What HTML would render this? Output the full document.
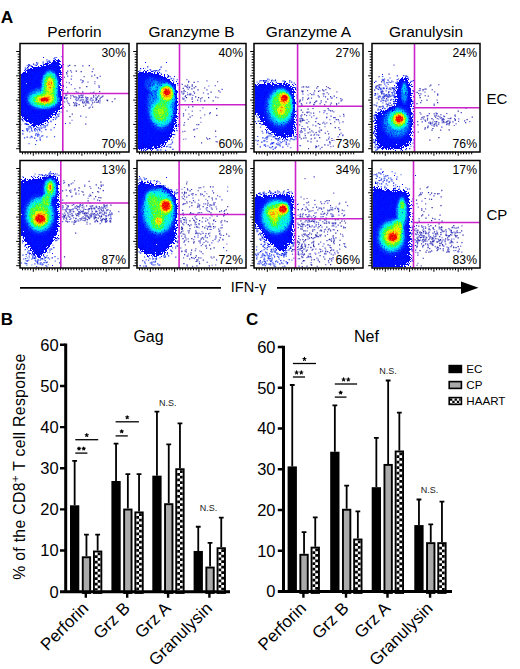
<!DOCTYPE html><html><head><meta charset="utf-8"><style>html,body{margin:0;padding:0;background:#fff;width:520px;height:669px;overflow:hidden}svg{display:block}text{font-family:"Liberation Sans", sans-serif;fill:#000}</style></head><body><svg width="520" height="669" viewBox="0 0 520 669"><defs><filter id="jet" x="0" y="0" width="1" height="1" color-interpolation-filters="sRGB"><feGaussianBlur in="SourceAlpha" stdDeviation="0.45" result="a0"/><feTurbulence type="fractalNoise" baseFrequency="0.7" numOctaves="2" seed="9" result="n"/><feComposite in="a0" in2="n" operator="arithmetic" k1="0.44" k2="0.78" k3="0" k4="0" result="a"/><feColorMatrix in="a" type="matrix" values="0 0 0 1 0 0 0 0 1 0 0 0 0 1 0 0 0 0 0 1"/><feComponentTransfer><feFuncR type="table" tableValues="1 1 1 1 1 1 1 0 0 0 0 0 0 0 0 0 0 0 0 0 0 0 0 0 0 0 0 0 0 0 0 0 0 0 0 0 0 0 0 0 0 0 0 0 0 0 0 0 0 0 0 0 0 0 0 0 0 0 0 0 0 0 0 0 0 0 0 0 0 0 0 0 0 0 0 0 0 0 0 0 0 0 0 0.008 0.017 0.025 0.033 0.042 0.05 0.058 0.067 0.075 0.083 0.092 0.1 0.122 0.144 0.166 0.188 0.21 0.232 0.254 0.276 0.298 0.32 0.35 0.38 0.41 0.44 0.47 0.5 0.53 0.56 0.59 0.62 0.65 0.68 0.707 0.733 0.76 0.787 0.813 0.84 0.867 0.893 0.92 0.947 0.973 1 1 1 1 1 1 1 1 1 1 1 1 1 1 1 1 1 1 1 1 1 1 1 1 1 1 1 1 1 1 1 1 1 0.997 0.994 0.991 0.988 0.984 0.981 0.978 0.975 0.972 0.969 0.966 0.963 0.959 0.956 0.953 0.95 0.944 0.938 0.931 0.925 0.919 0.912 0.906 0.9 0.894 0.887 0.881 0.875 0.869 0.863 0.856 0.85 0.844 0.838 0.831 0.825 0.819 0.812 0.806 0.8"/><feFuncG type="table" tableValues="1 1 1 1 1 1 1 0 0.002 0.003 0.005 0.006 0.008 0.009 0.011 0.012 0.014 0.015 0.017 0.018 0.02 0.021 0.023 0.024 0.026 0.027 0.029 0.03 0.032 0.033 0.035 0.036 0.038 0.039 0.041 0.042 0.044 0.045 0.047 0.048 0.05 0.062 0.075 0.087 0.1 0.112 0.125 0.137 0.15 0.162 0.175 0.188 0.2 0.23 0.26 0.29 0.32 0.35 0.38 0.41 0.44 0.47 0.5 0.53 0.56 0.59 0.62 0.65 0.68 0.71 0.74 0.77 0.8 0.82 0.84 0.86 0.88 0.9 0.92 0.94 0.96 0.98 1 1 1 1 1 1 1 1 1 1 1 1 1 1 1 1 1 1 1 1 1 1 1 1 1 1 1 1 1 1 1 1 1 1 1 0.996 0.992 0.988 0.983 0.979 0.975 0.971 0.967 0.962 0.958 0.954 0.95 0.925 0.9 0.875 0.85 0.825 0.8 0.775 0.75 0.725 0.7 0.675 0.65 0.625 0.6 0.575 0.55 0.525 0.5 0.475 0.45 0.425 0.4 0.375 0.35 0.325 0.3 0.275 0.25 0.225 0.2 0.175 0.15 0.141 0.131 0.122 0.113 0.103 0.094 0.084 0.075 0.066 0.056 0.047 0.038 0.028 0.019 0.009 0 0 0 0 0 0 0 0 0 0 0 0 0 0 0 0 0 0 0 0 0 0 0 0 0"/><feFuncB type="table" tableValues="1 1 1 1 1 1 1 0.92 0.922 0.925 0.927 0.93 0.932 0.935 0.937 0.939 0.942 0.944 0.947 0.949 0.952 0.954 0.956 0.959 0.961 0.964 0.966 0.968 0.971 0.973 0.976 0.978 0.981 0.983 0.985 0.988 0.99 0.993 0.995 0.998 1 1 1 1 1 1 1 1 1 1 1 1 1 1 1 1 1 1 1 1 1 1 1 1 1 1 1 1 1 1 1 1 1 0.99 0.98 0.97 0.96 0.95 0.94 0.93 0.92 0.91 0.9 0.867 0.833 0.8 0.767 0.733 0.7 0.667 0.633 0.6 0.567 0.533 0.5 0.465 0.43 0.395 0.36 0.325 0.29 0.255 0.22 0.185 0.15 0.137 0.125 0.112 0.1 0.087 0.075 0.062 0.05 0.038 0.025 0.013 0 0 0 0 0 0 0 0 0 0 0 0 0 0 0 0 0 0 0 0 0 0 0 0 0 0 0 0 0 0 0 0 0 0 0 0 0 0 0 0 0 0 0 0 0 0 0 0 0 0 0 0 0 0 0 0 0 0 0 0 0 0 0 0 0 0 0 0 0 0 0 0 0 0 0 0 0 0 0 0 0 0 0 0 0"/></feComponentTransfer></filter><filter id="es" x="-10%" y="-10%" width="120%" height="120%" color-interpolation-filters="sRGB"><feGaussianBlur in="SourceGraphic" stdDeviation="2.4" result="b"/><feTurbulence type="fractalNoise" baseFrequency="0.9" numOctaves="2" seed="3" result="n"/><feComposite in="b" in2="n" operator="arithmetic" k1="0" k2="3" k3="0.9" k4="-0.69"/><feComponentTransfer><feFuncA type="table" tableValues="0 0.1 0.2 0.2 0.2 0.2 0.2 0.2 0.2 0.2 0.2"/></feComponentTransfer></filter><radialGradient id="g"><stop offset="0" stop-opacity="1"/><stop offset="0.6" stop-opacity="1"/><stop offset="0.75" stop-opacity="0.8"/><stop offset="0.85" stop-opacity="0.45"/><stop offset="0.93" stop-opacity="0.15"/><stop offset="1" stop-opacity="0"/></radialGradient><pattern id="chk" width="3.2" height="3.2" patternUnits="userSpaceOnUse"><rect width="3.2" height="3.2" fill="#fff"/><rect width="1.6" height="1.6" fill="#000"/><rect x="1.6" y="1.6" width="1.6" height="1.6" fill="#000"/></pattern><filter id="bl1" x="-30%" y="-30%" width="160%" height="160%"><feGaussianBlur stdDeviation="1.0"/></filter><filter id="bl2" x="-30%" y="-30%" width="160%" height="160%"><feGaussianBlur stdDeviation="1.5"/></filter><filter id="bl3" x="-30%" y="-30%" width="160%" height="160%"><feGaussianBlur stdDeviation="2.0"/></filter></defs><text x="0.8" y="23.2" font-size="17.3" font-weight="bold">A</text><text x="74.5" y="36.6" font-size="15.5" text-anchor="middle">Perforin</text><text x="191.5" y="36.6" font-size="15.5" text-anchor="middle">Granzyme B</text><text x="308.5" y="36.6" font-size="15.5" text-anchor="middle">Granzyme A</text><text x="426" y="36.6" font-size="15.5" text-anchor="middle">Granulysin</text><clipPath id="c0"><rect x="20.8" y="44.3" width="107.4" height="106.9"/></clipPath><g clip-path="url(#c0)"><g filter="url(#jet)"><rect x="17" y="40.5" width="115" height="114.5" fill="none"/><path d="M19.11 75.68C19.69 69.27 21.45 74.93 22.72 74.08C24 73.23 25.11 71.65 26.73 70.57C28.35 69.5 29.52 68.61 32.46 67.62C35.4 66.63 40.8 65.74 44.39 64.64C47.97 63.54 51.43 61.99 53.96 61.01C56.5 60.04 58.46 59.16 59.6 58.8C60.74 58.43 60.64 55.28 60.79 58.82C60.94 62.35 60.54 72.04 60.5 80C60.46 87.96 61.47 100.94 60.57 106.59C59.66 112.24 57.36 111.52 55.05 113.91C52.75 116.3 49.26 119.06 46.73 120.95C44.21 122.84 42.29 124.46 39.9 125.26C37.52 126.06 34.75 126.63 32.41 125.77C30.08 124.9 28.11 122.28 25.91 120.08C23.72 117.87 20.35 119.94 19.22 112.54C18.08 105.14 18.52 82.09 19.11 75.68Z" fill-opacity="0.2" filter="url(#es)"/><ellipse cx="43.5" cy="98.5" rx="20" ry="12.94" fill="url(#g)" opacity="0.138"/><ellipse cx="50" cy="85" rx="10.35" ry="17.06" fill="url(#g)" opacity="0.138"/><ellipse cx="43.5" cy="100" rx="16.94" ry="9.88" fill="url(#g)" opacity="0.145"/><ellipse cx="49.9" cy="84.3" rx="9.41" ry="15.29" fill="url(#g)" opacity="0.145"/><ellipse cx="44.5" cy="99.7" rx="13.41" ry="7.06" fill="url(#g)" opacity="0.186"/><ellipse cx="49.9" cy="84.3" rx="6.59" ry="11.18" fill="url(#g)" opacity="0.186"/><ellipse cx="44.5" cy="99.7" rx="9.18" ry="4.59" fill="url(#g)" opacity="0.250"/><ellipse cx="49.9" cy="84.3" rx="4" ry="7.65" fill="url(#g)" opacity="0.250"/><ellipse cx="44.5" cy="99.7" rx="6.59" ry="3.18" fill="url(#g)" opacity="0.222"/><ellipse cx="49.9" cy="84.3" rx="2.35" ry="4.24" fill="url(#g)" opacity="0.111"/><ellipse cx="44.5" cy="99.7" rx="5.06" ry="2.12" fill="url(#g)" opacity="0.500"/></g><path fill="#2626a8" d="M64.25 96.52h1.2v1.2h-1.2zM65.17 94.56h1.2v1.2h-1.2zM65.64 98.01h1.2v1.2h-1.2zM66.06 72.02h1.2v1.2h-1.2zM66.45 97.29h1.2v1.2h-1.2zM66.64 100.4h1.2v1.2h-1.2zM66.48 110.39h1.2v1.2h-1.2zM67.15 91.53h1.2v1.2h-1.2zM69.1 64.69h1.2v1.2h-1.2zM69.32 116.11h1.2v1.2h-1.2zM70.05 70.15h1.2v1.2h-1.2zM70.25 95.35h1.2v1.2h-1.2zM73.06 96.17h1.2v1.2h-1.2zM73.13 101.98h1.2v1.2h-1.2zM74.47 65.1h1.2v1.2h-1.2zM74.33 88.14h1.2v1.2h-1.2zM74.09 96.39h1.2v1.2h-1.2zM74.31 103.36h1.2v1.2h-1.2zM74.06 104.65h1.2v1.2h-1.2zM75.7 70.47h1.2v1.2h-1.2zM75.65 105.35h1.2v1.2h-1.2zM75.92 104.43h1.2v1.2h-1.2zM78.52 104.01h1.2v1.2h-1.2zM79.28 87.23h1.2v1.2h-1.2zM79.17 96.97h1.2v1.2h-1.2zM80.6 71.11h1.2v1.2h-1.2zM80.61 93.26h1.2v1.2h-1.2zM80.48 95.09h1.2v1.2h-1.2zM81.36 99.34h1.2v1.2h-1.2zM81.95 92.63h1.2v1.2h-1.2zM82.03 101.5h1.2v1.2h-1.2zM83.62 76.17h1.2v1.2h-1.2zM83.02 105.65h1.2v1.2h-1.2zM83.9 101.45h1.2v1.2h-1.2zM85.19 104.51h1.2v1.2h-1.2zM86.19 86.03h1.2v1.2h-1.2zM86.38 101.55h1.2v1.2h-1.2zM87.26 97.22h1.2v1.2h-1.2zM87.53 100.64h1.2v1.2h-1.2zM88.7 65.01h1.2v1.2h-1.2zM88.5 107.58h1.2v1.2h-1.2zM92.63 68.39h1.2v1.2h-1.2zM92.41 99.51h1.2v1.2h-1.2zM92.03 102.23h1.2v1.2h-1.2zM92.93 95.32h1.2v1.2h-1.2zM95.99 98.22h1.2v1.2h-1.2zM96.17 99.01h1.2v1.2h-1.2zM96.1 101.65h1.2v1.2h-1.2zM96.94 96.53h1.2v1.2h-1.2zM97.48 101.53h1.2v1.2h-1.2zM98.22 95.3h1.2v1.2h-1.2zM97.98 100.18h1.2v1.2h-1.2zM99.62 75.63h1.2v1.2h-1.2zM99.35 98.23h1.2v1.2h-1.2zM101.13 96.61h1.2v1.2h-1.2zM102.27 95.62h1.2v1.2h-1.2zM106.45 99.56h1.2v1.2h-1.2zM106.99 99.99h1.2v1.2h-1.2zM111.65 101.16h1.2v1.2h-1.2zM114.32 98.24h1.2v1.2h-1.2z"/><path fill="#3c3cc0" d="M63.92 76.63h1.2v1.2h-1.2zM64.14 101.39h1.2v1.2h-1.2zM66.25 73.2h1.2v1.2h-1.2zM66.16 94.53h1.2v1.2h-1.2zM67.61 65.6h1.2v1.2h-1.2zM67.1 70.58h1.2v1.2h-1.2zM67.09 75.6h1.2v1.2h-1.2zM68.68 82.28h1.2v1.2h-1.2zM68.98 104.63h1.2v1.2h-1.2zM69.34 122.43h1.2v1.2h-1.2zM70.65 78.6h1.2v1.2h-1.2zM71.7 113.48h1.2v1.2h-1.2zM75.6 91.2h1.2v1.2h-1.2zM75.34 96.35h1.2v1.2h-1.2zM76.03 97.42h1.2v1.2h-1.2zM76.24 103h1.2v1.2h-1.2zM77.96 98.32h1.2v1.2h-1.2zM79 95.61h1.2v1.2h-1.2zM80.36 79.26h1.2v1.2h-1.2zM80.14 115.48h1.2v1.2h-1.2zM80.92 97.04h1.2v1.2h-1.2zM82.25 65.26h1.2v1.2h-1.2zM82.32 80.01h1.2v1.2h-1.2zM82.45 81.08h1.2v1.2h-1.2zM82.14 91.26h1.2v1.2h-1.2zM82.15 95.16h1.2v1.2h-1.2zM82.01 96.52h1.2v1.2h-1.2zM82.52 102.6h1.2v1.2h-1.2zM85.06 96.59h1.2v1.2h-1.2zM85.45 99.95h1.2v1.2h-1.2zM85.15 123.59h1.2v1.2h-1.2zM86.62 96.91h1.2v1.2h-1.2zM86.41 100.46h1.2v1.2h-1.2zM86.35 102.33h1.2v1.2h-1.2zM87.09 98.66h1.2v1.2h-1.2zM89.68 99.42h1.2v1.2h-1.2zM90.14 92.55h1.2v1.2h-1.2zM91.67 71.12h1.2v1.2h-1.2zM91.24 75.6h1.2v1.2h-1.2zM91.17 97.67h1.2v1.2h-1.2zM92.52 92.23h1.2v1.2h-1.2zM92.04 106.59h1.2v1.2h-1.2zM93 96.45h1.2v1.2h-1.2zM94.12 74.48h1.2v1.2h-1.2zM94.3 81.14h1.2v1.2h-1.2zM94.12 101.54h1.2v1.2h-1.2zM95.32 97.99h1.2v1.2h-1.2zM95.31 99.68h1.2v1.2h-1.2zM96.62 77.04h1.2v1.2h-1.2zM99.08 91.01h1.2v1.2h-1.2zM99.43 100.27h1.2v1.2h-1.2z"/><path fill="#6060d4" d="M65.96 81.63h1.2v1.2h-1.2zM65.96 86.63h1.2v1.2h-1.2zM65.91 98.37h1.2v1.2h-1.2zM67.33 102.24h1.2v1.2h-1.2zM68.35 103.03h1.2v1.2h-1.2zM70.69 84.05h1.2v1.2h-1.2zM70.04 97.49h1.2v1.2h-1.2zM70.92 71.53h1.2v1.2h-1.2zM71.02 75.62h1.2v1.2h-1.2zM71.4 119.63h1.2v1.2h-1.2zM72.37 94.9h1.2v1.2h-1.2zM73.61 104.95h1.2v1.2h-1.2zM74.95 98.52h1.2v1.2h-1.2zM75.63 100.16h1.2v1.2h-1.2zM75.29 101.93h1.2v1.2h-1.2zM76.13 99.56h1.2v1.2h-1.2zM77.41 91.69h1.2v1.2h-1.2zM77.5 97.33h1.2v1.2h-1.2zM77.38 99.52h1.2v1.2h-1.2zM77.99 95.25h1.2v1.2h-1.2zM79.43 100.34h1.2v1.2h-1.2zM80.1 99.47h1.2v1.2h-1.2zM81.48 82.11h1.2v1.2h-1.2zM82.34 94.58h1.2v1.2h-1.2zM82.38 97.11h1.2v1.2h-1.2zM82.06 100.68h1.2v1.2h-1.2zM82.94 99.26h1.2v1.2h-1.2zM84.6 103.16h1.2v1.2h-1.2zM85.39 98.39h1.2v1.2h-1.2zM85.54 101.3h1.2v1.2h-1.2zM85.48 116.59h1.2v1.2h-1.2zM85.92 97.99h1.2v1.2h-1.2zM86.04 99.41h1.2v1.2h-1.2zM87.36 81.48h1.2v1.2h-1.2zM87.4 101.94h1.2v1.2h-1.2zM88.24 102.46h1.2v1.2h-1.2zM89.56 106.49h1.2v1.2h-1.2zM90.52 97.51h1.2v1.2h-1.2zM90.3 98.42h1.2v1.2h-1.2zM91.31 100.2h1.2v1.2h-1.2zM91.1 104.3h1.2v1.2h-1.2zM93.43 91.38h1.2v1.2h-1.2zM94.26 83.15h1.2v1.2h-1.2zM95.27 94.46h1.2v1.2h-1.2zM95.46 96.67h1.2v1.2h-1.2zM97 77.5h1.2v1.2h-1.2zM98.38 85.01h1.2v1.2h-1.2zM98.5 86.32h1.2v1.2h-1.2zM98.69 86.9h1.2v1.2h-1.2zM99.23 102.32h1.2v1.2h-1.2zM99.97 97.34h1.2v1.2h-1.2z"/><path fill="#0a1ee6" d="M22 130.07h1.2v1.2h-1.2zM22.23 133.28h1.2v1.2h-1.2zM24.46 123.31h1.2v1.2h-1.2zM25.34 123.15h1.2v1.2h-1.2zM26.26 123.2h1.2v1.2h-1.2zM26.6 136.57h1.2v1.2h-1.2zM27.33 67.26h1.2v1.2h-1.2zM27.01 130.31h1.2v1.2h-1.2zM28.18 63.98h1.2v1.2h-1.2zM28.2 65.39h1.2v1.2h-1.2zM29.01 64.58h1.2v1.2h-1.2zM30.5 65.29h1.2v1.2h-1.2zM30.91 127.51h1.2v1.2h-1.2zM31.49 136.43h1.2v1.2h-1.2zM32.95 63.58h1.2v1.2h-1.2zM34.35 128.18h1.2v1.2h-1.2zM34 129.52h1.2v1.2h-1.2zM34.2 137.53h1.2v1.2h-1.2zM35.11 134.54h1.2v1.2h-1.2zM36 62.29h1.2v1.2h-1.2zM37.29 133.64h1.2v1.2h-1.2zM37.13 135.46h1.2v1.2h-1.2zM39.08 128.64h1.2v1.2h-1.2zM39.06 129.51h1.2v1.2h-1.2zM41.18 127.47h1.2v1.2h-1.2zM41.32 135.49h1.2v1.2h-1.2zM44.63 125.54h1.2v1.2h-1.2zM45.28 129.11h1.2v1.2h-1.2zM46.58 61.15h1.2v1.2h-1.2zM46.63 124.62h1.2v1.2h-1.2zM47 61.63h1.2v1.2h-1.2zM47.63 122.12h1.2v1.2h-1.2zM48.2 60.58h1.2v1.2h-1.2zM49.14 60.48h1.2v1.2h-1.2zM52.61 118.96h1.2v1.2h-1.2zM53.93 136.16h1.2v1.2h-1.2zM56.2 117.14h1.2v1.2h-1.2zM57.55 115.61h1.2v1.2h-1.2zM58.41 113.21h1.2v1.2h-1.2zM58.17 115.62h1.2v1.2h-1.2z"/><path fill="#2844f0" d="M20.92 118.47h1.2v1.2h-1.2zM22.07 119.96h1.2v1.2h-1.2zM23.94 137.33h1.2v1.2h-1.2zM25.39 67.95h1.2v1.2h-1.2zM25.95 128.27h1.2v1.2h-1.2zM26.26 129.67h1.2v1.2h-1.2zM27.21 68.54h1.2v1.2h-1.2zM27.45 124.12h1.2v1.2h-1.2zM27.3 128.28h1.2v1.2h-1.2zM27.92 126.38h1.2v1.2h-1.2zM29.12 126.11h1.2v1.2h-1.2zM30.08 126.32h1.2v1.2h-1.2zM30.64 135.68h1.2v1.2h-1.2zM30.9 129.34h1.2v1.2h-1.2zM31.58 130.51h1.2v1.2h-1.2zM32.96 126.56h1.2v1.2h-1.2zM34.61 64.45h1.2v1.2h-1.2zM35.54 133.11h1.2v1.2h-1.2zM34.98 143.92h1.2v1.2h-1.2zM36.54 127.07h1.2v1.2h-1.2zM36.22 129.03h1.2v1.2h-1.2zM36.05 140.03h1.2v1.2h-1.2zM37.17 62.45h1.2v1.2h-1.2zM37.54 127.13h1.2v1.2h-1.2zM37.23 134.19h1.2v1.2h-1.2zM38.43 134.3h1.2v1.2h-1.2zM39.42 127.19h1.2v1.2h-1.2zM39.46 136.63h1.2v1.2h-1.2zM39.49 138.6h1.2v1.2h-1.2zM39.69 139.55h1.2v1.2h-1.2zM42.61 62.15h1.2v1.2h-1.2zM42.58 124.31h1.2v1.2h-1.2zM44.44 126.93h1.2v1.2h-1.2zM46.4 59.23h1.2v1.2h-1.2zM46.29 136.18h1.2v1.2h-1.2zM50.22 120.49h1.2v1.2h-1.2zM50.46 121.1h1.2v1.2h-1.2zM50.41 129.19h1.2v1.2h-1.2zM53.45 58.05h1.2v1.2h-1.2zM53.58 127.06h1.2v1.2h-1.2zM54.35 57h1.2v1.2h-1.2zM55.69 116.41h1.2v1.2h-1.2zM55 118.49h1.2v1.2h-1.2zM57.12 114.03h1.2v1.2h-1.2z"/><path fill="#5a74f4" d="M23.06 120.4h1.2v1.2h-1.2zM23.13 130.42h1.2v1.2h-1.2zM24.68 67.28h1.2v1.2h-1.2zM24.46 69.53h1.2v1.2h-1.2zM26.64 65.11h1.2v1.2h-1.2zM27.12 129.1h1.2v1.2h-1.2zM28.43 128.21h1.2v1.2h-1.2zM28.44 143.01h1.2v1.2h-1.2zM29.03 125.7h1.2v1.2h-1.2zM29.6 127.06h1.2v1.2h-1.2zM29.19 131.33h1.2v1.2h-1.2zM29.54 137.22h1.2v1.2h-1.2zM34.62 130.57h1.2v1.2h-1.2zM36.58 64.04h1.2v1.2h-1.2zM36.95 130.25h1.2v1.2h-1.2zM37.6 132.42h1.2v1.2h-1.2zM38.08 128.48h1.2v1.2h-1.2zM39.23 130.01h1.2v1.2h-1.2zM40.36 125.44h1.2v1.2h-1.2zM41.07 131.13h1.2v1.2h-1.2zM42.59 61.25h1.2v1.2h-1.2zM42.57 63.34h1.2v1.2h-1.2zM42.62 126.6h1.2v1.2h-1.2zM42.25 135.02h1.2v1.2h-1.2zM43.61 125.12h1.2v1.2h-1.2zM46.36 125.12h1.2v1.2h-1.2zM47.22 124.16h1.2v1.2h-1.2zM53.96 58.06h1.2v1.2h-1.2zM54.34 117.35h1.2v1.2h-1.2zM56.02 56.91h1.2v1.2h-1.2zM60.51 111.44h1.2v1.2h-1.2zM60.9 56.17h1.2v1.2h-1.2z"/></g><path d="M62.8 43.5V152 M62.8 93.5H129" stroke="#cc22cc" stroke-width="1.6" fill="none"/><rect x="20" y="43.5" width="109" height="108.5" fill="none" stroke="#000" stroke-width="1.5"/><path d="M20 51.5h-3.8M20 54.2h-2.3M20 56.9h-2.3M20 59.6h-2.3M20 62.3h-2.3M20 65h-2.3M20 67.7h-2.3M20 70.4h-2.3M20 73.1h-2.3M20 75.8h-3.8M20 78.5h-2.3M20 81.2h-2.3M20 83.9h-2.3M20 86.6h-2.3M20 89.3h-2.3M20 92h-2.3M20 94.7h-2.3M20 97.4h-2.3M20 100.1h-3.8M20 102.8h-2.3M20 105.5h-2.3M20 108.2h-2.3M20 110.9h-2.3M20 113.6h-2.3M20 116.3h-2.3M20 119h-2.3M20 121.7h-2.3M20 124.4h-3.8M20 127.1h-2.3M20 129.8h-2.3M20 132.5h-2.3M20 135.2h-2.3M20 137.9h-2.3M20 140.6h-2.3M20 143.3h-2.3M20 146h-2.3M20 148.7h-3.8M22.5 152v2.3M25.2 152v2.3M27.9 152v2.3M30.6 152v2.3M33.3 152v3.8M36 152v2.3M38.7 152v2.3M41.4 152v2.3M44.1 152v2.3M46.8 152v2.3M49.5 152v2.3M52.2 152v2.3M54.9 152v2.3M57.6 152v3.8M60.3 152v2.3M63 152v2.3M65.7 152v2.3M68.4 152v2.3M71.1 152v2.3M73.8 152v2.3M76.5 152v2.3M79.2 152v2.3M81.9 152v3.8M84.6 152v2.3M87.3 152v2.3M90 152v2.3M92.7 152v2.3M95.4 152v2.3M98.1 152v2.3M100.8 152v2.3M103.5 152v2.3M106.2 152v3.8M108.9 152v2.3M111.6 152v2.3M114.3 152v2.3M117 152v2.3M119.7 152v2.3" stroke="#000" stroke-width="1" fill="none"/><text x="126" y="56.7" text-anchor="end" font-size="12.2">30%</text><text x="126" y="148" text-anchor="end" font-size="12.2">70%</text><clipPath id="c1"><rect x="137.8" y="44.3" width="107.4" height="106.9"/></clipPath><g clip-path="url(#c1)"><g filter="url(#jet)"><rect x="134" y="40.5" width="115" height="114.5" fill="none"/><path d="M135.92 72.62C136.35 60.08 137.02 73.27 138.59 72.99C140.16 72.7 142.9 70.91 145.33 70.9C147.75 70.89 150.04 72.06 153.15 72.95C156.25 73.85 160.82 74.84 163.94 76.27C167.07 77.71 169.95 79.83 171.91 81.54C173.86 83.26 174.92 84.32 175.69 86.57C176.45 88.82 176.41 89.51 176.5 95.06C176.59 100.61 176.58 114.11 176.21 119.86C175.83 125.62 175.31 126.44 174.27 129.59C173.22 132.74 171.67 136.13 169.92 138.77C168.18 141.41 166.15 143.84 163.79 145.41C161.42 146.99 158.7 147.63 155.73 148.23C152.76 148.83 148.73 148.92 145.98 149C143.22 149.08 140.84 148.85 139.19 148.71C137.53 148.58 136.57 160.88 136.02 148.2C135.48 135.52 135.49 85.15 135.92 72.62Z" fill-opacity="0.2" filter="url(#es)"/><ellipse cx="151" cy="84" rx="8.24" ry="8.24" fill="url(#g)" opacity="0.083"/><ellipse cx="161.5" cy="104.7" rx="17.06" ry="29.06" fill="url(#g)" opacity="0.138"/><ellipse cx="167" cy="94" rx="11.18" ry="12.94" fill="url(#g)" opacity="0.145"/><ellipse cx="161.5" cy="113" rx="12.94" ry="15.88" fill="url(#g)" opacity="0.145"/><ellipse cx="166.4" cy="93.5" rx="8.24" ry="9.53" fill="url(#g)" opacity="0.186"/><ellipse cx="160.7" cy="112" rx="8.94" ry="10.82" fill="url(#g)" opacity="0.186"/><ellipse cx="160.6" cy="112.4" rx="3.53" ry="4.71" fill="url(#g)" opacity="0.088"/><ellipse cx="167.1" cy="93.3" rx="7.06" ry="8.24" fill="url(#g)" opacity="0.250"/><ellipse cx="164" cy="90" rx="3.53" ry="3.53" fill="url(#g)" opacity="0.125"/><ellipse cx="167.1" cy="93" rx="5.06" ry="5.76" fill="url(#g)" opacity="0.222"/><ellipse cx="166.9" cy="92.2" rx="3.41" ry="3.41" fill="url(#g)" opacity="0.500"/></g><path fill="#2626a8" d="M182.65 87.68h1.2v1.2h-1.2zM182.66 98.64h1.2v1.2h-1.2zM183.59 89.65h1.2v1.2h-1.2zM182.92 113.29h1.2v1.2h-1.2zM183.37 124.45h1.2v1.2h-1.2zM184.39 85.39h1.2v1.2h-1.2zM184.65 95.97h1.2v1.2h-1.2zM184.32 130.67h1.2v1.2h-1.2zM185.93 96.99h1.2v1.2h-1.2zM187.6 118.67h1.2v1.2h-1.2zM188.92 86.93h1.2v1.2h-1.2zM191.56 85.45h1.2v1.2h-1.2zM191.32 88.36h1.2v1.2h-1.2zM191.51 98.55h1.2v1.2h-1.2zM191.9 100.95h1.2v1.2h-1.2zM193.54 81.68h1.2v1.2h-1.2zM193.57 87.23h1.2v1.2h-1.2zM193.17 129.18h1.2v1.2h-1.2zM193.91 92.52h1.2v1.2h-1.2zM195.11 96.37h1.2v1.2h-1.2zM196.32 124.17h1.2v1.2h-1.2zM197.44 89.26h1.2v1.2h-1.2zM197.09 99.61h1.2v1.2h-1.2zM198.04 97.02h1.2v1.2h-1.2zM200.1 98.28h1.2v1.2h-1.2zM201.53 97.17h1.2v1.2h-1.2zM204.09 87.42h1.2v1.2h-1.2zM204.11 100.32h1.2v1.2h-1.2zM207.1 138.6h1.2v1.2h-1.2zM208.05 97.09h1.2v1.2h-1.2zM209.14 113.16h1.2v1.2h-1.2zM210.48 91.44h1.2v1.2h-1.2zM212.53 100.33h1.2v1.2h-1.2zM214.96 130.51h1.2v1.2h-1.2zM216.1 108.07h1.2v1.2h-1.2zM216.23 114.69h1.2v1.2h-1.2zM218.2 90.19h1.2v1.2h-1.2z"/><path fill="#3c3cc0" d="M181.63 83.69h1.2v1.2h-1.2zM181.21 91.01h1.2v1.2h-1.2zM182.53 93.53h1.2v1.2h-1.2zM182.17 97.53h1.2v1.2h-1.2zM182.2 131.13h1.2v1.2h-1.2zM183.37 90.49h1.2v1.2h-1.2zM183.28 92.55h1.2v1.2h-1.2zM182.91 115.3h1.2v1.2h-1.2zM186.2 85.95h1.2v1.2h-1.2zM186.63 87.01h1.2v1.2h-1.2zM187.06 84.6h1.2v1.2h-1.2zM187.67 88.65h1.2v1.2h-1.2zM188.17 80.64h1.2v1.2h-1.2zM188.01 81.47h1.2v1.2h-1.2zM188.66 94.05h1.2v1.2h-1.2zM188.01 106.44h1.2v1.2h-1.2zM189.61 116.48h1.2v1.2h-1.2zM191.66 84.26h1.2v1.2h-1.2zM192.2 106h1.2v1.2h-1.2zM194.12 128.65h1.2v1.2h-1.2zM193.96 136.05h1.2v1.2h-1.2zM195.18 85.94h1.2v1.2h-1.2zM198.15 124.05h1.2v1.2h-1.2zM201 142.32h1.2v1.2h-1.2zM206.33 89.35h1.2v1.2h-1.2zM207.51 93.32h1.2v1.2h-1.2zM209.66 111.97h1.2v1.2h-1.2zM209.08 137.96h1.2v1.2h-1.2zM215.15 96.51h1.2v1.2h-1.2zM216.64 141.3h1.2v1.2h-1.2zM217.03 81.16h1.2v1.2h-1.2zM217.35 97.14h1.2v1.2h-1.2zM221.53 88.68h1.2v1.2h-1.2z"/><path fill="#6060d4" d="M181.27 92.38h1.2v1.2h-1.2zM183.58 98.27h1.2v1.2h-1.2zM183.05 138.66h1.2v1.2h-1.2zM184.68 90.92h1.2v1.2h-1.2zM184.51 100.22h1.2v1.2h-1.2zM183.94 122.03h1.2v1.2h-1.2zM185.04 85.49h1.2v1.2h-1.2zM185.07 94.92h1.2v1.2h-1.2zM185.08 109.54h1.2v1.2h-1.2zM185.3 138.42h1.2v1.2h-1.2zM186.27 79.05h1.2v1.2h-1.2zM186.91 92.14h1.2v1.2h-1.2zM186.93 94.11h1.2v1.2h-1.2zM188.4 86.2h1.2v1.2h-1.2zM188.28 113.4h1.2v1.2h-1.2zM189.15 93.19h1.2v1.2h-1.2zM189.61 94.36h1.2v1.2h-1.2zM190.23 93.33h1.2v1.2h-1.2zM190.27 94.17h1.2v1.2h-1.2zM191.63 97.09h1.2v1.2h-1.2zM191.65 110.58h1.2v1.2h-1.2zM191.61 115.03h1.2v1.2h-1.2zM192.31 94.69h1.2v1.2h-1.2zM193.13 91.04h1.2v1.2h-1.2zM196.48 128.09h1.2v1.2h-1.2zM197.37 81.03h1.2v1.2h-1.2zM199.66 110.13h1.2v1.2h-1.2zM199.98 100.45h1.2v1.2h-1.2zM200.18 117.35h1.2v1.2h-1.2zM200.3 121.64h1.2v1.2h-1.2zM202.31 107.2h1.2v1.2h-1.2zM202.9 92.3h1.2v1.2h-1.2zM204.12 114.36h1.2v1.2h-1.2zM206.41 80.27h1.2v1.2h-1.2zM205.97 137.3h1.2v1.2h-1.2zM208.29 85.41h1.2v1.2h-1.2zM214.68 85.12h1.2v1.2h-1.2zM215.25 135.97h1.2v1.2h-1.2zM215.54 141.09h1.2v1.2h-1.2zM219.56 91.54h1.2v1.2h-1.2z"/><path fill="#0a1ee6" d="M140.03 68.11h1.2v1.2h-1.2zM147.13 66.21h1.2v1.2h-1.2zM153.1 70.39h1.2v1.2h-1.2zM154.52 70.11h1.2v1.2h-1.2zM156.47 149.42h1.2v1.2h-1.2zM160.5 66.44h1.2v1.2h-1.2zM160.25 149.23h1.2v1.2h-1.2zM167.22 76.5h1.2v1.2h-1.2zM167.9 75.11h1.2v1.2h-1.2zM170.29 143.64h1.2v1.2h-1.2zM170.08 146.47h1.2v1.2h-1.2zM171.93 141.61h1.2v1.2h-1.2zM172.3 148.68h1.2v1.2h-1.2zM173.08 78.39h1.2v1.2h-1.2zM177.99 104.02h1.2v1.2h-1.2z"/><path fill="#2844f0" d="M139.25 70.27h1.2v1.2h-1.2zM149.45 68.92h1.2v1.2h-1.2zM150.11 69.52h1.2v1.2h-1.2zM154.98 71.16h1.2v1.2h-1.2zM155.94 69.92h1.2v1.2h-1.2zM157.33 70.36h1.2v1.2h-1.2zM157.14 149.27h1.2v1.2h-1.2zM158.95 68.99h1.2v1.2h-1.2zM165.07 149.69h1.2v1.2h-1.2zM165.95 145.98h1.2v1.2h-1.2zM169.46 75.94h1.2v1.2h-1.2zM170.51 78.32h1.2v1.2h-1.2zM171.13 77.65h1.2v1.2h-1.2zM171.19 139.25h1.2v1.2h-1.2zM174.22 134.17h1.2v1.2h-1.2zM176.67 79.14h1.2v1.2h-1.2zM177.59 125.59h1.2v1.2h-1.2z"/><path fill="#5a74f4" d="M143.33 149.07h1.2v1.2h-1.2zM145.64 150.53h1.2v1.2h-1.2zM152.63 69.96h1.2v1.2h-1.2zM158.24 70.28h1.2v1.2h-1.2zM158.23 149.4h1.2v1.2h-1.2zM159.55 68.64h1.2v1.2h-1.2zM160.3 72.66h1.2v1.2h-1.2zM165.37 70.24h1.2v1.2h-1.2zM166.91 73.97h1.2v1.2h-1.2zM167.05 145.69h1.2v1.2h-1.2zM168.39 144.05h1.2v1.2h-1.2zM168.68 146.53h1.2v1.2h-1.2zM171.37 142.65h1.2v1.2h-1.2zM173.11 80.54h1.2v1.2h-1.2zM172.93 136.95h1.2v1.2h-1.2zM175.95 129.68h1.2v1.2h-1.2zM176.66 130.06h1.2v1.2h-1.2zM177.1 84.62h1.2v1.2h-1.2zM178.34 82.9h1.2v1.2h-1.2zM178.27 116.39h1.2v1.2h-1.2z"/></g><path d="M179.5 43.5V152 M179.5 104.7H246" stroke="#cc22cc" stroke-width="1.6" fill="none"/><rect x="137" y="43.5" width="109" height="108.5" fill="none" stroke="#000" stroke-width="1.5"/><path d="M137 51.5h-3.8M137 54.2h-2.3M137 56.9h-2.3M137 59.6h-2.3M137 62.3h-2.3M137 65h-2.3M137 67.7h-2.3M137 70.4h-2.3M137 73.1h-2.3M137 75.8h-3.8M137 78.5h-2.3M137 81.2h-2.3M137 83.9h-2.3M137 86.6h-2.3M137 89.3h-2.3M137 92h-2.3M137 94.7h-2.3M137 97.4h-2.3M137 100.1h-3.8M137 102.8h-2.3M137 105.5h-2.3M137 108.2h-2.3M137 110.9h-2.3M137 113.6h-2.3M137 116.3h-2.3M137 119h-2.3M137 121.7h-2.3M137 124.4h-3.8M137 127.1h-2.3M137 129.8h-2.3M137 132.5h-2.3M137 135.2h-2.3M137 137.9h-2.3M137 140.6h-2.3M137 143.3h-2.3M137 146h-2.3M137 148.7h-3.8M139.5 152v2.3M142.2 152v2.3M144.9 152v2.3M147.6 152v2.3M150.3 152v3.8M153 152v2.3M155.7 152v2.3M158.4 152v2.3M161.1 152v2.3M163.8 152v2.3M166.5 152v2.3M169.2 152v2.3M171.9 152v2.3M174.6 152v3.8M177.3 152v2.3M180 152v2.3M182.7 152v2.3M185.4 152v2.3M188.1 152v2.3M190.8 152v2.3M193.5 152v2.3M196.2 152v2.3M198.9 152v3.8M201.6 152v2.3M204.3 152v2.3M207 152v2.3M209.7 152v2.3M212.4 152v2.3M215.1 152v2.3M217.8 152v2.3M220.5 152v2.3M223.2 152v3.8M225.9 152v2.3M228.6 152v2.3M231.3 152v2.3M234 152v2.3M236.7 152v2.3" stroke="#000" stroke-width="1" fill="none"/><text x="243" y="56.7" text-anchor="end" font-size="12.2">40%</text><text x="243" y="148" text-anchor="end" font-size="12.2">60%</text><clipPath id="c2"><rect x="254.8" y="44.3" width="107.4" height="106.9"/></clipPath><g clip-path="url(#c2)"><g filter="url(#jet)"><rect x="251" y="40.5" width="115" height="114.5" fill="none"/><path d="M252.96 84.88C253.52 80.47 254.33 85.07 256.44 84.89C258.55 84.71 262.19 84.08 265.61 83.8C269.03 83.51 273.2 83.11 276.97 83.2C280.73 83.29 285.47 83.86 288.19 84.36C290.91 84.87 292.29 84.93 293.29 86.22C294.3 87.52 294.04 84.55 294.21 92.12C294.37 99.68 294.76 124.29 294.26 131.61C293.76 138.94 292.75 134.98 291.22 136.06C289.69 137.14 287.34 138.12 285.07 138.1C282.8 138.08 280.31 137.41 277.58 135.94C274.85 134.46 271.47 131.86 268.69 129.25C265.9 126.64 262.79 122.95 260.88 120.27C258.97 117.59 258.51 114.67 257.21 113.17C255.92 111.68 253.81 116.03 253.1 111.31C252.39 106.6 252.41 89.28 252.96 84.88Z" fill-opacity="0.2" filter="url(#es)"/><ellipse cx="279.9" cy="107.4" rx="16.82" ry="23.29" fill="url(#g)" opacity="0.138"/><ellipse cx="281" cy="106.4" rx="14.12" ry="20" fill="url(#g)" opacity="0.145"/><ellipse cx="281.6" cy="105" rx="11.29" ry="16.71" fill="url(#g)" opacity="0.186"/><ellipse cx="283" cy="104" rx="3.53" ry="5.88" fill="url(#g)" opacity="0.125"/><ellipse cx="284.4" cy="98.4" rx="6.59" ry="6.94" fill="url(#g)" opacity="0.250"/><ellipse cx="281.3" cy="110.5" rx="4.71" ry="5.41" fill="url(#g)" opacity="0.250"/><ellipse cx="284.4" cy="98.1" rx="4.82" ry="4.82" fill="url(#g)" opacity="0.222"/><ellipse cx="281.3" cy="110.5" rx="1.76" ry="1.76" fill="url(#g)" opacity="0.133"/><ellipse cx="284.4" cy="98.1" rx="3.65" ry="3.65" fill="url(#g)" opacity="0.500"/></g><path fill="#2626a8" d="M299.58 99.39h1.2v1.2h-1.2zM299.46 100.19h1.2v1.2h-1.2zM299.23 136.62h1.2v1.2h-1.2zM300.66 109.52h1.2v1.2h-1.2zM300.54 117.7h1.2v1.2h-1.2zM300.01 120.15h1.2v1.2h-1.2zM300.2 121.18h1.2v1.2h-1.2zM301.1 127.98h1.2v1.2h-1.2zM301.56 131.33h1.2v1.2h-1.2zM302.39 90.56h1.2v1.2h-1.2zM301.99 91.25h1.2v1.2h-1.2zM302.27 97.21h1.2v1.2h-1.2zM302.15 111.67h1.2v1.2h-1.2zM301.95 118.25h1.2v1.2h-1.2zM302.56 119.49h1.2v1.2h-1.2zM301.92 119.98h1.2v1.2h-1.2zM303.04 86.26h1.2v1.2h-1.2zM303.24 137.58h1.2v1.2h-1.2zM305.68 86.35h1.2v1.2h-1.2zM307.07 98.5h1.2v1.2h-1.2zM307.47 108.62h1.2v1.2h-1.2zM307.19 126.38h1.2v1.2h-1.2zM307.55 132.29h1.2v1.2h-1.2zM307.31 140.45h1.2v1.2h-1.2zM308.08 97.48h1.2v1.2h-1.2zM308.37 111.56h1.2v1.2h-1.2zM309.01 128.58h1.2v1.2h-1.2zM310.52 134.49h1.2v1.2h-1.2zM310.59 138.3h1.2v1.2h-1.2zM311.26 94.12h1.2v1.2h-1.2zM312.42 107.9h1.2v1.2h-1.2zM313.27 103.7h1.2v1.2h-1.2zM314.16 102.04h1.2v1.2h-1.2zM314.23 137.48h1.2v1.2h-1.2zM315.57 132h1.2v1.2h-1.2zM315.31 145.57h1.2v1.2h-1.2zM316.59 140.45h1.2v1.2h-1.2zM316.13 145.97h1.2v1.2h-1.2zM317.22 86.06h1.2v1.2h-1.2zM317.64 122.98h1.2v1.2h-1.2zM317.97 90.69h1.2v1.2h-1.2zM318.52 96.29h1.2v1.2h-1.2zM318.28 130.63h1.2v1.2h-1.2zM319.46 103.17h1.2v1.2h-1.2zM319.21 123.7h1.2v1.2h-1.2zM319.12 136.97h1.2v1.2h-1.2zM320.91 129.58h1.2v1.2h-1.2zM322.03 89.36h1.2v1.2h-1.2zM323.23 90.34h1.2v1.2h-1.2zM323.6 110.15h1.2v1.2h-1.2zM324.05 104.24h1.2v1.2h-1.2zM324.27 144.18h1.2v1.2h-1.2zM325.4 101.31h1.2v1.2h-1.2zM326.1 117h1.2v1.2h-1.2zM327.16 98.58h1.2v1.2h-1.2zM327.55 108.06h1.2v1.2h-1.2zM328.14 138.3h1.2v1.2h-1.2zM329.3 87.99h1.2v1.2h-1.2zM329.07 141.29h1.2v1.2h-1.2zM330.56 102.58h1.2v1.2h-1.2zM330.07 123.04h1.2v1.2h-1.2zM331.45 139.9h1.2v1.2h-1.2zM333.63 95.59h1.2v1.2h-1.2zM334.59 126.94h1.2v1.2h-1.2zM335.66 119.09h1.2v1.2h-1.2zM337.58 119.08h1.2v1.2h-1.2zM338.19 127.14h1.2v1.2h-1.2zM339 133.98h1.2v1.2h-1.2zM340.49 100.25h1.2v1.2h-1.2z"/><path fill="#3c3cc0" d="M299 101.36h1.2v1.2h-1.2zM299.56 106.11h1.2v1.2h-1.2zM299.34 118.2h1.2v1.2h-1.2zM299.09 124.26h1.2v1.2h-1.2zM299.01 134.29h1.2v1.2h-1.2zM300.68 103h1.2v1.2h-1.2zM300.58 130.08h1.2v1.2h-1.2zM300.69 138.31h1.2v1.2h-1.2zM301.18 90.59h1.2v1.2h-1.2zM301.32 104.94h1.2v1.2h-1.2zM301.4 114.27h1.2v1.2h-1.2zM303.48 119.69h1.2v1.2h-1.2zM304.09 113.95h1.2v1.2h-1.2zM304.26 128.35h1.2v1.2h-1.2zM304.7 135.09h1.2v1.2h-1.2zM305.28 137.18h1.2v1.2h-1.2zM306.58 111.57h1.2v1.2h-1.2zM307.23 86.67h1.2v1.2h-1.2zM306.91 112.13h1.2v1.2h-1.2zM307.92 148.1h1.2v1.2h-1.2zM309.62 101.7h1.2v1.2h-1.2zM310.38 141.37h1.2v1.2h-1.2zM311.26 130.22h1.2v1.2h-1.2zM313.32 92.41h1.2v1.2h-1.2zM313.03 112.61h1.2v1.2h-1.2zM313.43 134.61h1.2v1.2h-1.2zM314.05 90.29h1.2v1.2h-1.2zM315.48 100.57h1.2v1.2h-1.2zM315.15 121.06h1.2v1.2h-1.2zM315.26 125.27h1.2v1.2h-1.2zM315.25 147.01h1.2v1.2h-1.2zM316.12 87.52h1.2v1.2h-1.2zM317.67 95.13h1.2v1.2h-1.2zM318.05 134.52h1.2v1.2h-1.2zM320.61 100.14h1.2v1.2h-1.2zM321.34 146.69h1.2v1.2h-1.2zM322.61 93.36h1.2v1.2h-1.2zM323.4 93.34h1.2v1.2h-1.2zM324.33 123.19h1.2v1.2h-1.2zM324.69 132.5h1.2v1.2h-1.2zM325.28 89.07h1.2v1.2h-1.2zM324.97 96.2h1.2v1.2h-1.2zM326.3 139.54h1.2v1.2h-1.2zM327.66 87h1.2v1.2h-1.2zM327.4 144.56h1.2v1.2h-1.2zM328.44 109.48h1.2v1.2h-1.2zM328.01 133.31h1.2v1.2h-1.2zM329.42 141.99h1.2v1.2h-1.2zM329.98 95.96h1.2v1.2h-1.2zM329.96 110.26h1.2v1.2h-1.2zM330.44 115.56h1.2v1.2h-1.2zM331.63 97.39h1.2v1.2h-1.2zM331.66 110.36h1.2v1.2h-1.2zM331.34 137.92h1.2v1.2h-1.2zM333.18 116.98h1.2v1.2h-1.2zM334.5 117.01h1.2v1.2h-1.2zM335.95 103.03h1.2v1.2h-1.2zM336.07 104.18h1.2v1.2h-1.2zM337.58 136.31h1.2v1.2h-1.2zM339.28 129.07h1.2v1.2h-1.2zM340.23 97.97h1.2v1.2h-1.2zM341.56 99.22h1.2v1.2h-1.2zM342.42 121.18h1.2v1.2h-1.2zM342.17 135.05h1.2v1.2h-1.2zM343.06 113.68h1.2v1.2h-1.2zM343.32 115.48h1.2v1.2h-1.2z"/><path fill="#6060d4" d="M295.35 129.11h1.2v1.2h-1.2zM299.06 120.49h1.2v1.2h-1.2zM299.55 131.07h1.2v1.2h-1.2zM299.34 145.03h1.2v1.2h-1.2zM300.35 114.92h1.2v1.2h-1.2zM300.54 115.93h1.2v1.2h-1.2zM300.49 119.52h1.2v1.2h-1.2zM300.37 132.1h1.2v1.2h-1.2zM299.95 145.05h1.2v1.2h-1.2zM301.44 86.62h1.2v1.2h-1.2zM301.27 104.05h1.2v1.2h-1.2zM301.61 125.9h1.2v1.2h-1.2zM302.4 93.48h1.2v1.2h-1.2zM302.04 99.36h1.2v1.2h-1.2zM303.09 128.09h1.2v1.2h-1.2zM304.39 129.98h1.2v1.2h-1.2zM304.38 133.13h1.2v1.2h-1.2zM305.69 122.21h1.2v1.2h-1.2zM306.03 102.6h1.2v1.2h-1.2zM306.43 112.09h1.2v1.2h-1.2zM305.99 115.01h1.2v1.2h-1.2zM306.54 119.14h1.2v1.2h-1.2zM306.61 122.56h1.2v1.2h-1.2zM306.93 90.04h1.2v1.2h-1.2zM307.53 94.38h1.2v1.2h-1.2zM308.13 86.36h1.2v1.2h-1.2zM308.15 120.99h1.2v1.2h-1.2zM309.65 92.92h1.2v1.2h-1.2zM309.22 102.64h1.2v1.2h-1.2zM309.28 114.67h1.2v1.2h-1.2zM309.39 131.46h1.2v1.2h-1.2zM310.45 112.56h1.2v1.2h-1.2zM310.91 97.43h1.2v1.2h-1.2zM311.04 116.47h1.2v1.2h-1.2zM312.37 124.45h1.2v1.2h-1.2zM312.54 131.53h1.2v1.2h-1.2zM313.28 94.01h1.2v1.2h-1.2zM313.31 104.32h1.2v1.2h-1.2zM313.32 115.12h1.2v1.2h-1.2zM313.98 133.65h1.2v1.2h-1.2zM315.14 101.12h1.2v1.2h-1.2zM315.5 118.07h1.2v1.2h-1.2zM316.15 100.51h1.2v1.2h-1.2zM316.29 117.61h1.2v1.2h-1.2zM316.34 134.18h1.2v1.2h-1.2zM318.02 145.3h1.2v1.2h-1.2zM319.31 90.17h1.2v1.2h-1.2zM319.03 111.25h1.2v1.2h-1.2zM319 127.15h1.2v1.2h-1.2zM319.5 129.58h1.2v1.2h-1.2zM319.08 131.51h1.2v1.2h-1.2zM319.69 148.29h1.2v1.2h-1.2zM320.57 101.44h1.2v1.2h-1.2zM322.19 122.58h1.2v1.2h-1.2zM323.11 95.59h1.2v1.2h-1.2zM323.34 111.94h1.2v1.2h-1.2zM323.28 121.48h1.2v1.2h-1.2zM324.5 110.21h1.2v1.2h-1.2zM324.4 126.14h1.2v1.2h-1.2zM325.92 86.02h1.2v1.2h-1.2zM326.55 92.05h1.2v1.2h-1.2zM326.35 113.08h1.2v1.2h-1.2zM326.13 116.42h1.2v1.2h-1.2zM326.26 122.34h1.2v1.2h-1.2zM327.06 130.63h1.2v1.2h-1.2zM327.96 93.53h1.2v1.2h-1.2zM328.68 136.58h1.2v1.2h-1.2zM329.2 119.13h1.2v1.2h-1.2zM329.53 143.39h1.2v1.2h-1.2zM330.69 97.55h1.2v1.2h-1.2zM329.9 104.35h1.2v1.2h-1.2zM330.24 146.05h1.2v1.2h-1.2zM332.69 145.45h1.2v1.2h-1.2zM333.17 111.31h1.2v1.2h-1.2zM333.37 139.64h1.2v1.2h-1.2zM334.09 121.18h1.2v1.2h-1.2zM336.3 91.25h1.2v1.2h-1.2zM336.07 97.08h1.2v1.2h-1.2zM338.18 102.61h1.2v1.2h-1.2zM338.27 120.41h1.2v1.2h-1.2zM339.41 115.65h1.2v1.2h-1.2zM339.04 122.4h1.2v1.2h-1.2zM340.45 132.47h1.2v1.2h-1.2zM342.19 134.25h1.2v1.2h-1.2z"/><path fill="#0a1ee6" d="M259.65 146.25h1.2v1.2h-1.2zM261.55 130.66h1.2v1.2h-1.2zM261.26 141.51h1.2v1.2h-1.2zM262.29 137.22h1.2v1.2h-1.2zM263 80.43h1.2v1.2h-1.2zM263.64 144.45h1.2v1.2h-1.2zM264.15 80.32h1.2v1.2h-1.2zM264.19 140.21h1.2v1.2h-1.2zM265.52 79.91h1.2v1.2h-1.2zM265.29 81.31h1.2v1.2h-1.2zM265.02 145.49h1.2v1.2h-1.2zM266.1 131.22h1.2v1.2h-1.2zM266.1 132.38h1.2v1.2h-1.2zM266.24 138.45h1.2v1.2h-1.2zM267.24 78.53h1.2v1.2h-1.2zM268.34 132.98h1.2v1.2h-1.2zM269.29 133.1h1.2v1.2h-1.2zM269.14 146.66h1.2v1.2h-1.2zM270.28 143.49h1.2v1.2h-1.2zM271.02 142.4h1.2v1.2h-1.2zM271.99 143.08h1.2v1.2h-1.2zM272 145.92h1.2v1.2h-1.2zM272.63 148.67h1.2v1.2h-1.2zM274.19 135.91h1.2v1.2h-1.2zM274.49 147.43h1.2v1.2h-1.2zM274.94 79.51h1.2v1.2h-1.2zM274.95 138.09h1.2v1.2h-1.2zM275.52 146.51h1.2v1.2h-1.2zM276.09 138.31h1.2v1.2h-1.2zM277.54 142.38h1.2v1.2h-1.2zM277.32 144.05h1.2v1.2h-1.2zM277.95 138.05h1.2v1.2h-1.2zM279.32 138.38h1.2v1.2h-1.2zM279.27 143.41h1.2v1.2h-1.2zM282.35 80.42h1.2v1.2h-1.2zM282.23 146.57h1.2v1.2h-1.2zM284.33 81.6h1.2v1.2h-1.2zM285.69 141.56h1.2v1.2h-1.2zM285.52 143.45h1.2v1.2h-1.2zM286.34 139.1h1.2v1.2h-1.2zM285.98 143.43h1.2v1.2h-1.2zM287.1 139.39h1.2v1.2h-1.2zM288.34 143.39h1.2v1.2h-1.2zM289.24 80.09h1.2v1.2h-1.2zM291.14 81.46h1.2v1.2h-1.2zM293.61 136.16h1.2v1.2h-1.2zM295.15 87.26h1.2v1.2h-1.2zM296.24 89.41h1.2v1.2h-1.2zM296.5 94.51h1.2v1.2h-1.2zM296.55 96.48h1.2v1.2h-1.2zM296.68 101.26h1.2v1.2h-1.2zM296.26 103.42h1.2v1.2h-1.2zM296.15 110.56h1.2v1.2h-1.2zM296.23 115.35h1.2v1.2h-1.2zM296.32 136.19h1.2v1.2h-1.2z"/><path fill="#2844f0" d="M254.91 121.12h1.2v1.2h-1.2zM255.28 139.66h1.2v1.2h-1.2zM256.01 115.62h1.2v1.2h-1.2zM257.68 120.53h1.2v1.2h-1.2zM257.12 135.92h1.2v1.2h-1.2zM257.6 139.95h1.2v1.2h-1.2zM257.14 143.65h1.2v1.2h-1.2zM258.44 120.56h1.2v1.2h-1.2zM259.57 80.04h1.2v1.2h-1.2zM261.3 79.98h1.2v1.2h-1.2zM263.2 140.3h1.2v1.2h-1.2zM264.55 144.13h1.2v1.2h-1.2zM265.43 137.01h1.2v1.2h-1.2zM266.11 79.95h1.2v1.2h-1.2zM266.36 136.37h1.2v1.2h-1.2zM267.47 81.24h1.2v1.2h-1.2zM267.65 131.48h1.2v1.2h-1.2zM267.35 135.6h1.2v1.2h-1.2zM267.04 137.13h1.2v1.2h-1.2zM270.34 147.38h1.2v1.2h-1.2zM271.66 79.44h1.2v1.2h-1.2zM270.94 80.66h1.2v1.2h-1.2zM271.27 134.06h1.2v1.2h-1.2zM271.51 146.4h1.2v1.2h-1.2zM272.58 136.34h1.2v1.2h-1.2zM272.1 142.28h1.2v1.2h-1.2zM273.27 80.18h1.2v1.2h-1.2zM273.36 136.02h1.2v1.2h-1.2zM273.1 141.99h1.2v1.2h-1.2zM275.92 143.32h1.2v1.2h-1.2zM277.49 139.22h1.2v1.2h-1.2zM278.62 144.39h1.2v1.2h-1.2zM279.43 141.13h1.2v1.2h-1.2zM279.62 145.18h1.2v1.2h-1.2zM280.58 142.1h1.2v1.2h-1.2zM283.66 80.45h1.2v1.2h-1.2zM289.04 81.49h1.2v1.2h-1.2zM290.02 138.21h1.2v1.2h-1.2zM290.2 147.17h1.2v1.2h-1.2zM291.19 138.03h1.2v1.2h-1.2zM293.22 138.97h1.2v1.2h-1.2zM295.54 138.18h1.2v1.2h-1.2zM296.47 123.24h1.2v1.2h-1.2zM296.68 124.6h1.2v1.2h-1.2z"/><path fill="#5a74f4" d="M256.46 81.57h1.2v1.2h-1.2zM256.63 140.64h1.2v1.2h-1.2zM257.23 117.37h1.2v1.2h-1.2zM258.96 81.19h1.2v1.2h-1.2zM260.16 123.4h1.2v1.2h-1.2zM259.91 126.5h1.2v1.2h-1.2zM260.96 124.24h1.2v1.2h-1.2zM262.29 132.57h1.2v1.2h-1.2zM264.41 138.02h1.2v1.2h-1.2zM266.43 141.09h1.2v1.2h-1.2zM267.39 145.23h1.2v1.2h-1.2zM268.66 79.26h1.2v1.2h-1.2zM268.12 132.15h1.2v1.2h-1.2zM268.67 135.18h1.2v1.2h-1.2zM270.09 134.33h1.2v1.2h-1.2zM270.44 135.65h1.2v1.2h-1.2zM270.96 139.16h1.2v1.2h-1.2zM274.48 137.3h1.2v1.2h-1.2zM275.45 81.44h1.2v1.2h-1.2zM276.97 137.94h1.2v1.2h-1.2zM277.04 140.14h1.2v1.2h-1.2zM278.05 139.13h1.2v1.2h-1.2zM277.99 139.92h1.2v1.2h-1.2zM282.32 140.51h1.2v1.2h-1.2zM282.03 140.98h1.2v1.2h-1.2zM284.48 138.96h1.2v1.2h-1.2zM284.01 140.29h1.2v1.2h-1.2zM287.14 145.53h1.2v1.2h-1.2zM289.3 140.32h1.2v1.2h-1.2zM292.2 138.92h1.2v1.2h-1.2zM293.56 82.21h1.2v1.2h-1.2zM293.56 82.98h1.2v1.2h-1.2zM294.25 137.33h1.2v1.2h-1.2zM294.02 138.96h1.2v1.2h-1.2zM295.65 135.65h1.2v1.2h-1.2zM296.7 85.34h1.2v1.2h-1.2zM296.49 108.38h1.2v1.2h-1.2zM296.28 116.04h1.2v1.2h-1.2zM296.41 119.25h1.2v1.2h-1.2z"/></g><path d="M297.6 43.5V152 M297.6 106.2H363" stroke="#cc22cc" stroke-width="1.6" fill="none"/><rect x="254" y="43.5" width="109" height="108.5" fill="none" stroke="#000" stroke-width="1.5"/><path d="M254 51.5h-3.8M254 54.2h-2.3M254 56.9h-2.3M254 59.6h-2.3M254 62.3h-2.3M254 65h-2.3M254 67.7h-2.3M254 70.4h-2.3M254 73.1h-2.3M254 75.8h-3.8M254 78.5h-2.3M254 81.2h-2.3M254 83.9h-2.3M254 86.6h-2.3M254 89.3h-2.3M254 92h-2.3M254 94.7h-2.3M254 97.4h-2.3M254 100.1h-3.8M254 102.8h-2.3M254 105.5h-2.3M254 108.2h-2.3M254 110.9h-2.3M254 113.6h-2.3M254 116.3h-2.3M254 119h-2.3M254 121.7h-2.3M254 124.4h-3.8M254 127.1h-2.3M254 129.8h-2.3M254 132.5h-2.3M254 135.2h-2.3M254 137.9h-2.3M254 140.6h-2.3M254 143.3h-2.3M254 146h-2.3M254 148.7h-3.8M256.5 152v2.3M259.2 152v2.3M261.9 152v2.3M264.6 152v2.3M267.3 152v3.8M270 152v2.3M272.7 152v2.3M275.4 152v2.3M278.1 152v2.3M280.8 152v2.3M283.5 152v2.3M286.2 152v2.3M288.9 152v2.3M291.6 152v3.8M294.3 152v2.3M297 152v2.3M299.7 152v2.3M302.4 152v2.3M305.1 152v2.3M307.8 152v2.3M310.5 152v2.3M313.2 152v2.3M315.9 152v3.8M318.6 152v2.3M321.3 152v2.3M324 152v2.3M326.7 152v2.3M329.4 152v2.3M332.1 152v2.3M334.8 152v2.3M337.5 152v2.3M340.2 152v3.8M342.9 152v2.3M345.6 152v2.3M348.3 152v2.3M351 152v2.3M353.7 152v2.3" stroke="#000" stroke-width="1" fill="none"/><text x="360" y="56.7" text-anchor="end" font-size="12.2">27%</text><text x="360" y="148" text-anchor="end" font-size="12.2">73%</text><clipPath id="c3"><rect x="372.8" y="44.3" width="106.4" height="106.9"/></clipPath><g clip-path="url(#c3)"><g filter="url(#jet)"><rect x="369" y="40.5" width="114" height="114.5" fill="none"/><path d="M376.14 113.63C376.67 108.94 377.79 112.27 379.49 111.7C381.18 111.14 383.72 110.94 386.31 110.26C388.89 109.58 393.25 110.98 395 107.63C396.74 104.29 396.18 94.69 396.79 90.19C397.39 85.68 397.93 82.62 398.65 80.61C399.36 78.61 400.03 78.65 401.06 78.17C402.09 77.7 403.6 77.51 404.84 77.77C406.07 78.04 407.48 77.71 408.46 79.78C409.44 81.84 410.25 80.38 410.71 90.15C411.17 99.92 411.7 129.26 411.23 138.4C410.77 147.55 410.18 143.31 407.93 145.03C405.69 146.75 401.72 148.1 397.77 148.72C393.83 149.34 387.56 149.16 384.26 148.73C380.96 148.3 379.3 147.63 377.98 146.14C376.65 144.66 376.59 145.24 376.29 139.82C375.98 134.4 375.6 118.32 376.14 113.63Z" fill-opacity="0.2" filter="url(#es)"/><ellipse cx="396.8" cy="122.3" rx="16.82" ry="18.59" fill="url(#g)" opacity="0.138"/><ellipse cx="404.4" cy="93" rx="4.24" ry="12.94" fill="url(#g)" opacity="0.138"/><ellipse cx="404.4" cy="89" rx="2.35" ry="5.88" fill="url(#g)" opacity="0.058"/><ellipse cx="398.2" cy="119.8" rx="11.29" ry="11.29" fill="url(#g)" opacity="0.186"/><ellipse cx="399.2" cy="119.2" rx="7.88" ry="8.12" fill="url(#g)" opacity="0.250"/><ellipse cx="399.2" cy="119" rx="6.12" ry="6.12" fill="url(#g)" opacity="0.222"/><ellipse cx="399.2" cy="118.9" rx="4.59" ry="4.12" fill="url(#g)" opacity="0.500"/></g><path fill="#2626a8" d="M374.62 93.11h1.2v1.2h-1.2zM375.99 105.33h1.2v1.2h-1.2zM378.5 76.16h1.2v1.2h-1.2zM379.21 95.5h1.2v1.2h-1.2zM379.64 106.35h1.2v1.2h-1.2zM380.28 84.27h1.2v1.2h-1.2zM381.01 81.28h1.2v1.2h-1.2zM381.01 92.18h1.2v1.2h-1.2zM382.38 79.95h1.2v1.2h-1.2zM382.2 90.66h1.2v1.2h-1.2zM383.96 95.39h1.2v1.2h-1.2zM384.18 95.97h1.2v1.2h-1.2zM386.59 95.49h1.2v1.2h-1.2zM388.14 104.42h1.2v1.2h-1.2zM389.34 87.43h1.2v1.2h-1.2zM389.29 94.48h1.2v1.2h-1.2zM391.44 87.28h1.2v1.2h-1.2zM391.12 104.58h1.2v1.2h-1.2zM392.41 88.12h1.2v1.2h-1.2zM416.5 91.7h1.2v1.2h-1.2zM416.43 103.05h1.2v1.2h-1.2zM419.38 87.91h1.2v1.2h-1.2zM419.56 97.01h1.2v1.2h-1.2zM420.49 118.63h1.2v1.2h-1.2zM421.07 100.13h1.2v1.2h-1.2zM422.48 89.1h1.2v1.2h-1.2zM423.51 116.29h1.2v1.2h-1.2zM424.48 88.5h1.2v1.2h-1.2zM424.58 95.17h1.2v1.2h-1.2zM424.61 127.31h1.2v1.2h-1.2zM424.98 120.52h1.2v1.2h-1.2zM426.42 99.44h1.2v1.2h-1.2zM427.03 117.67h1.2v1.2h-1.2zM426.9 119.25h1.2v1.2h-1.2zM427 127.17h1.2v1.2h-1.2zM429.58 123.07h1.2v1.2h-1.2zM430.25 84.6h1.2v1.2h-1.2zM431.6 89.17h1.2v1.2h-1.2zM431.34 117.94h1.2v1.2h-1.2zM431.45 129.53h1.2v1.2h-1.2zM432.29 127.91h1.2v1.2h-1.2zM433.6 104.62h1.2v1.2h-1.2zM433.51 124.11h1.2v1.2h-1.2zM433.44 125.54h1.2v1.2h-1.2zM434.21 115.37h1.2v1.2h-1.2zM435.14 116.58h1.2v1.2h-1.2zM435.42 122.51h1.2v1.2h-1.2zM436.13 120.93h1.2v1.2h-1.2zM436.28 125.33h1.2v1.2h-1.2zM437.09 93.55h1.2v1.2h-1.2zM437.05 102.09h1.2v1.2h-1.2zM437.53 115.52h1.2v1.2h-1.2zM438.31 137h1.2v1.2h-1.2zM440.32 114.16h1.2v1.2h-1.2zM442.08 118.96h1.2v1.2h-1.2zM443.34 118.97h1.2v1.2h-1.2zM443.08 120.96h1.2v1.2h-1.2zM445.39 121.64h1.2v1.2h-1.2zM446.32 120.98h1.2v1.2h-1.2zM447.42 120.33h1.2v1.2h-1.2zM448.54 124.39h1.2v1.2h-1.2zM448.54 129.24h1.2v1.2h-1.2zM449.51 117.96h1.2v1.2h-1.2zM448.92 121.49h1.2v1.2h-1.2zM454.7 119.04h1.2v1.2h-1.2zM457.65 110.43h1.2v1.2h-1.2zM465.52 107.47h1.2v1.2h-1.2zM466.51 119.02h1.2v1.2h-1.2z"/><path fill="#3c3cc0" d="M373.55 104.22h1.2v1.2h-1.2zM375.65 85.66h1.2v1.2h-1.2zM375.35 87.48h1.2v1.2h-1.2zM376.5 85.24h1.2v1.2h-1.2zM378.61 84.07h1.2v1.2h-1.2zM378.54 87.16h1.2v1.2h-1.2zM378.29 98.66h1.2v1.2h-1.2zM383.69 80.49h1.2v1.2h-1.2zM383.36 92.95h1.2v1.2h-1.2zM383.98 78.38h1.2v1.2h-1.2zM385.33 101.06h1.2v1.2h-1.2zM385.99 98.01h1.2v1.2h-1.2zM386.66 105.47h1.2v1.2h-1.2zM388.45 73.55h1.2v1.2h-1.2zM388.54 81.59h1.2v1.2h-1.2zM388.17 96.61h1.2v1.2h-1.2zM389.37 77.4h1.2v1.2h-1.2zM390.3 89.06h1.2v1.2h-1.2zM393.15 94.68h1.2v1.2h-1.2zM394.28 88.26h1.2v1.2h-1.2zM397.93 78.4h1.2v1.2h-1.2zM417.03 120.99h1.2v1.2h-1.2zM417.35 124.37h1.2v1.2h-1.2zM418.1 93.01h1.2v1.2h-1.2zM419.53 89.52h1.2v1.2h-1.2zM419.15 95.03h1.2v1.2h-1.2zM420.31 93.27h1.2v1.2h-1.2zM420.06 102.01h1.2v1.2h-1.2zM421.61 121.21h1.2v1.2h-1.2zM424.36 119.5h1.2v1.2h-1.2zM424.34 128.51h1.2v1.2h-1.2zM426.54 115.31h1.2v1.2h-1.2zM427.6 95.55h1.2v1.2h-1.2zM427.24 115.11h1.2v1.2h-1.2zM427.61 125.38h1.2v1.2h-1.2zM427.23 126.55h1.2v1.2h-1.2zM428.69 112.94h1.2v1.2h-1.2zM429.41 121.55h1.2v1.2h-1.2zM429.26 139.45h1.2v1.2h-1.2zM429.95 122.17h1.2v1.2h-1.2zM430.02 123.19h1.2v1.2h-1.2zM431.5 122.44h1.2v1.2h-1.2zM433.59 113.31h1.2v1.2h-1.2zM434.44 120.98h1.2v1.2h-1.2zM434.27 123.21h1.2v1.2h-1.2zM435.56 112.53h1.2v1.2h-1.2zM435.68 114.49h1.2v1.2h-1.2zM436.59 113.06h1.2v1.2h-1.2zM437.11 94.48h1.2v1.2h-1.2zM438.13 123.62h1.2v1.2h-1.2zM439.3 116.23h1.2v1.2h-1.2zM440.08 129.54h1.2v1.2h-1.2zM441.03 117.3h1.2v1.2h-1.2zM441.67 120.39h1.2v1.2h-1.2zM441.69 122.15h1.2v1.2h-1.2zM441.23 126.61h1.2v1.2h-1.2zM442.53 118h1.2v1.2h-1.2zM443.24 115.46h1.2v1.2h-1.2zM443.31 122.07h1.2v1.2h-1.2zM443.93 116.16h1.2v1.2h-1.2zM446.16 112.91h1.2v1.2h-1.2zM447.23 123.37h1.2v1.2h-1.2zM448.63 122.98h1.2v1.2h-1.2zM449.49 122.16h1.2v1.2h-1.2zM450.36 117.57h1.2v1.2h-1.2zM452.36 121.36h1.2v1.2h-1.2zM454.43 114.47h1.2v1.2h-1.2zM454.62 115.52h1.2v1.2h-1.2zM454.68 119.92h1.2v1.2h-1.2zM460.64 111.99h1.2v1.2h-1.2zM464.02 120.25h1.2v1.2h-1.2zM465.04 122.02h1.2v1.2h-1.2zM471.66 116.55h1.2v1.2h-1.2z"/><path fill="#6060d4" d="M375.64 97.64h1.2v1.2h-1.2zM376.41 87.68h1.2v1.2h-1.2zM377.3 85h1.2v1.2h-1.2zM377.41 97.45h1.2v1.2h-1.2zM378.1 99.11h1.2v1.2h-1.2zM379.92 96.26h1.2v1.2h-1.2zM381.57 90.2h1.2v1.2h-1.2zM380.94 98.19h1.2v1.2h-1.2zM381.2 106.08h1.2v1.2h-1.2zM382.54 87.57h1.2v1.2h-1.2zM381.91 92.53h1.2v1.2h-1.2zM382.61 99.57h1.2v1.2h-1.2zM384.48 100.09h1.2v1.2h-1.2zM385.56 90.21h1.2v1.2h-1.2zM385.6 103.5h1.2v1.2h-1.2zM386.4 86.54h1.2v1.2h-1.2zM386.42 96h1.2v1.2h-1.2zM386.11 103.3h1.2v1.2h-1.2zM386.5 105.94h1.2v1.2h-1.2zM387.62 93.49h1.2v1.2h-1.2zM386.92 96.55h1.2v1.2h-1.2zM388.12 90.95h1.2v1.2h-1.2zM391.09 98.68h1.2v1.2h-1.2zM393.4 64.49h1.2v1.2h-1.2zM393.61 102.32h1.2v1.2h-1.2zM411.07 119.37h1.2v1.2h-1.2zM417.59 131.46h1.2v1.2h-1.2zM418.52 89.99h1.2v1.2h-1.2zM419.44 112.03h1.2v1.2h-1.2zM420.38 113.59h1.2v1.2h-1.2zM421.19 117.03h1.2v1.2h-1.2zM422.41 90.13h1.2v1.2h-1.2zM422.31 116.46h1.2v1.2h-1.2zM422.68 118.32h1.2v1.2h-1.2zM424.43 91.5h1.2v1.2h-1.2zM425.55 88.45h1.2v1.2h-1.2zM427.99 122.35h1.2v1.2h-1.2zM429.21 85.57h1.2v1.2h-1.2zM431.38 124.55h1.2v1.2h-1.2zM432.68 119.31h1.2v1.2h-1.2zM432.18 121.59h1.2v1.2h-1.2zM433.62 103.5h1.2v1.2h-1.2zM434.05 91.33h1.2v1.2h-1.2zM435.61 124.59h1.2v1.2h-1.2zM436.52 99.55h1.2v1.2h-1.2zM436.69 117.96h1.2v1.2h-1.2zM436.17 124.14h1.2v1.2h-1.2zM438.22 83.93h1.2v1.2h-1.2zM438.11 118.38h1.2v1.2h-1.2zM438.17 122.02h1.2v1.2h-1.2zM439.93 117.44h1.2v1.2h-1.2zM441.2 119.25h1.2v1.2h-1.2zM442.41 120.17h1.2v1.2h-1.2zM442.94 118.54h1.2v1.2h-1.2zM446.08 122.1h1.2v1.2h-1.2zM446.34 123.5h1.2v1.2h-1.2zM446.03 123.94h1.2v1.2h-1.2zM447.58 117.9h1.2v1.2h-1.2zM449.35 120.53h1.2v1.2h-1.2zM453.63 124.92h1.2v1.2h-1.2zM454.03 118.02h1.2v1.2h-1.2zM455.46 123.24h1.2v1.2h-1.2zM458.21 118.2h1.2v1.2h-1.2zM458 120.7h1.2v1.2h-1.2zM469.19 121.07h1.2v1.2h-1.2z"/><path fill="#0a1ee6" d="M373.55 119.99h1.2v1.2h-1.2zM373.61 130.91h1.2v1.2h-1.2zM373.16 132.07h1.2v1.2h-1.2zM373.07 139.3h1.2v1.2h-1.2zM372.94 141.67h1.2v1.2h-1.2zM374.07 89.45h1.2v1.2h-1.2zM374.18 94.63h1.2v1.2h-1.2zM374.35 114.3h1.2v1.2h-1.2zM374.51 115.35h1.2v1.2h-1.2zM374.26 131.04h1.2v1.2h-1.2zM374.54 133.4h1.2v1.2h-1.2zM375.27 80.69h1.2v1.2h-1.2zM375.27 86.49h1.2v1.2h-1.2zM375.03 93.19h1.2v1.2h-1.2zM375.4 114.11h1.2v1.2h-1.2zM377.7 88.69h1.2v1.2h-1.2zM378.42 85.48h1.2v1.2h-1.2zM378.12 96.52h1.2v1.2h-1.2zM378.59 106.27h1.2v1.2h-1.2zM378.35 109.42h1.2v1.2h-1.2zM379.1 86.94h1.2v1.2h-1.2zM380.05 88.32h1.2v1.2h-1.2zM380.41 100.58h1.2v1.2h-1.2zM380.11 109.03h1.2v1.2h-1.2zM381.24 91.03h1.2v1.2h-1.2zM381.11 93.29h1.2v1.2h-1.2zM382.45 105.98h1.2v1.2h-1.2zM383.04 79.28h1.2v1.2h-1.2zM383.32 88.04h1.2v1.2h-1.2zM383.43 94.35h1.2v1.2h-1.2zM383.67 97.66h1.2v1.2h-1.2zM384.4 107.97h1.2v1.2h-1.2zM385.32 95.12h1.2v1.2h-1.2zM386.12 87.96h1.2v1.2h-1.2zM387.45 79.43h1.2v1.2h-1.2zM387.12 104.08h1.2v1.2h-1.2zM388.69 94.34h1.2v1.2h-1.2zM389.46 96.1h1.2v1.2h-1.2zM389.65 102.47h1.2v1.2h-1.2zM389.31 104.99h1.2v1.2h-1.2zM390.25 81.92h1.2v1.2h-1.2zM390.07 99.53h1.2v1.2h-1.2zM392.99 88.06h1.2v1.2h-1.2zM393.17 89.67h1.2v1.2h-1.2zM394.03 91.23h1.2v1.2h-1.2zM394.33 92.94h1.2v1.2h-1.2zM394.35 96.96h1.2v1.2h-1.2zM395.16 97.16h1.2v1.2h-1.2zM396.7 75.25h1.2v1.2h-1.2zM397.14 82.16h1.2v1.2h-1.2zM403.14 75.03h1.2v1.2h-1.2zM405.15 75.45h1.2v1.2h-1.2zM405.18 149.08h1.2v1.2h-1.2zM405.93 75.53h1.2v1.2h-1.2zM409.14 148.12h1.2v1.2h-1.2zM410.58 80.68h1.2v1.2h-1.2zM412.34 89.96h1.2v1.2h-1.2zM412.57 102.51h1.2v1.2h-1.2zM411.91 108.13h1.2v1.2h-1.2zM412.57 114.28h1.2v1.2h-1.2zM413.04 90.69h1.2v1.2h-1.2zM413.07 96.04h1.2v1.2h-1.2zM413.46 100.69h1.2v1.2h-1.2z"/><path fill="#2844f0" d="M373.47 114.92h1.2v1.2h-1.2zM373.92 118.07h1.2v1.2h-1.2zM374.43 125.67h1.2v1.2h-1.2zM373.99 134.43h1.2v1.2h-1.2zM374.44 140.92h1.2v1.2h-1.2zM374.62 143.15h1.2v1.2h-1.2zM374.2 146.53h1.2v1.2h-1.2zM375.33 135.4h1.2v1.2h-1.2zM374.95 141.4h1.2v1.2h-1.2zM375.02 144.56h1.2v1.2h-1.2zM376.52 102.42h1.2v1.2h-1.2zM376.42 148.68h1.2v1.2h-1.2zM377.56 108.47h1.2v1.2h-1.2zM378.19 147.91h1.2v1.2h-1.2zM379.7 88.95h1.2v1.2h-1.2zM379.93 91.38h1.2v1.2h-1.2zM381.69 79.26h1.2v1.2h-1.2zM382.07 75.92h1.2v1.2h-1.2zM382.03 79.19h1.2v1.2h-1.2zM382.18 91.12h1.2v1.2h-1.2zM382.6 95.7h1.2v1.2h-1.2zM382.68 97.06h1.2v1.2h-1.2zM382.46 100.03h1.2v1.2h-1.2zM383.27 87.3h1.2v1.2h-1.2zM384.15 83.53h1.2v1.2h-1.2zM385.08 94.54h1.2v1.2h-1.2zM385.51 99.4h1.2v1.2h-1.2zM385.96 94h1.2v1.2h-1.2zM387.54 83.67h1.2v1.2h-1.2zM387.09 95.43h1.2v1.2h-1.2zM388.51 88.6h1.2v1.2h-1.2zM388.01 92.06h1.2v1.2h-1.2zM387.95 95.45h1.2v1.2h-1.2zM391.19 80.46h1.2v1.2h-1.2zM391.03 95.41h1.2v1.2h-1.2zM392.12 87.25h1.2v1.2h-1.2zM392.37 91.66h1.2v1.2h-1.2zM392.05 92.53h1.2v1.2h-1.2zM392.94 99.04h1.2v1.2h-1.2zM393.46 100.97h1.2v1.2h-1.2zM393.57 103.61h1.2v1.2h-1.2zM394.08 94.47h1.2v1.2h-1.2zM394.42 100.68h1.2v1.2h-1.2zM395.3 82.19h1.2v1.2h-1.2zM396.6 79.11h1.2v1.2h-1.2zM396.63 81.19h1.2v1.2h-1.2zM412.23 116.57h1.2v1.2h-1.2zM413.51 114.05h1.2v1.2h-1.2zM413.43 126.69h1.2v1.2h-1.2zM413.22 139.35h1.2v1.2h-1.2z"/><path fill="#5a74f4" d="M373.42 116.48h1.2v1.2h-1.2zM374.21 130.2h1.2v1.2h-1.2zM375.04 94.4h1.2v1.2h-1.2zM375.16 104.53h1.2v1.2h-1.2zM374.94 111.51h1.2v1.2h-1.2zM375.03 117.59h1.2v1.2h-1.2zM375.56 138.18h1.2v1.2h-1.2zM374.98 147.07h1.2v1.2h-1.2zM375.07 149.68h1.2v1.2h-1.2zM376.55 145.92h1.2v1.2h-1.2zM375.91 149.35h1.2v1.2h-1.2zM377.26 93.34h1.2v1.2h-1.2zM377.57 95.57h1.2v1.2h-1.2zM377.01 109.67h1.2v1.2h-1.2zM377.27 146.28h1.2v1.2h-1.2zM377.02 148.09h1.2v1.2h-1.2zM377.05 149.12h1.2v1.2h-1.2zM379.34 96.11h1.2v1.2h-1.2zM380.12 88.99h1.2v1.2h-1.2zM380.96 87.63h1.2v1.2h-1.2zM381.25 89.26h1.2v1.2h-1.2zM382 78.69h1.2v1.2h-1.2zM381.91 96.53h1.2v1.2h-1.2zM381.93 98.13h1.2v1.2h-1.2zM382.29 102.26h1.2v1.2h-1.2zM382.46 105.36h1.2v1.2h-1.2zM383.46 81.95h1.2v1.2h-1.2zM383.13 107.12h1.2v1.2h-1.2zM385.29 85.24h1.2v1.2h-1.2zM385.99 82h1.2v1.2h-1.2zM386.95 81.94h1.2v1.2h-1.2zM387.42 98.67h1.2v1.2h-1.2zM387.37 100.06h1.2v1.2h-1.2zM387.39 108.3h1.2v1.2h-1.2zM388.13 102.54h1.2v1.2h-1.2zM389.11 91.14h1.2v1.2h-1.2zM390.94 92.09h1.2v1.2h-1.2zM391.64 94.28h1.2v1.2h-1.2zM392.48 81.29h1.2v1.2h-1.2zM392.11 94.18h1.2v1.2h-1.2zM392.31 95.15h1.2v1.2h-1.2zM393.31 86.92h1.2v1.2h-1.2zM393.21 90.99h1.2v1.2h-1.2zM393.28 96.32h1.2v1.2h-1.2zM394.63 86.6h1.2v1.2h-1.2zM395.61 87.26h1.2v1.2h-1.2zM400.14 149.58h1.2v1.2h-1.2zM407 76.2h1.2v1.2h-1.2zM407.95 77.55h1.2v1.2h-1.2zM410.5 145.64h1.2v1.2h-1.2zM412.05 80.57h1.2v1.2h-1.2zM412.46 115.34h1.2v1.2h-1.2zM412.25 142.54h1.2v1.2h-1.2zM413.28 125.66h1.2v1.2h-1.2zM413.64 142.19h1.2v1.2h-1.2zM413.33 146.24h1.2v1.2h-1.2z"/></g><path d="M414.5 43.5V152 M414.5 107.7H480" stroke="#cc22cc" stroke-width="1.6" fill="none"/><rect x="372" y="43.5" width="108" height="108.5" fill="none" stroke="#000" stroke-width="1.5"/><path d="M372 51.5h-3.8M372 54.2h-2.3M372 56.9h-2.3M372 59.6h-2.3M372 62.3h-2.3M372 65h-2.3M372 67.7h-2.3M372 70.4h-2.3M372 73.1h-2.3M372 75.8h-3.8M372 78.5h-2.3M372 81.2h-2.3M372 83.9h-2.3M372 86.6h-2.3M372 89.3h-2.3M372 92h-2.3M372 94.7h-2.3M372 97.4h-2.3M372 100.1h-3.8M372 102.8h-2.3M372 105.5h-2.3M372 108.2h-2.3M372 110.9h-2.3M372 113.6h-2.3M372 116.3h-2.3M372 119h-2.3M372 121.7h-2.3M372 124.4h-3.8M372 127.1h-2.3M372 129.8h-2.3M372 132.5h-2.3M372 135.2h-2.3M372 137.9h-2.3M372 140.6h-2.3M372 143.3h-2.3M372 146h-2.3M372 148.7h-3.8M374.5 152v2.3M377.2 152v2.3M379.9 152v2.3M382.6 152v2.3M385.3 152v3.8M388 152v2.3M390.7 152v2.3M393.4 152v2.3M396.1 152v2.3M398.8 152v2.3M401.5 152v2.3M404.2 152v2.3M406.9 152v2.3M409.6 152v3.8M412.3 152v2.3M415 152v2.3M417.7 152v2.3M420.4 152v2.3M423.1 152v2.3M425.8 152v2.3M428.5 152v2.3M431.2 152v2.3M433.9 152v3.8M436.6 152v2.3M439.3 152v2.3M442 152v2.3M444.7 152v2.3M447.4 152v2.3M450.1 152v2.3M452.8 152v2.3M455.5 152v2.3M458.2 152v3.8M460.9 152v2.3M463.6 152v2.3M466.3 152v2.3M469 152v2.3M471.7 152v2.3" stroke="#000" stroke-width="1" fill="none"/><text x="477" y="56.7" text-anchor="end" font-size="12.2">24%</text><text x="477" y="148" text-anchor="end" font-size="12.2">76%</text><clipPath id="c4"><rect x="20.8" y="161.3" width="107.4" height="105.9"/></clipPath><g clip-path="url(#c4)"><g filter="url(#jet)"><rect x="17" y="157.5" width="115" height="113.5" fill="none"/><path d="M18.92 179.92C19.31 171.22 19.87 180.37 21.57 180.3C23.27 180.23 26.35 179.75 29.12 179.49C31.88 179.24 35.15 179.16 38.16 178.79C41.17 178.42 44.49 177.67 47.18 177.29C49.86 176.9 52.48 176.46 54.26 176.49C56.04 176.53 57.21 175.23 57.86 177.48C58.52 179.74 58.18 181.47 58.2 190.03C58.23 198.58 58.34 221.25 58.01 228.82C57.68 236.4 57.23 233.23 56.21 235.48C55.19 237.72 53.36 240.01 51.9 242.3C50.44 244.59 49.06 247.04 47.45 249.23C45.85 251.41 43.96 254.09 42.27 255.42C40.58 256.76 39.03 257.95 37.32 257.24C35.62 256.54 33.89 253.68 32.02 251.2C30.15 248.71 27.77 244.98 26.11 242.32C24.44 239.65 23.18 236.85 22.03 235.21C20.88 233.58 19.72 241.72 19.2 232.5C18.68 223.29 18.52 188.62 18.92 179.92Z" fill-opacity="0.2" filter="url(#es)"/><ellipse cx="39.7" cy="214.6" rx="18.24" ry="22.35" fill="url(#g)" opacity="0.138"/><ellipse cx="50.3" cy="188.6" rx="8.82" ry="13.53" fill="url(#g)" opacity="0.138"/><ellipse cx="46.5" cy="200" rx="5.88" ry="7.06" fill="url(#g)" opacity="0.138" transform="rotate(-20 46.5 200)"/><ellipse cx="39.7" cy="214.6" rx="15.29" ry="19.06" fill="url(#g)" opacity="0.145"/><ellipse cx="50.3" cy="188.6" rx="6.59" ry="10.59" fill="url(#g)" opacity="0.145"/><ellipse cx="46.5" cy="200" rx="4.71" ry="7.06" fill="url(#g)" opacity="0.101" transform="rotate(-20 46.5 200)"/><ellipse cx="39.7" cy="215.5" rx="12.12" ry="14.82" fill="url(#g)" opacity="0.186"/><ellipse cx="50.1" cy="188.2" rx="4.47" ry="8.24" fill="url(#g)" opacity="0.186"/><ellipse cx="46" cy="200" rx="2.94" ry="5.88" fill="url(#g)" opacity="0.056" transform="rotate(-25 46 200)"/><ellipse cx="40.1" cy="218.2" rx="8.47" ry="8.94" fill="url(#g)" opacity="0.250"/><ellipse cx="50" cy="187.2" rx="2.59" ry="4.71" fill="url(#g)" opacity="0.250"/><ellipse cx="40.1" cy="218.6" rx="6.82" ry="6.59" fill="url(#g)" opacity="0.222"/><ellipse cx="50" cy="187.2" rx="1.59" ry="2.59" fill="url(#g)" opacity="0.178"/><ellipse cx="40.1" cy="218.6" rx="5.29" ry="4.71" fill="url(#g)" opacity="0.500"/></g><path fill="#2626a8" d="M61.99 190.24h1.2v1.2h-1.2zM62.19 205.18h1.2v1.2h-1.2zM63.23 216.31h1.2v1.2h-1.2zM63.99 215.32h1.2v1.2h-1.2zM63.96 216.46h1.2v1.2h-1.2zM63.93 256.29h1.2v1.2h-1.2zM64.9 214.53h1.2v1.2h-1.2zM65.65 217.5h1.2v1.2h-1.2zM66.26 195.27h1.2v1.2h-1.2zM67.5 205.96h1.2v1.2h-1.2zM67.18 212.28h1.2v1.2h-1.2zM67.04 221.27h1.2v1.2h-1.2zM68.18 184.01h1.2v1.2h-1.2zM68.37 185.25h1.2v1.2h-1.2zM69 190.33h1.2v1.2h-1.2zM69.08 209.35h1.2v1.2h-1.2zM69.16 216.47h1.2v1.2h-1.2zM69.38 218.9h1.2v1.2h-1.2zM70.17 191.51h1.2v1.2h-1.2zM70.17 209.52h1.2v1.2h-1.2zM71.59 204.64h1.2v1.2h-1.2zM71.5 215.24h1.2v1.2h-1.2zM72.28 214.97h1.2v1.2h-1.2zM73.14 211.11h1.2v1.2h-1.2zM73.54 221.53h1.2v1.2h-1.2zM73.4 223.51h1.2v1.2h-1.2zM74.24 189.41h1.2v1.2h-1.2zM74.19 219.91h1.2v1.2h-1.2zM74.32 221.6h1.2v1.2h-1.2zM75.3 213.62h1.2v1.2h-1.2zM75.21 218.1h1.2v1.2h-1.2zM77.03 209.24h1.2v1.2h-1.2zM77.15 212.99h1.2v1.2h-1.2zM77.15 214.66h1.2v1.2h-1.2zM78.52 187.24h1.2v1.2h-1.2zM78.09 211.3h1.2v1.2h-1.2zM78.17 220.4h1.2v1.2h-1.2zM79.12 213.4h1.2v1.2h-1.2zM81.51 205.12h1.2v1.2h-1.2zM81.08 218.35h1.2v1.2h-1.2zM82.36 191.61h1.2v1.2h-1.2zM82.55 210.27h1.2v1.2h-1.2zM83.3 208.53h1.2v1.2h-1.2zM83.36 213h1.2v1.2h-1.2zM84.21 212.99h1.2v1.2h-1.2zM84.44 214.52h1.2v1.2h-1.2zM84.41 219.94h1.2v1.2h-1.2zM85.22 208.91h1.2v1.2h-1.2zM85.45 215.5h1.2v1.2h-1.2zM85.06 217.47h1.2v1.2h-1.2zM85.94 213.02h1.2v1.2h-1.2zM86.64 219.07h1.2v1.2h-1.2zM86.42 221.65h1.2v1.2h-1.2zM87.51 200.26h1.2v1.2h-1.2zM88.24 208.22h1.2v1.2h-1.2zM88.02 216.53h1.2v1.2h-1.2zM88.32 217.51h1.2v1.2h-1.2zM89.28 208.09h1.2v1.2h-1.2zM90.11 194.99h1.2v1.2h-1.2zM90.48 213.3h1.2v1.2h-1.2zM90.21 214.68h1.2v1.2h-1.2zM90.19 216.18h1.2v1.2h-1.2zM91.08 208.12h1.2v1.2h-1.2zM92.1 205.31h1.2v1.2h-1.2zM93.24 213.28h1.2v1.2h-1.2zM94.57 216.18h1.2v1.2h-1.2zM94.39 217.31h1.2v1.2h-1.2zM94.66 220.38h1.2v1.2h-1.2zM95.64 184.19h1.2v1.2h-1.2zM95.05 196.07h1.2v1.2h-1.2zM95.56 216.99h1.2v1.2h-1.2zM96.13 206.58h1.2v1.2h-1.2zM95.95 219.46h1.2v1.2h-1.2zM97.21 191.08h1.2v1.2h-1.2zM97.66 217.59h1.2v1.2h-1.2zM97.07 221.01h1.2v1.2h-1.2zM98.34 196.96h1.2v1.2h-1.2zM99.66 188.16h1.2v1.2h-1.2zM99.15 199.94h1.2v1.2h-1.2zM99.29 207.35h1.2v1.2h-1.2zM99 212.46h1.2v1.2h-1.2zM100.31 181.56h1.2v1.2h-1.2zM100.64 184.6h1.2v1.2h-1.2zM100.25 197.18h1.2v1.2h-1.2zM100.41 212.23h1.2v1.2h-1.2zM101.26 210.1h1.2v1.2h-1.2zM101.02 215.98h1.2v1.2h-1.2zM101.41 219.63h1.2v1.2h-1.2zM102.69 190.11h1.2v1.2h-1.2zM102.06 218.97h1.2v1.2h-1.2zM102.98 209.56h1.2v1.2h-1.2zM104.18 205.19h1.2v1.2h-1.2zM104.06 212.46h1.2v1.2h-1.2zM104.05 218.66h1.2v1.2h-1.2zM104.92 207.64h1.2v1.2h-1.2zM105.23 218.25h1.2v1.2h-1.2zM106.3 210.09h1.2v1.2h-1.2zM109.63 210.32h1.2v1.2h-1.2zM110.34 204.6h1.2v1.2h-1.2zM110.43 213.57h1.2v1.2h-1.2zM109.99 220.14h1.2v1.2h-1.2zM110.07 221.31h1.2v1.2h-1.2z"/><path fill="#3c3cc0" d="M62.11 199.62h1.2v1.2h-1.2zM62.07 207.21h1.2v1.2h-1.2zM63.22 180.15h1.2v1.2h-1.2zM63.47 215.29h1.2v1.2h-1.2zM64.54 209.18h1.2v1.2h-1.2zM65.57 189.57h1.2v1.2h-1.2zM65.22 203.65h1.2v1.2h-1.2zM65.64 211.08h1.2v1.2h-1.2zM65.34 220.6h1.2v1.2h-1.2zM66.08 207.59h1.2v1.2h-1.2zM66.14 218.56h1.2v1.2h-1.2zM66.2 220.66h1.2v1.2h-1.2zM67.6 205.2h1.2v1.2h-1.2zM66.91 207.4h1.2v1.2h-1.2zM69.35 212.14h1.2v1.2h-1.2zM70.63 183.23h1.2v1.2h-1.2zM71.32 213.08h1.2v1.2h-1.2zM72.48 208.33h1.2v1.2h-1.2zM72.02 214.65h1.2v1.2h-1.2zM73.12 204.01h1.2v1.2h-1.2zM74.48 188.24h1.2v1.2h-1.2zM74.54 206.24h1.2v1.2h-1.2zM75.34 192.48h1.2v1.2h-1.2zM75.6 208.03h1.2v1.2h-1.2zM74.99 221.28h1.2v1.2h-1.2zM75.02 232.54h1.2v1.2h-1.2zM76.17 205.19h1.2v1.2h-1.2zM75.97 215.12h1.2v1.2h-1.2zM77.19 206.11h1.2v1.2h-1.2zM78.07 190.13h1.2v1.2h-1.2zM78.48 206h1.2v1.2h-1.2zM78.3 212.42h1.2v1.2h-1.2zM77.92 213.56h1.2v1.2h-1.2zM79.51 212.1h1.2v1.2h-1.2zM79.95 203.96h1.2v1.2h-1.2zM80.6 210.93h1.2v1.2h-1.2zM81.39 211.37h1.2v1.2h-1.2zM81.43 217.26h1.2v1.2h-1.2zM82.26 204.27h1.2v1.2h-1.2zM82.51 210.98h1.2v1.2h-1.2zM83.11 194.29h1.2v1.2h-1.2zM83.23 206.39h1.2v1.2h-1.2zM83.21 217.67h1.2v1.2h-1.2zM84.07 185.64h1.2v1.2h-1.2zM83.91 217.55h1.2v1.2h-1.2zM84.98 212.13h1.2v1.2h-1.2zM85.24 218.63h1.2v1.2h-1.2zM86.01 205.31h1.2v1.2h-1.2zM86.53 212.29h1.2v1.2h-1.2zM86.48 214.7h1.2v1.2h-1.2zM87.54 209.1h1.2v1.2h-1.2zM87.16 216.34h1.2v1.2h-1.2zM88.5 180.68h1.2v1.2h-1.2zM88.58 195.52h1.2v1.2h-1.2zM89.39 202.47h1.2v1.2h-1.2zM89.6 205.54h1.2v1.2h-1.2zM89.04 218.08h1.2v1.2h-1.2zM90.23 187.67h1.2v1.2h-1.2zM91.15 205.55h1.2v1.2h-1.2zM91.14 207.47h1.2v1.2h-1.2zM91.6 210.69h1.2v1.2h-1.2zM91.36 212.38h1.2v1.2h-1.2zM91.03 214.58h1.2v1.2h-1.2zM92.07 192h1.2v1.2h-1.2zM93.59 207.32h1.2v1.2h-1.2zM93.27 208.05h1.2v1.2h-1.2zM93.64 217.45h1.2v1.2h-1.2zM93.59 218.21h1.2v1.2h-1.2zM94.28 208.31h1.2v1.2h-1.2zM93.97 212.92h1.2v1.2h-1.2zM94.38 221.19h1.2v1.2h-1.2zM95.57 206.51h1.2v1.2h-1.2zM95.43 210.36h1.2v1.2h-1.2zM95.09 211.37h1.2v1.2h-1.2zM95.43 214.11h1.2v1.2h-1.2zM96.27 210.96h1.2v1.2h-1.2zM96.44 220.25h1.2v1.2h-1.2zM97.07 199.47h1.2v1.2h-1.2zM97.54 208.07h1.2v1.2h-1.2zM97.91 187.37h1.2v1.2h-1.2zM98.66 205.97h1.2v1.2h-1.2zM98.54 208.38h1.2v1.2h-1.2zM98.46 214.91h1.2v1.2h-1.2zM99.22 215.93h1.2v1.2h-1.2zM100.66 185.69h1.2v1.2h-1.2zM100.47 208.38h1.2v1.2h-1.2zM100.52 209h1.2v1.2h-1.2zM100.69 219.21h1.2v1.2h-1.2zM100.24 219.91h1.2v1.2h-1.2zM100.96 214.64h1.2v1.2h-1.2zM101.06 221.3h1.2v1.2h-1.2zM102.48 184.48h1.2v1.2h-1.2zM102.25 213.45h1.2v1.2h-1.2zM102.57 218.06h1.2v1.2h-1.2zM103.21 205.36h1.2v1.2h-1.2zM103.45 214.35h1.2v1.2h-1.2zM103.93 206.1h1.2v1.2h-1.2zM104.19 211.59h1.2v1.2h-1.2zM104.39 219.12h1.2v1.2h-1.2zM105.35 205.14h1.2v1.2h-1.2zM105.67 212.46h1.2v1.2h-1.2zM105.6 219.21h1.2v1.2h-1.2zM105 220.53h1.2v1.2h-1.2zM105.04 221.58h1.2v1.2h-1.2zM106.51 204.59h1.2v1.2h-1.2zM106.36 206.41h1.2v1.2h-1.2zM105.92 218.12h1.2v1.2h-1.2zM106 220.95h1.2v1.2h-1.2zM107.33 208.95h1.2v1.2h-1.2zM109.3 218.03h1.2v1.2h-1.2zM109.05 220.54h1.2v1.2h-1.2z"/><path fill="#6060d4" d="M62.69 206.41h1.2v1.2h-1.2zM62.39 209.04h1.2v1.2h-1.2zM62.24 213.61h1.2v1.2h-1.2zM61.96 216.2h1.2v1.2h-1.2zM62.09 221.08h1.2v1.2h-1.2zM63.02 182.49h1.2v1.2h-1.2zM63.17 214.69h1.2v1.2h-1.2zM63.16 217.47h1.2v1.2h-1.2zM63.19 218.52h1.2v1.2h-1.2zM63.95 181.69h1.2v1.2h-1.2zM64.1 212.49h1.2v1.2h-1.2zM65.16 208.91h1.2v1.2h-1.2zM65.33 210h1.2v1.2h-1.2zM66.53 205.07h1.2v1.2h-1.2zM65.94 208.33h1.2v1.2h-1.2zM66.37 216.41h1.2v1.2h-1.2zM67.47 208.94h1.2v1.2h-1.2zM67.62 213.55h1.2v1.2h-1.2zM67.5 214.9h1.2v1.2h-1.2zM68.13 216.06h1.2v1.2h-1.2zM68.61 221.12h1.2v1.2h-1.2zM69.22 211.07h1.2v1.2h-1.2zM69.48 214h1.2v1.2h-1.2zM70.27 189.5h1.2v1.2h-1.2zM70.19 211.08h1.2v1.2h-1.2zM70.31 218.05h1.2v1.2h-1.2zM71.48 195.55h1.2v1.2h-1.2zM71.09 195.94h1.2v1.2h-1.2zM71.2 208.91h1.2v1.2h-1.2zM71.58 214.66h1.2v1.2h-1.2zM71.37 221.32h1.2v1.2h-1.2zM72.37 182.19h1.2v1.2h-1.2zM72.33 209.39h1.2v1.2h-1.2zM72.58 211.14h1.2v1.2h-1.2zM73.02 217.26h1.2v1.2h-1.2zM73.94 180.15h1.2v1.2h-1.2zM74.31 207.58h1.2v1.2h-1.2zM75.37 193.69h1.2v1.2h-1.2zM75.53 217.69h1.2v1.2h-1.2zM76.61 207.16h1.2v1.2h-1.2zM76.04 220.46h1.2v1.2h-1.2zM77.49 219.23h1.2v1.2h-1.2zM78.56 193.42h1.2v1.2h-1.2zM78.56 206.9h1.2v1.2h-1.2zM78.57 208.6h1.2v1.2h-1.2zM78.09 215.57h1.2v1.2h-1.2zM79.11 204.58h1.2v1.2h-1.2zM79.57 205.56h1.2v1.2h-1.2zM78.98 211.06h1.2v1.2h-1.2zM79.34 218.09h1.2v1.2h-1.2zM80.2 209.67h1.2v1.2h-1.2zM80.63 218.03h1.2v1.2h-1.2zM80.03 219.52h1.2v1.2h-1.2zM81.35 190.91h1.2v1.2h-1.2zM81.67 207.05h1.2v1.2h-1.2zM81.97 212.61h1.2v1.2h-1.2zM82.56 215.98h1.2v1.2h-1.2zM82.36 219.65h1.2v1.2h-1.2zM83.7 211.63h1.2v1.2h-1.2zM83.57 219.65h1.2v1.2h-1.2zM84.22 184.47h1.2v1.2h-1.2zM86.58 215.56h1.2v1.2h-1.2zM86.38 223.57h1.2v1.2h-1.2zM87.51 197.64h1.2v1.2h-1.2zM87.63 212.6h1.2v1.2h-1.2zM87.05 219.17h1.2v1.2h-1.2zM88.3 208.9h1.2v1.2h-1.2zM88.13 210.6h1.2v1.2h-1.2zM88.68 214.29h1.2v1.2h-1.2zM89.31 185.99h1.2v1.2h-1.2zM89.33 193.65h1.2v1.2h-1.2zM89.15 216.43h1.2v1.2h-1.2zM89.55 223.26h1.2v1.2h-1.2zM90.25 206.47h1.2v1.2h-1.2zM91.04 209.17h1.2v1.2h-1.2zM91.08 215.95h1.2v1.2h-1.2zM92.09 213.57h1.2v1.2h-1.2zM93.5 198.22h1.2v1.2h-1.2zM92.99 214.31h1.2v1.2h-1.2zM93.13 216.4h1.2v1.2h-1.2zM94.59 214.19h1.2v1.2h-1.2zM94.16 215.56h1.2v1.2h-1.2zM95.59 205.45h1.2v1.2h-1.2zM96.17 214.64h1.2v1.2h-1.2zM96.95 212.69h1.2v1.2h-1.2zM97.48 213.95h1.2v1.2h-1.2zM98.04 191.54h1.2v1.2h-1.2zM98.65 209.98h1.2v1.2h-1.2zM99.4 211.59h1.2v1.2h-1.2zM99.43 215.64h1.2v1.2h-1.2zM99.6 223.04h1.2v1.2h-1.2zM99.97 217.61h1.2v1.2h-1.2zM101.1 206.6h1.2v1.2h-1.2zM101.67 207.21h1.2v1.2h-1.2zM102.51 208.07h1.2v1.2h-1.2zM102.31 211h1.2v1.2h-1.2zM103.4 204.01h1.2v1.2h-1.2zM103.24 206.92h1.2v1.2h-1.2zM104.68 221.39h1.2v1.2h-1.2zM105.17 215.08h1.2v1.2h-1.2zM105.53 216.29h1.2v1.2h-1.2zM106.35 208.93h1.2v1.2h-1.2zM106.19 215.27h1.2v1.2h-1.2zM106.57 220.06h1.2v1.2h-1.2zM107.94 214.33h1.2v1.2h-1.2zM108.07 214.93h1.2v1.2h-1.2zM108.99 212.28h1.2v1.2h-1.2zM109.24 214.11h1.2v1.2h-1.2zM109.46 220.94h1.2v1.2h-1.2zM110.13 214.3h1.2v1.2h-1.2zM110.1 215.67h1.2v1.2h-1.2zM110.17 217.26h1.2v1.2h-1.2zM110.66 218.32h1.2v1.2h-1.2zM111.09 212.28h1.2v1.2h-1.2zM111.69 213.56h1.2v1.2h-1.2zM118.15 210.96h1.2v1.2h-1.2z"/><path fill="#0a1ee6" d="M21.98 240.21h1.2v1.2h-1.2zM25.55 253.9h1.2v1.2h-1.2zM26.47 260.47h1.2v1.2h-1.2zM26.1 262.91h1.2v1.2h-1.2zM27.15 260.16h1.2v1.2h-1.2zM28.43 249.96h1.2v1.2h-1.2zM29.03 252.48h1.2v1.2h-1.2zM28.93 253.38h1.2v1.2h-1.2zM31.2 254.17h1.2v1.2h-1.2zM32.23 256.17h1.2v1.2h-1.2zM33.54 175.63h1.2v1.2h-1.2zM33.36 257.45h1.2v1.2h-1.2zM34.58 256.99h1.2v1.2h-1.2zM34.27 257.92h1.2v1.2h-1.2zM36.5 261.62h1.2v1.2h-1.2zM36.01 266.24h1.2v1.2h-1.2zM37.4 259.33h1.2v1.2h-1.2zM36.94 261.23h1.2v1.2h-1.2zM37.17 262.38h1.2v1.2h-1.2zM39.61 256.96h1.2v1.2h-1.2zM40.33 262.27h1.2v1.2h-1.2zM42.21 264.05h1.2v1.2h-1.2zM44.26 174.99h1.2v1.2h-1.2zM44.44 257.14h1.2v1.2h-1.2zM44.6 260.09h1.2v1.2h-1.2zM45.07 257.05h1.2v1.2h-1.2zM46.48 261.57h1.2v1.2h-1.2zM47.59 257.31h1.2v1.2h-1.2zM48.41 174.19h1.2v1.2h-1.2zM51.33 172.99h1.2v1.2h-1.2zM51.6 257.24h1.2v1.2h-1.2zM53.28 246.98h1.2v1.2h-1.2zM55.31 240.06h1.2v1.2h-1.2zM57.69 237.96h1.2v1.2h-1.2zM58.18 237.96h1.2v1.2h-1.2zM59.06 262.3h1.2v1.2h-1.2z"/><path fill="#2844f0" d="M20.95 262.41h1.2v1.2h-1.2zM22.38 254.51h1.2v1.2h-1.2zM23.17 258.41h1.2v1.2h-1.2zM24.17 245.45h1.2v1.2h-1.2zM24.69 249.04h1.2v1.2h-1.2zM24.44 262.54h1.2v1.2h-1.2zM25.1 257.94h1.2v1.2h-1.2zM27.31 251.31h1.2v1.2h-1.2zM27.39 252.51h1.2v1.2h-1.2zM32.17 252.55h1.2v1.2h-1.2zM32.47 255.1h1.2v1.2h-1.2zM32.09 257.26h1.2v1.2h-1.2zM34.59 259.6h1.2v1.2h-1.2zM34.33 263.32h1.2v1.2h-1.2zM35.3 260.5h1.2v1.2h-1.2zM36.92 260.47h1.2v1.2h-1.2zM37.31 263.35h1.2v1.2h-1.2zM38.58 173.99h1.2v1.2h-1.2zM38.31 259.66h1.2v1.2h-1.2zM40.1 258.39h1.2v1.2h-1.2zM40.12 263.51h1.2v1.2h-1.2zM41.41 174.01h1.2v1.2h-1.2zM41.01 258.18h1.2v1.2h-1.2zM42.26 258.54h1.2v1.2h-1.2zM43.65 175.34h1.2v1.2h-1.2zM42.97 254.27h1.2v1.2h-1.2zM43.66 255.96h1.2v1.2h-1.2zM45.25 174.11h1.2v1.2h-1.2zM45.42 265.07h1.2v1.2h-1.2zM45.94 262.05h1.2v1.2h-1.2zM46.32 266.24h1.2v1.2h-1.2zM48.57 173.07h1.2v1.2h-1.2zM49.42 249.64h1.2v1.2h-1.2zM49.92 171.29h1.2v1.2h-1.2zM50.07 173.21h1.2v1.2h-1.2zM51.11 248.51h1.2v1.2h-1.2zM53.11 174.69h1.2v1.2h-1.2zM54.07 174.14h1.2v1.2h-1.2zM54.41 256h1.2v1.2h-1.2zM55.04 173.17h1.2v1.2h-1.2zM56.43 239.56h1.2v1.2h-1.2zM57.37 258.13h1.2v1.2h-1.2zM58.35 174.69h1.2v1.2h-1.2z"/><path fill="#5a74f4" d="M22.2 175.99h1.2v1.2h-1.2zM21.93 242.26h1.2v1.2h-1.2zM25.66 255.65h1.2v1.2h-1.2zM25.46 260.09h1.2v1.2h-1.2zM25.2 263.07h1.2v1.2h-1.2zM26.25 264.52h1.2v1.2h-1.2zM26.92 248.32h1.2v1.2h-1.2zM27.07 257.4h1.2v1.2h-1.2zM28.53 255.51h1.2v1.2h-1.2zM28.18 259.62h1.2v1.2h-1.2zM28.91 257.14h1.2v1.2h-1.2zM31.02 258.45h1.2v1.2h-1.2zM31.29 264.38h1.2v1.2h-1.2zM31.95 257.98h1.2v1.2h-1.2zM34.5 173.42h1.2v1.2h-1.2zM34.64 255.25h1.2v1.2h-1.2zM35.38 257.24h1.2v1.2h-1.2zM39.6 262.14h1.2v1.2h-1.2zM39.29 263.53h1.2v1.2h-1.2zM40.2 174.25h1.2v1.2h-1.2zM39.98 259.67h1.2v1.2h-1.2zM41.3 264.28h1.2v1.2h-1.2zM42.03 263.23h1.2v1.2h-1.2zM43.18 262.05h1.2v1.2h-1.2zM44.19 258.18h1.2v1.2h-1.2zM44.41 261.96h1.2v1.2h-1.2zM45.69 256.57h1.2v1.2h-1.2zM45.91 175.26h1.2v1.2h-1.2zM46.49 254.93h1.2v1.2h-1.2zM47.61 175.67h1.2v1.2h-1.2zM46.96 252.16h1.2v1.2h-1.2zM47.67 264.13h1.2v1.2h-1.2zM48.49 248.54h1.2v1.2h-1.2zM48.9 172.28h1.2v1.2h-1.2zM49.16 251.56h1.2v1.2h-1.2zM48.96 258.44h1.2v1.2h-1.2zM49.92 248.39h1.2v1.2h-1.2zM52.28 244.64h1.2v1.2h-1.2zM54.69 260.56h1.2v1.2h-1.2zM56.46 174.2h1.2v1.2h-1.2zM59.37 230.24h1.2v1.2h-1.2z"/></g><path d="M60.8 160.5V268 M60.8 203H129" stroke="#cc22cc" stroke-width="1.6" fill="none"/><rect x="20" y="160.5" width="109" height="107.5" fill="none" stroke="#000" stroke-width="1.5"/><path d="M20 168.5h-3.8M20 171.2h-2.3M20 173.9h-2.3M20 176.6h-2.3M20 179.3h-2.3M20 182h-2.3M20 184.7h-2.3M20 187.4h-2.3M20 190.1h-2.3M20 192.8h-3.8M20 195.5h-2.3M20 198.2h-2.3M20 200.9h-2.3M20 203.6h-2.3M20 206.3h-2.3M20 209h-2.3M20 211.7h-2.3M20 214.4h-2.3M20 217.1h-3.8M20 219.8h-2.3M20 222.5h-2.3M20 225.2h-2.3M20 227.9h-2.3M20 230.6h-2.3M20 233.3h-2.3M20 236h-2.3M20 238.7h-2.3M20 241.4h-3.8M20 244.1h-2.3M20 246.8h-2.3M20 249.5h-2.3M20 252.2h-2.3M20 254.9h-2.3M20 257.6h-2.3M20 260.3h-2.3M20 263h-2.3M20 265.7h-3.8M22.5 268v2.3M25.2 268v2.3M27.9 268v2.3M30.6 268v2.3M33.3 268v3.8M36 268v2.3M38.7 268v2.3M41.4 268v2.3M44.1 268v2.3M46.8 268v2.3M49.5 268v2.3M52.2 268v2.3M54.9 268v2.3M57.6 268v3.8M60.3 268v2.3M63 268v2.3M65.7 268v2.3M68.4 268v2.3M71.1 268v2.3M73.8 268v2.3M76.5 268v2.3M79.2 268v2.3M81.9 268v3.8M84.6 268v2.3M87.3 268v2.3M90 268v2.3M92.7 268v2.3M95.4 268v2.3M98.1 268v2.3M100.8 268v2.3M103.5 268v2.3M106.2 268v3.8M108.9 268v2.3M111.6 268v2.3M114.3 268v2.3M117 268v2.3M119.7 268v2.3" stroke="#000" stroke-width="1" fill="none"/><text x="126" y="173.7" text-anchor="end" font-size="12.2">13%</text><text x="126" y="264" text-anchor="end" font-size="12.2">87%</text><clipPath id="c5"><rect x="137.8" y="161.3" width="107.4" height="105.9"/></clipPath><g clip-path="url(#c5)"><g filter="url(#jet)"><rect x="134" y="157.5" width="115" height="113.5" fill="none"/><path d="M135.92 181.52C136.28 170.94 136.8 181.72 138.33 181.9C139.86 182.08 142.39 182.14 145.1 182.58C147.82 183.03 151.42 183.52 154.61 184.54C157.8 185.56 161.3 187.31 164.25 188.68C167.2 190.04 170.44 191.45 172.3 192.72C174.15 193.99 174.78 194.24 175.4 196.3C176.02 198.35 175.9 198.69 176 205.05C176.11 211.41 176.47 228.45 176.02 234.45C175.58 240.46 174.68 238.65 173.35 241.1C172.02 243.54 170.02 246.9 168.04 249.12C166.06 251.34 164.09 253.31 161.48 254.41C158.88 255.5 155.21 255.92 152.42 255.71C149.62 255.49 146.81 254.46 144.72 253.12C142.62 251.77 141.28 248.9 139.85 247.61C138.42 246.32 136.8 256.4 136.14 245.38C135.49 234.36 135.55 192.1 135.92 181.52Z" fill-opacity="0.2" filter="url(#es)"/><ellipse cx="158.5" cy="211" rx="20.59" ry="28.24" fill="url(#g)" opacity="0.138"/><ellipse cx="159" cy="211" rx="17.41" ry="25.29" fill="url(#g)" opacity="0.145"/><path d="M146.9 192.7C147.78 191.93 149.95 191.27 151.5 191.9C153.05 192.53 154.27 195.22 156.2 196.5C158.13 197.78 160.93 198.95 163.1 199.6C165.27 200.25 167.67 199.5 169.2 200.4C170.73 201.3 171.92 203.33 172.3 205C172.68 206.67 172.27 208.87 171.5 210.4C170.73 211.93 168.85 213.05 167.7 214.2C166.55 215.35 165.25 215.75 164.6 217.3C163.95 218.85 164.32 221.45 163.8 223.5C163.28 225.55 162.65 228.45 161.5 229.6C160.35 230.75 158.43 230.78 156.9 230.4C155.37 230.02 153.2 228.83 152.3 227.3C151.4 225.77 151.5 223.12 151.5 221.2C151.5 219.28 152.42 217.98 152.3 215.8C152.18 213.62 151.57 210.42 150.8 208.1C150.03 205.78 148.47 203.83 147.7 201.9C146.93 199.97 146.33 198.03 146.2 196.5C146.07 194.97 146.02 193.47 146.9 192.7Z" fill-opacity="0.186" filter="url(#bl2)"/><ellipse cx="166.2" cy="206" rx="7.41" ry="8.59" fill="url(#g)" opacity="0.250"/><ellipse cx="158.8" cy="220.8" rx="4.12" ry="4.47" fill="url(#g)" opacity="0.250"/><ellipse cx="165.8" cy="205.8" rx="6.12" ry="6.82" fill="url(#g)" opacity="0.222"/><ellipse cx="158.8" cy="220.8" rx="1.76" ry="1.76" fill="url(#g)" opacity="0.133"/><ellipse cx="165.8" cy="205.8" rx="4.47" ry="4.94" fill="url(#g)" opacity="0.500"/></g><path fill="#2626a8" d="M180.36 220.28h1.2v1.2h-1.2zM181.18 226.46h1.2v1.2h-1.2zM181.05 227.27h1.2v1.2h-1.2zM181.66 228.53h1.2v1.2h-1.2zM180.93 231.36h1.2v1.2h-1.2zM182.56 198.06h1.2v1.2h-1.2zM182.1 217.1h1.2v1.2h-1.2zM182.17 223.25h1.2v1.2h-1.2zM181.96 227.68h1.2v1.2h-1.2zM182.34 230.4h1.2v1.2h-1.2zM182.47 233.38h1.2v1.2h-1.2zM182.41 238.1h1.2v1.2h-1.2zM183.36 194.35h1.2v1.2h-1.2zM183.12 203.3h1.2v1.2h-1.2zM183.68 221.67h1.2v1.2h-1.2zM183.35 263.12h1.2v1.2h-1.2zM184.04 191.48h1.2v1.2h-1.2zM183.97 192.45h1.2v1.2h-1.2zM183.91 196.17h1.2v1.2h-1.2zM183.99 219.27h1.2v1.2h-1.2zM184.05 254.1h1.2v1.2h-1.2zM185.65 192.26h1.2v1.2h-1.2zM185.49 249.21h1.2v1.2h-1.2zM185.61 251.2h1.2v1.2h-1.2zM186.41 181.42h1.2v1.2h-1.2zM186.46 202.39h1.2v1.2h-1.2zM186.59 265.3h1.2v1.2h-1.2zM187.65 223.93h1.2v1.2h-1.2zM188.37 194.68h1.2v1.2h-1.2zM188.58 230.34h1.2v1.2h-1.2zM187.91 241.13h1.2v1.2h-1.2zM189.5 190.24h1.2v1.2h-1.2zM189.32 220.21h1.2v1.2h-1.2zM189.01 225.29h1.2v1.2h-1.2zM189.03 258.38h1.2v1.2h-1.2zM190.46 252.37h1.2v1.2h-1.2zM190.13 254.05h1.2v1.2h-1.2zM191.22 202.29h1.2v1.2h-1.2zM191.28 237.99h1.2v1.2h-1.2zM191.02 249.49h1.2v1.2h-1.2zM190.98 257.01h1.2v1.2h-1.2zM192.38 193.11h1.2v1.2h-1.2zM193.56 241.37h1.2v1.2h-1.2zM193.01 242.39h1.2v1.2h-1.2zM194.49 216.37h1.2v1.2h-1.2zM193.9 220.36h1.2v1.2h-1.2zM194.6 222.28h1.2v1.2h-1.2zM195.66 224.14h1.2v1.2h-1.2zM195.16 232.69h1.2v1.2h-1.2zM195.64 255.24h1.2v1.2h-1.2zM194.9 256.92h1.2v1.2h-1.2zM195.55 260.91h1.2v1.2h-1.2zM196.24 218.65h1.2v1.2h-1.2zM195.96 226.36h1.2v1.2h-1.2zM197.43 205.31h1.2v1.2h-1.2zM197.18 259.32h1.2v1.2h-1.2zM198.61 206.37h1.2v1.2h-1.2zM198.55 211.91h1.2v1.2h-1.2zM198.19 257.18h1.2v1.2h-1.2zM199.08 204.52h1.2v1.2h-1.2zM199.02 220.12h1.2v1.2h-1.2zM198.97 263.09h1.2v1.2h-1.2zM200.5 238.47h1.2v1.2h-1.2zM200.3 257.42h1.2v1.2h-1.2zM202.17 217.32h1.2v1.2h-1.2zM202.95 238.41h1.2v1.2h-1.2zM204.16 227.36h1.2v1.2h-1.2zM205.35 240.5h1.2v1.2h-1.2zM205.29 245.52h1.2v1.2h-1.2zM206.47 207.09h1.2v1.2h-1.2zM206.6 261.63h1.2v1.2h-1.2zM206.97 200.15h1.2v1.2h-1.2zM207.43 202.6h1.2v1.2h-1.2zM208.41 196.01h1.2v1.2h-1.2zM208.61 211.01h1.2v1.2h-1.2zM208.19 222.39h1.2v1.2h-1.2zM208.44 226.12h1.2v1.2h-1.2zM207.98 233.36h1.2v1.2h-1.2zM209.57 204.18h1.2v1.2h-1.2zM209.02 244.61h1.2v1.2h-1.2zM209.92 186.3h1.2v1.2h-1.2zM210.34 212.18h1.2v1.2h-1.2zM210.58 214.21h1.2v1.2h-1.2zM210.13 226.18h1.2v1.2h-1.2zM210.04 248.18h1.2v1.2h-1.2zM210.56 256.4h1.2v1.2h-1.2zM211.52 197.46h1.2v1.2h-1.2zM211.49 208.52h1.2v1.2h-1.2zM212.2 223.38h1.2v1.2h-1.2zM212.98 192.23h1.2v1.2h-1.2zM213.09 202.41h1.2v1.2h-1.2zM213.33 204.29h1.2v1.2h-1.2zM213.03 220h1.2v1.2h-1.2zM212.95 225.93h1.2v1.2h-1.2zM213.47 247.31h1.2v1.2h-1.2zM213.39 256.6h1.2v1.2h-1.2zM214.44 238.63h1.2v1.2h-1.2zM215.53 198.34h1.2v1.2h-1.2zM215.39 235.49h1.2v1.2h-1.2zM216.49 215.47h1.2v1.2h-1.2zM218.53 230.52h1.2v1.2h-1.2zM218.68 239.5h1.2v1.2h-1.2zM219.14 211.08h1.2v1.2h-1.2zM219.31 230.41h1.2v1.2h-1.2zM218.97 233.21h1.2v1.2h-1.2zM220.41 234.56h1.2v1.2h-1.2zM223 215.26h1.2v1.2h-1.2zM223.94 213.04h1.2v1.2h-1.2zM224.22 220.25h1.2v1.2h-1.2zM225.66 209.13h1.2v1.2h-1.2zM226.51 221.11h1.2v1.2h-1.2zM225.98 233.46h1.2v1.2h-1.2zM228.38 235.6h1.2v1.2h-1.2z"/><path fill="#3c3cc0" d="M175.31 193.09h1.2v1.2h-1.2zM180.66 221.54h1.2v1.2h-1.2zM180.14 232.46h1.2v1.2h-1.2zM180.3 247.38h1.2v1.2h-1.2zM181.57 192.29h1.2v1.2h-1.2zM181.12 228.91h1.2v1.2h-1.2zM181.3 250.5h1.2v1.2h-1.2zM182.02 209.69h1.2v1.2h-1.2zM182.59 212.61h1.2v1.2h-1.2zM183 218.98h1.2v1.2h-1.2zM183.37 241.46h1.2v1.2h-1.2zM184.49 203.1h1.2v1.2h-1.2zM184.6 217.01h1.2v1.2h-1.2zM184.35 236.19h1.2v1.2h-1.2zM184.08 240.18h1.2v1.2h-1.2zM184.53 250.56h1.2v1.2h-1.2zM185.65 220.31h1.2v1.2h-1.2zM185.7 222.3h1.2v1.2h-1.2zM185.26 237.41h1.2v1.2h-1.2zM185.96 183.32h1.2v1.2h-1.2zM186.16 196.54h1.2v1.2h-1.2zM186.19 201.17h1.2v1.2h-1.2zM186.54 255.59h1.2v1.2h-1.2zM186.93 188.19h1.2v1.2h-1.2zM187.15 189.18h1.2v1.2h-1.2zM188.21 232.27h1.2v1.2h-1.2zM189.09 213.51h1.2v1.2h-1.2zM189.4 228.04h1.2v1.2h-1.2zM190.09 211.94h1.2v1.2h-1.2zM190.4 213.37h1.2v1.2h-1.2zM190.42 224.21h1.2v1.2h-1.2zM191.01 188.92h1.2v1.2h-1.2zM191.26 205.01h1.2v1.2h-1.2zM192.45 213.06h1.2v1.2h-1.2zM192.9 199.95h1.2v1.2h-1.2zM193 219.62h1.2v1.2h-1.2zM194.03 236.25h1.2v1.2h-1.2zM194.7 250.17h1.2v1.2h-1.2zM195.38 194.12h1.2v1.2h-1.2zM195.61 221.41h1.2v1.2h-1.2zM195.24 230.37h1.2v1.2h-1.2zM196.07 232.57h1.2v1.2h-1.2zM196.34 260.51h1.2v1.2h-1.2zM196.36 265.25h1.2v1.2h-1.2zM197.58 190.14h1.2v1.2h-1.2zM197.56 203.26h1.2v1.2h-1.2zM196.91 206.58h1.2v1.2h-1.2zM197.1 226.55h1.2v1.2h-1.2zM197 232.65h1.2v1.2h-1.2zM198.45 187.37h1.2v1.2h-1.2zM198.31 223h1.2v1.2h-1.2zM198.53 232.64h1.2v1.2h-1.2zM199.47 240.3h1.2v1.2h-1.2zM199.51 242.38h1.2v1.2h-1.2zM200.16 187.15h1.2v1.2h-1.2zM200.05 193.13h1.2v1.2h-1.2zM200.18 233.43h1.2v1.2h-1.2zM200.65 251.26h1.2v1.2h-1.2zM201.65 193.68h1.2v1.2h-1.2zM201.11 212.15h1.2v1.2h-1.2zM202.56 206.07h1.2v1.2h-1.2zM202.03 226.02h1.2v1.2h-1.2zM202.49 232.69h1.2v1.2h-1.2zM202.08 236.94h1.2v1.2h-1.2zM202.32 253.17h1.2v1.2h-1.2zM202.67 259.43h1.2v1.2h-1.2zM203.35 195.3h1.2v1.2h-1.2zM204.66 236.26h1.2v1.2h-1.2zM205.12 220.54h1.2v1.2h-1.2zM205.42 233.1h1.2v1.2h-1.2zM206.6 236.94h1.2v1.2h-1.2zM205.97 247.56h1.2v1.2h-1.2zM207.03 204.54h1.2v1.2h-1.2zM207.25 210.39h1.2v1.2h-1.2zM207.08 219.28h1.2v1.2h-1.2zM207.49 226.3h1.2v1.2h-1.2zM206.96 228.66h1.2v1.2h-1.2zM208.66 265.3h1.2v1.2h-1.2zM209.17 223.4h1.2v1.2h-1.2zM209.5 225.51h1.2v1.2h-1.2zM209.56 228.91h1.2v1.2h-1.2zM211.19 204.6h1.2v1.2h-1.2zM212.51 186.27h1.2v1.2h-1.2zM213.42 219.33h1.2v1.2h-1.2zM214.92 220.92h1.2v1.2h-1.2zM215.35 237.18h1.2v1.2h-1.2zM216.06 208.41h1.2v1.2h-1.2zM216.02 259.36h1.2v1.2h-1.2zM217.05 195.14h1.2v1.2h-1.2zM218.21 228.56h1.2v1.2h-1.2zM219.38 196.16h1.2v1.2h-1.2zM219.67 236.99h1.2v1.2h-1.2zM220.41 227.33h1.2v1.2h-1.2zM221.37 199.31h1.2v1.2h-1.2zM220.93 210.33h1.2v1.2h-1.2zM221.5 224.62h1.2v1.2h-1.2zM222.38 239.25h1.2v1.2h-1.2zM222.96 234.91h1.2v1.2h-1.2zM223.03 247.03h1.2v1.2h-1.2zM224.04 209.94h1.2v1.2h-1.2zM227.11 205.97h1.2v1.2h-1.2zM226.95 212.93h1.2v1.2h-1.2z"/><path fill="#6060d4" d="M175.03 247.46h1.2v1.2h-1.2zM180.13 218.09h1.2v1.2h-1.2zM181.45 188.66h1.2v1.2h-1.2zM181.51 196.18h1.2v1.2h-1.2zM181.06 235.52h1.2v1.2h-1.2zM181.03 251h1.2v1.2h-1.2zM182.67 203.49h1.2v1.2h-1.2zM182.33 203.93h1.2v1.2h-1.2zM182.09 213.2h1.2v1.2h-1.2zM182.94 214.58h1.2v1.2h-1.2zM183.08 224.36h1.2v1.2h-1.2zM183.49 233.52h1.2v1.2h-1.2zM182.98 257.3h1.2v1.2h-1.2zM183.92 186.91h1.2v1.2h-1.2zM184.17 199.14h1.2v1.2h-1.2zM184.59 234.6h1.2v1.2h-1.2zM184.66 244.32h1.2v1.2h-1.2zM185.45 218.57h1.2v1.2h-1.2zM185.54 239.22h1.2v1.2h-1.2zM186.41 264.16h1.2v1.2h-1.2zM187.47 230.22h1.2v1.2h-1.2zM187.55 238.31h1.2v1.2h-1.2zM187.61 253.41h1.2v1.2h-1.2zM187.45 255.29h1.2v1.2h-1.2zM189.18 201.03h1.2v1.2h-1.2zM188.99 206.29h1.2v1.2h-1.2zM190.91 193.46h1.2v1.2h-1.2zM192.12 194.6h1.2v1.2h-1.2zM192.37 197.53h1.2v1.2h-1.2zM191.9 217.69h1.2v1.2h-1.2zM192.32 257.34h1.2v1.2h-1.2zM191.99 265.69h1.2v1.2h-1.2zM193.16 239.06h1.2v1.2h-1.2zM193.64 257.93h1.2v1.2h-1.2zM194.41 201.59h1.2v1.2h-1.2zM194.51 224.17h1.2v1.2h-1.2zM194.12 226.63h1.2v1.2h-1.2zM195.64 214.46h1.2v1.2h-1.2zM195.38 218h1.2v1.2h-1.2zM195.66 231.47h1.2v1.2h-1.2zM195.12 233.05h1.2v1.2h-1.2zM195.21 248.29h1.2v1.2h-1.2zM196.05 259.22h1.2v1.2h-1.2zM197.32 212.44h1.2v1.2h-1.2zM197.56 234.47h1.2v1.2h-1.2zM197.42 236.46h1.2v1.2h-1.2zM198.13 199.46h1.2v1.2h-1.2zM198.45 224.01h1.2v1.2h-1.2zM198.39 227.13h1.2v1.2h-1.2zM198.22 240.61h1.2v1.2h-1.2zM198.65 261.21h1.2v1.2h-1.2zM199.48 208.6h1.2v1.2h-1.2zM199.21 212.07h1.2v1.2h-1.2zM199.53 241.41h1.2v1.2h-1.2zM199.22 250.41h1.2v1.2h-1.2zM200.2 194.36h1.2v1.2h-1.2zM200.67 244.94h1.2v1.2h-1.2zM201.58 221.24h1.2v1.2h-1.2zM201.4 231.15h1.2v1.2h-1.2zM201.18 237.46h1.2v1.2h-1.2zM202.08 243.68h1.2v1.2h-1.2zM203.22 186.22h1.2v1.2h-1.2zM203.31 203.31h1.2v1.2h-1.2zM203.36 241.91h1.2v1.2h-1.2zM204.34 190.97h1.2v1.2h-1.2zM205.3 198.66h1.2v1.2h-1.2zM205.06 203.27h1.2v1.2h-1.2zM205.54 208.14h1.2v1.2h-1.2zM205.43 217.67h1.2v1.2h-1.2zM205.59 225.42h1.2v1.2h-1.2zM204.93 234.99h1.2v1.2h-1.2zM205.53 244.67h1.2v1.2h-1.2zM206.14 193.17h1.2v1.2h-1.2zM206.22 209.49h1.2v1.2h-1.2zM206.68 228.03h1.2v1.2h-1.2zM207.21 241.51h1.2v1.2h-1.2zM209.13 205.58h1.2v1.2h-1.2zM209.31 217.34h1.2v1.2h-1.2zM209.21 232.43h1.2v1.2h-1.2zM209.11 235.31h1.2v1.2h-1.2zM210.67 207.37h1.2v1.2h-1.2zM210.58 228.92h1.2v1.2h-1.2zM211.59 215.38h1.2v1.2h-1.2zM211.23 242.24h1.2v1.2h-1.2zM211.41 257.64h1.2v1.2h-1.2zM211.49 264.65h1.2v1.2h-1.2zM211.96 190.37h1.2v1.2h-1.2zM211.9 199.33h1.2v1.2h-1.2zM212.36 239.96h1.2v1.2h-1.2zM213.64 203.58h1.2v1.2h-1.2zM213.09 227.66h1.2v1.2h-1.2zM214.34 202.1h1.2v1.2h-1.2zM214.59 226.24h1.2v1.2h-1.2zM215.42 206.22h1.2v1.2h-1.2zM215.1 264.42h1.2v1.2h-1.2zM217.5 241.16h1.2v1.2h-1.2zM219.5 232.56h1.2v1.2h-1.2zM220.44 221.02h1.2v1.2h-1.2zM220.53 222.1h1.2v1.2h-1.2zM221.29 220.07h1.2v1.2h-1.2zM221.57 226.93h1.2v1.2h-1.2zM222.21 238.69h1.2v1.2h-1.2zM223.53 211.11h1.2v1.2h-1.2zM223.98 214.49h1.2v1.2h-1.2zM226.25 243.41h1.2v1.2h-1.2zM226.01 249.96h1.2v1.2h-1.2zM227.11 186.39h1.2v1.2h-1.2zM226.92 190.48h1.2v1.2h-1.2z"/><path fill="#0a1ee6" d="M138.3 179.42h1.2v1.2h-1.2zM139.53 264.94h1.2v1.2h-1.2zM140.11 252.58h1.2v1.2h-1.2zM141.17 179.48h1.2v1.2h-1.2zM143.92 256.4h1.2v1.2h-1.2zM144.18 261.51h1.2v1.2h-1.2zM145.5 265.35h1.2v1.2h-1.2zM149.37 258.13h1.2v1.2h-1.2zM150 180.45h1.2v1.2h-1.2zM151.07 261.66h1.2v1.2h-1.2zM151.25 263.5h1.2v1.2h-1.2zM152 258.39h1.2v1.2h-1.2zM155.24 258.35h1.2v1.2h-1.2zM156.46 181.26h1.2v1.2h-1.2zM158.5 264.52h1.2v1.2h-1.2zM159.66 182.64h1.2v1.2h-1.2zM162.02 185.5h1.2v1.2h-1.2zM162.95 185.05h1.2v1.2h-1.2zM163.27 186.32h1.2v1.2h-1.2zM164.7 255.44h1.2v1.2h-1.2zM166.64 253.66h1.2v1.2h-1.2zM168.02 255.23h1.2v1.2h-1.2zM170.5 188.94h1.2v1.2h-1.2zM170.12 249.45h1.2v1.2h-1.2zM171.04 250.59h1.2v1.2h-1.2zM174.25 192.59h1.2v1.2h-1.2zM176.23 240.68h1.2v1.2h-1.2zM176.43 245.21h1.2v1.2h-1.2zM177.16 192.07h1.2v1.2h-1.2zM177.67 205.08h1.2v1.2h-1.2zM177.51 240.42h1.2v1.2h-1.2z"/><path fill="#2844f0" d="M138.51 251.2h1.2v1.2h-1.2zM139.62 177.41h1.2v1.2h-1.2zM142.21 260.12h1.2v1.2h-1.2zM144.06 178.39h1.2v1.2h-1.2zM144.35 179.15h1.2v1.2h-1.2zM145.69 177.97h1.2v1.2h-1.2zM145.59 266.14h1.2v1.2h-1.2zM148.08 256.42h1.2v1.2h-1.2zM147.93 259.67h1.2v1.2h-1.2zM151.95 256.35h1.2v1.2h-1.2zM153.62 180.02h1.2v1.2h-1.2zM153.12 258.28h1.2v1.2h-1.2zM153.25 264.41h1.2v1.2h-1.2zM154.4 261.56h1.2v1.2h-1.2zM154.99 260.54h1.2v1.2h-1.2zM155.95 257.59h1.2v1.2h-1.2zM155.9 258.6h1.2v1.2h-1.2zM157.08 263.29h1.2v1.2h-1.2zM159.46 257.14h1.2v1.2h-1.2zM161.01 184.92h1.2v1.2h-1.2zM163.29 254.95h1.2v1.2h-1.2zM163.58 256.62h1.2v1.2h-1.2zM164.53 256.46h1.2v1.2h-1.2zM167.4 187.59h1.2v1.2h-1.2zM166.92 253.11h1.2v1.2h-1.2zM169.43 189.08h1.2v1.2h-1.2zM175.19 256.49h1.2v1.2h-1.2zM176.31 189.33h1.2v1.2h-1.2zM176.45 192.06h1.2v1.2h-1.2zM177.57 236.44h1.2v1.2h-1.2zM176.92 242.03h1.2v1.2h-1.2zM177.12 245.53h1.2v1.2h-1.2z"/><path fill="#5a74f4" d="M138.95 178.16h1.2v1.2h-1.2zM139.37 251.95h1.2v1.2h-1.2zM140.17 178.62h1.2v1.2h-1.2zM143.35 177.09h1.2v1.2h-1.2zM143.16 265.5h1.2v1.2h-1.2zM144.62 262.94h1.2v1.2h-1.2zM145.56 259.21h1.2v1.2h-1.2zM147.49 180.16h1.2v1.2h-1.2zM149.68 262.29h1.2v1.2h-1.2zM150.45 262.55h1.2v1.2h-1.2zM151.3 262.49h1.2v1.2h-1.2zM152.51 261.35h1.2v1.2h-1.2zM152.19 264.39h1.2v1.2h-1.2zM153.49 261.24h1.2v1.2h-1.2zM154.51 264.33h1.2v1.2h-1.2zM156.69 180.37h1.2v1.2h-1.2zM158.39 181.16h1.2v1.2h-1.2zM159.3 264.61h1.2v1.2h-1.2zM164.45 185.34h1.2v1.2h-1.2zM163.99 186.07h1.2v1.2h-1.2zM171.17 189.22h1.2v1.2h-1.2zM171.67 250.98h1.2v1.2h-1.2zM171.03 253.16h1.2v1.2h-1.2zM171.96 247.32h1.2v1.2h-1.2zM174.13 190.99h1.2v1.2h-1.2zM174.97 246.24h1.2v1.2h-1.2zM175.94 192.98h1.2v1.2h-1.2zM176.99 213.34h1.2v1.2h-1.2zM177.42 235.6h1.2v1.2h-1.2z"/></g><path d="M179.1 160.5V268 M179.1 214.5H246" stroke="#cc22cc" stroke-width="1.6" fill="none"/><rect x="137" y="160.5" width="109" height="107.5" fill="none" stroke="#000" stroke-width="1.5"/><path d="M137 168.5h-3.8M137 171.2h-2.3M137 173.9h-2.3M137 176.6h-2.3M137 179.3h-2.3M137 182h-2.3M137 184.7h-2.3M137 187.4h-2.3M137 190.1h-2.3M137 192.8h-3.8M137 195.5h-2.3M137 198.2h-2.3M137 200.9h-2.3M137 203.6h-2.3M137 206.3h-2.3M137 209h-2.3M137 211.7h-2.3M137 214.4h-2.3M137 217.1h-3.8M137 219.8h-2.3M137 222.5h-2.3M137 225.2h-2.3M137 227.9h-2.3M137 230.6h-2.3M137 233.3h-2.3M137 236h-2.3M137 238.7h-2.3M137 241.4h-3.8M137 244.1h-2.3M137 246.8h-2.3M137 249.5h-2.3M137 252.2h-2.3M137 254.9h-2.3M137 257.6h-2.3M137 260.3h-2.3M137 263h-2.3M137 265.7h-3.8M139.5 268v2.3M142.2 268v2.3M144.9 268v2.3M147.6 268v2.3M150.3 268v3.8M153 268v2.3M155.7 268v2.3M158.4 268v2.3M161.1 268v2.3M163.8 268v2.3M166.5 268v2.3M169.2 268v2.3M171.9 268v2.3M174.6 268v3.8M177.3 268v2.3M180 268v2.3M182.7 268v2.3M185.4 268v2.3M188.1 268v2.3M190.8 268v2.3M193.5 268v2.3M196.2 268v2.3M198.9 268v3.8M201.6 268v2.3M204.3 268v2.3M207 268v2.3M209.7 268v2.3M212.4 268v2.3M215.1 268v2.3M217.8 268v2.3M220.5 268v2.3M223.2 268v3.8M225.9 268v2.3M228.6 268v2.3M231.3 268v2.3M234 268v2.3M236.7 268v2.3" stroke="#000" stroke-width="1" fill="none"/><text x="243" y="173.7" text-anchor="end" font-size="12.2">28%</text><text x="243" y="264" text-anchor="end" font-size="12.2">72%</text><clipPath id="c6"><rect x="254.8" y="161.3" width="107.4" height="105.9"/></clipPath><g clip-path="url(#c6)"><g filter="url(#jet)"><rect x="251" y="157.5" width="115" height="113.5" fill="none"/><path d="M252.92 196.42C253.3 192.02 253.01 196.94 255.27 196.8C257.53 196.66 262.57 195.9 266.5 195.6C270.43 195.3 275.2 195.2 278.87 195C282.54 194.8 286.22 194.28 288.52 194.39C290.81 194.5 291.95 193.05 292.64 195.66C293.34 198.26 292.74 202.94 292.7 210.01C292.66 217.07 292.86 232.41 292.43 238.05C291.99 243.68 291.23 241.92 290.08 243.84C288.93 245.77 287.16 248.44 285.52 249.59C283.88 250.74 282.27 251.32 280.25 250.72C278.23 250.13 275.98 248.2 273.43 246C270.87 243.79 267.36 240.54 264.92 237.49C262.48 234.44 260.29 230 258.79 227.69C257.29 225.38 256.89 224.38 255.93 223.62C254.97 222.87 253.51 227.72 253.01 223.18C252.51 218.65 252.54 200.82 252.92 196.42Z" fill-opacity="0.2" filter="url(#es)"/><ellipse cx="275.8" cy="216.7" rx="18.82" ry="21.53" fill="url(#g)" opacity="0.138"/><ellipse cx="276.5" cy="216.3" rx="16.35" ry="18.47" fill="url(#g)" opacity="0.145"/><path d="M265.5 208.6C266.23 207.02 268.53 205.85 270.6 205C272.67 204.15 275.47 204 277.9 203.5C280.33 203 283.37 201.75 285.2 202C287.03 202.25 288.4 203.28 288.9 205C289.4 206.72 289.05 210.48 288.2 212.3C287.35 214.12 285.27 214.8 283.8 215.9C282.33 217 280.38 217.43 279.4 218.9C278.42 220.37 278.63 223.12 277.9 224.7C277.17 226.28 275.97 228.15 275 228.4C274.03 228.65 272.95 227.67 272.1 226.2C271.25 224.73 270.88 221.55 269.9 219.6C268.92 217.65 266.93 216.33 266.2 214.5C265.47 212.67 264.77 210.18 265.5 208.6Z" fill-opacity="0.186" filter="url(#bl2)"/><path d="M268.5 211.5C268.83 210.33 270.42 210.17 272 209.5C273.58 208.83 276.5 208.42 278 207.5C279.5 206.58 279.67 204.67 281 204C282.33 203.33 284.75 203 286 203.5C287.25 204 288.17 205.58 288.5 207C288.83 208.42 288.75 210.75 288 212C287.25 213.25 285.5 214 284 214.5C282.5 215 280.17 214.42 279 215C277.83 215.58 277.5 216.83 277 218C276.5 219.17 276.58 221.25 276 222C275.42 222.75 274.08 223 273.5 222.5C272.92 222 273.08 220 272.5 219C271.92 218 270.67 217.75 270 216.5C269.33 215.25 268.17 212.67 268.5 211.5Z" fill-opacity="0.250" filter="url(#bl1)"/><ellipse cx="283" cy="209" rx="5.41" ry="5.18" fill="url(#g)" opacity="0.222"/><ellipse cx="272.4" cy="213.7" rx="3.06" ry="2.35" fill="url(#g)" opacity="0.100"/><ellipse cx="283" cy="209" rx="4.35" ry="3.88" fill="url(#g)" opacity="0.500"/></g><path fill="#2626a8" d="M291.02 250.59h1.2v1.2h-1.2zM291.98 248.93h1.2v1.2h-1.2zM293.61 233.17h1.2v1.2h-1.2zM293.56 248.94h1.2v1.2h-1.2zM297.67 209.08h1.2v1.2h-1.2zM297.07 240.43h1.2v1.2h-1.2zM297.31 241.98h1.2v1.2h-1.2zM297.59 246.16h1.2v1.2h-1.2zM297.36 249h1.2v1.2h-1.2zM297.49 253.39h1.2v1.2h-1.2zM298.53 224.02h1.2v1.2h-1.2zM298.22 235.7h1.2v1.2h-1.2zM298.17 244.03h1.2v1.2h-1.2zM298.47 254.38h1.2v1.2h-1.2zM299.69 215.49h1.2v1.2h-1.2zM299.52 216.21h1.2v1.2h-1.2zM299.51 249.39h1.2v1.2h-1.2zM299.04 258.17h1.2v1.2h-1.2zM300.02 215.39h1.2v1.2h-1.2zM300.33 220.36h1.2v1.2h-1.2zM300.52 225.96h1.2v1.2h-1.2zM300.24 228.18h1.2v1.2h-1.2zM300.57 246.03h1.2v1.2h-1.2zM300.36 247.7h1.2v1.2h-1.2zM301.03 223.19h1.2v1.2h-1.2zM301.63 228.46h1.2v1.2h-1.2zM301.1 244.42h1.2v1.2h-1.2zM301.24 247.68h1.2v1.2h-1.2zM301.64 266.08h1.2v1.2h-1.2zM302.05 224.3h1.2v1.2h-1.2zM301.94 246.61h1.2v1.2h-1.2zM301.93 251.63h1.2v1.2h-1.2zM302.43 260.66h1.2v1.2h-1.2zM303.32 224.07h1.2v1.2h-1.2zM303.27 233.58h1.2v1.2h-1.2zM303.15 241.24h1.2v1.2h-1.2zM303.56 253.55h1.2v1.2h-1.2zM302.99 259.9h1.2v1.2h-1.2zM304.65 209.5h1.2v1.2h-1.2zM304.47 230.3h1.2v1.2h-1.2zM304.59 233.61h1.2v1.2h-1.2zM305.3 214.02h1.2v1.2h-1.2zM305.52 220h1.2v1.2h-1.2zM305.11 238.93h1.2v1.2h-1.2zM304.95 246.37h1.2v1.2h-1.2zM305.66 250.44h1.2v1.2h-1.2zM306.3 202.19h1.2v1.2h-1.2zM306.6 215.97h1.2v1.2h-1.2zM306.32 234.52h1.2v1.2h-1.2zM306.61 249.49h1.2v1.2h-1.2zM307.37 208.96h1.2v1.2h-1.2zM307.37 221.47h1.2v1.2h-1.2zM307.16 224.03h1.2v1.2h-1.2zM308.33 214.27h1.2v1.2h-1.2zM308.07 216.17h1.2v1.2h-1.2zM308.56 219.47h1.2v1.2h-1.2zM308.17 234.06h1.2v1.2h-1.2zM308.17 244.04h1.2v1.2h-1.2zM309.21 232.49h1.2v1.2h-1.2zM308.91 237.62h1.2v1.2h-1.2zM310.44 210.41h1.2v1.2h-1.2zM310.62 220.69h1.2v1.2h-1.2zM310.26 247.12h1.2v1.2h-1.2zM310.91 237.09h1.2v1.2h-1.2zM310.93 259.42h1.2v1.2h-1.2zM311.09 264.52h1.2v1.2h-1.2zM312.35 229.17h1.2v1.2h-1.2zM312.15 230.62h1.2v1.2h-1.2zM312.96 221h1.2v1.2h-1.2zM313.24 240.63h1.2v1.2h-1.2zM312.92 244.34h1.2v1.2h-1.2zM312.95 245.27h1.2v1.2h-1.2zM313.48 246.04h1.2v1.2h-1.2zM313.63 259.06h1.2v1.2h-1.2zM315.12 234.3h1.2v1.2h-1.2zM315.53 235.22h1.2v1.2h-1.2zM315.97 206.62h1.2v1.2h-1.2zM316.66 232.27h1.2v1.2h-1.2zM316.25 234.67h1.2v1.2h-1.2zM316.59 235.94h1.2v1.2h-1.2zM318.56 207.46h1.2v1.2h-1.2zM318.46 226.08h1.2v1.2h-1.2zM318.11 243.49h1.2v1.2h-1.2zM318.92 261.37h1.2v1.2h-1.2zM320.51 213.45h1.2v1.2h-1.2zM320.02 224.68h1.2v1.2h-1.2zM320.26 229.6h1.2v1.2h-1.2zM319.98 235.28h1.2v1.2h-1.2zM320.11 251.05h1.2v1.2h-1.2zM321.11 203.15h1.2v1.2h-1.2zM320.92 230.28h1.2v1.2h-1.2zM322.56 213.64h1.2v1.2h-1.2zM322.41 216.04h1.2v1.2h-1.2zM324.12 212.69h1.2v1.2h-1.2zM324.62 235.24h1.2v1.2h-1.2zM325.12 251.01h1.2v1.2h-1.2zM326.39 200.06h1.2v1.2h-1.2zM325.95 220.65h1.2v1.2h-1.2zM326.05 222.51h1.2v1.2h-1.2zM326.21 226.52h1.2v1.2h-1.2zM327.54 210.35h1.2v1.2h-1.2zM327.68 229.17h1.2v1.2h-1.2zM327.53 244.21h1.2v1.2h-1.2zM327.09 251h1.2v1.2h-1.2zM328.58 199.97h1.2v1.2h-1.2zM328.33 221.49h1.2v1.2h-1.2zM328.49 239.16h1.2v1.2h-1.2zM327.9 260.19h1.2v1.2h-1.2zM328.99 238.65h1.2v1.2h-1.2zM330.08 230.32h1.2v1.2h-1.2zM330.6 258.25h1.2v1.2h-1.2zM330.03 264.07h1.2v1.2h-1.2zM330.94 209.15h1.2v1.2h-1.2zM330.93 240.46h1.2v1.2h-1.2zM332.25 214.13h1.2v1.2h-1.2zM332.48 223.35h1.2v1.2h-1.2zM332.55 235.27h1.2v1.2h-1.2zM332.61 254.41h1.2v1.2h-1.2zM333.56 240.35h1.2v1.2h-1.2zM333 241.44h1.2v1.2h-1.2zM334.66 219h1.2v1.2h-1.2zM335.22 232.44h1.2v1.2h-1.2zM336.54 250.39h1.2v1.2h-1.2zM337.25 208.18h1.2v1.2h-1.2zM337.45 218.99h1.2v1.2h-1.2zM337.46 252.29h1.2v1.2h-1.2zM338.02 211.01h1.2v1.2h-1.2zM339.59 222.28h1.2v1.2h-1.2zM339.41 239.64h1.2v1.2h-1.2zM339.01 244.33h1.2v1.2h-1.2zM340.61 225.51h1.2v1.2h-1.2zM339.97 233.4h1.2v1.2h-1.2zM341.26 220.58h1.2v1.2h-1.2zM342.4 235.65h1.2v1.2h-1.2zM343.48 242.94h1.2v1.2h-1.2zM343.92 220.41h1.2v1.2h-1.2zM344.59 227.1h1.2v1.2h-1.2zM343.97 245.67h1.2v1.2h-1.2zM344.9 222.4h1.2v1.2h-1.2zM345.19 246.45h1.2v1.2h-1.2z"/><path fill="#3c3cc0" d="M297.69 227.03h1.2v1.2h-1.2zM296.99 246.9h1.2v1.2h-1.2zM298.09 237.92h1.2v1.2h-1.2zM298.08 241.35h1.2v1.2h-1.2zM297.92 253.49h1.2v1.2h-1.2zM299.61 213.91h1.2v1.2h-1.2zM299.61 239.36h1.2v1.2h-1.2zM298.97 242.21h1.2v1.2h-1.2zM299.38 248.38h1.2v1.2h-1.2zM300.46 196.42h1.2v1.2h-1.2zM301.63 216.25h1.2v1.2h-1.2zM301.57 234.5h1.2v1.2h-1.2zM301.55 243.58h1.2v1.2h-1.2zM300.97 245.01h1.2v1.2h-1.2zM301.6 253.47h1.2v1.2h-1.2zM301.23 255.68h1.2v1.2h-1.2zM301.21 262.67h1.2v1.2h-1.2zM301.92 208.03h1.2v1.2h-1.2zM302.03 214.3h1.2v1.2h-1.2zM302.1 226.31h1.2v1.2h-1.2zM302.33 239.06h1.2v1.2h-1.2zM301.92 250.31h1.2v1.2h-1.2zM302.24 256.69h1.2v1.2h-1.2zM303.41 198.41h1.2v1.2h-1.2zM303.32 204.13h1.2v1.2h-1.2zM303.36 217.59h1.2v1.2h-1.2zM302.95 230.21h1.2v1.2h-1.2zM303.06 254.46h1.2v1.2h-1.2zM304.53 217.95h1.2v1.2h-1.2zM304.32 234.65h1.2v1.2h-1.2zM304.41 239.98h1.2v1.2h-1.2zM304.35 245.53h1.2v1.2h-1.2zM304.13 248.42h1.2v1.2h-1.2zM303.93 253.67h1.2v1.2h-1.2zM304.02 260.13h1.2v1.2h-1.2zM305.58 206.57h1.2v1.2h-1.2zM305.03 244.4h1.2v1.2h-1.2zM306.65 208.2h1.2v1.2h-1.2zM306.65 235.6h1.2v1.2h-1.2zM306.4 265.55h1.2v1.2h-1.2zM307.57 236.24h1.2v1.2h-1.2zM307.58 255.53h1.2v1.2h-1.2zM307.47 256.29h1.2v1.2h-1.2zM307.91 201.57h1.2v1.2h-1.2zM308.36 220.01h1.2v1.2h-1.2zM308.64 224.58h1.2v1.2h-1.2zM308.69 253.42h1.2v1.2h-1.2zM308.51 256.19h1.2v1.2h-1.2zM309.24 221.08h1.2v1.2h-1.2zM308.98 226.05h1.2v1.2h-1.2zM310.07 255.7h1.2v1.2h-1.2zM310.53 264.03h1.2v1.2h-1.2zM311.34 220.45h1.2v1.2h-1.2zM311.61 225.27h1.2v1.2h-1.2zM310.97 233.45h1.2v1.2h-1.2zM311.5 249.67h1.2v1.2h-1.2zM312.42 218.69h1.2v1.2h-1.2zM312.22 220.28h1.2v1.2h-1.2zM312.39 237.99h1.2v1.2h-1.2zM312.32 241.59h1.2v1.2h-1.2zM312.25 248.68h1.2v1.2h-1.2zM313.57 176.21h1.2v1.2h-1.2zM313.15 215.12h1.2v1.2h-1.2zM313.49 226.65h1.2v1.2h-1.2zM313.64 237.03h1.2v1.2h-1.2zM312.99 242.39h1.2v1.2h-1.2zM314.19 199.69h1.2v1.2h-1.2zM314.04 217.22h1.2v1.2h-1.2zM313.98 220.5h1.2v1.2h-1.2zM315.54 212.17h1.2v1.2h-1.2zM315.03 216.3h1.2v1.2h-1.2zM315.51 225.41h1.2v1.2h-1.2zM316.06 221.5h1.2v1.2h-1.2zM316.64 265.67h1.2v1.2h-1.2zM318.08 235.99h1.2v1.2h-1.2zM319.43 219.53h1.2v1.2h-1.2zM319.49 255.09h1.2v1.2h-1.2zM320.19 201.31h1.2v1.2h-1.2zM320.27 207.62h1.2v1.2h-1.2zM320.61 234.17h1.2v1.2h-1.2zM321.09 208.48h1.2v1.2h-1.2zM323.23 207.24h1.2v1.2h-1.2zM323.65 222.58h1.2v1.2h-1.2zM323.67 231.33h1.2v1.2h-1.2zM323.15 256.2h1.2v1.2h-1.2zM324.19 218.34h1.2v1.2h-1.2zM324.3 219.48h1.2v1.2h-1.2zM324.43 222.44h1.2v1.2h-1.2zM324.52 247.57h1.2v1.2h-1.2zM323.95 253.29h1.2v1.2h-1.2zM324.27 258.49h1.2v1.2h-1.2zM325.58 217.55h1.2v1.2h-1.2zM324.91 228.67h1.2v1.2h-1.2zM325.24 249.4h1.2v1.2h-1.2zM325.36 253.24h1.2v1.2h-1.2zM326.12 214.29h1.2v1.2h-1.2zM326.39 240.11h1.2v1.2h-1.2zM327.02 212.43h1.2v1.2h-1.2zM328.62 222.62h1.2v1.2h-1.2zM329.45 209.37h1.2v1.2h-1.2zM328.97 210.17h1.2v1.2h-1.2zM329.46 229.15h1.2v1.2h-1.2zM329.35 245.1h1.2v1.2h-1.2zM329.59 246.9h1.2v1.2h-1.2zM328.99 258.21h1.2v1.2h-1.2zM329.94 205.09h1.2v1.2h-1.2zM330.2 239.39h1.2v1.2h-1.2zM330.5 247.31h1.2v1.2h-1.2zM330.14 250.06h1.2v1.2h-1.2zM331.56 216.01h1.2v1.2h-1.2zM331.57 217.95h1.2v1.2h-1.2zM331.62 222.58h1.2v1.2h-1.2zM331.66 225.36h1.2v1.2h-1.2zM331.25 249.37h1.2v1.2h-1.2zM331.06 260.31h1.2v1.2h-1.2zM332.14 209.27h1.2v1.2h-1.2zM332.63 222.58h1.2v1.2h-1.2zM332.64 236.58h1.2v1.2h-1.2zM332.51 257.12h1.2v1.2h-1.2zM332.94 215.44h1.2v1.2h-1.2zM333.16 225.37h1.2v1.2h-1.2zM333.18 237.94h1.2v1.2h-1.2zM333.53 243.03h1.2v1.2h-1.2zM333.08 249.55h1.2v1.2h-1.2zM334.55 208.04h1.2v1.2h-1.2zM334.43 222.22h1.2v1.2h-1.2zM334.54 223.24h1.2v1.2h-1.2zM335.15 222.56h1.2v1.2h-1.2zM335.3 237.37h1.2v1.2h-1.2zM337.21 207.68h1.2v1.2h-1.2zM337.58 224.56h1.2v1.2h-1.2zM336.95 230.06h1.2v1.2h-1.2zM341.69 209.46h1.2v1.2h-1.2zM343.44 210.16h1.2v1.2h-1.2zM343.08 215.35h1.2v1.2h-1.2zM343.04 227.33h1.2v1.2h-1.2zM343.95 214.46h1.2v1.2h-1.2zM345.32 201.59h1.2v1.2h-1.2z"/><path fill="#6060d4" d="M291.93 253.53h1.2v1.2h-1.2zM293.44 199.63h1.2v1.2h-1.2zM293.29 257.59h1.2v1.2h-1.2zM297.7 203.38h1.2v1.2h-1.2zM297.47 214.67h1.2v1.2h-1.2zM297.32 222.57h1.2v1.2h-1.2zM297.64 224.04h1.2v1.2h-1.2zM297.6 251.08h1.2v1.2h-1.2zM297.56 258.16h1.2v1.2h-1.2zM298.39 248.45h1.2v1.2h-1.2zM297.91 252.35h1.2v1.2h-1.2zM298.42 265.46h1.2v1.2h-1.2zM299.24 224.4h1.2v1.2h-1.2zM299.96 213.39h1.2v1.2h-1.2zM300.06 225.62h1.2v1.2h-1.2zM300.43 253.58h1.2v1.2h-1.2zM301.12 209.02h1.2v1.2h-1.2zM301.03 250.37h1.2v1.2h-1.2zM301.55 257.06h1.2v1.2h-1.2zM302.57 212.93h1.2v1.2h-1.2zM302.33 222.54h1.2v1.2h-1.2zM302.53 236.04h1.2v1.2h-1.2zM302.96 248.59h1.2v1.2h-1.2zM304.46 178.12h1.2v1.2h-1.2zM304.46 221.28h1.2v1.2h-1.2zM304.05 243.48h1.2v1.2h-1.2zM304.93 225.55h1.2v1.2h-1.2zM306.5 197.92h1.2v1.2h-1.2zM306.57 224.56h1.2v1.2h-1.2zM306.61 230.35h1.2v1.2h-1.2zM306.38 256.93h1.2v1.2h-1.2zM306.96 216.36h1.2v1.2h-1.2zM307.26 219.4h1.2v1.2h-1.2zM307 227.2h1.2v1.2h-1.2zM307.37 238.55h1.2v1.2h-1.2zM307.52 246.64h1.2v1.2h-1.2zM308.2 204.39h1.2v1.2h-1.2zM308.12 211.18h1.2v1.2h-1.2zM309.11 210.62h1.2v1.2h-1.2zM309.36 215.52h1.2v1.2h-1.2zM310.29 226.23h1.2v1.2h-1.2zM310.14 246.63h1.2v1.2h-1.2zM309.95 253.36h1.2v1.2h-1.2zM310.58 257.06h1.2v1.2h-1.2zM310.51 262.05h1.2v1.2h-1.2zM311.13 216.52h1.2v1.2h-1.2zM311.12 242.23h1.2v1.2h-1.2zM312.51 207.06h1.2v1.2h-1.2zM312.27 210.01h1.2v1.2h-1.2zM314.41 204.06h1.2v1.2h-1.2zM314.25 212.5h1.2v1.2h-1.2zM314.22 219.08h1.2v1.2h-1.2zM314.18 222.26h1.2v1.2h-1.2zM314.22 226.14h1.2v1.2h-1.2zM314.11 228.98h1.2v1.2h-1.2zM314.39 252.41h1.2v1.2h-1.2zM315.58 224.09h1.2v1.2h-1.2zM314.99 236.66h1.2v1.2h-1.2zM315.24 248.47h1.2v1.2h-1.2zM315.15 253.59h1.2v1.2h-1.2zM316.32 257.48h1.2v1.2h-1.2zM317.23 209.29h1.2v1.2h-1.2zM317.51 227.34h1.2v1.2h-1.2zM317.68 258.64h1.2v1.2h-1.2zM317.58 260h1.2v1.2h-1.2zM317.93 222.28h1.2v1.2h-1.2zM317.92 224.06h1.2v1.2h-1.2zM318.22 252.18h1.2v1.2h-1.2zM319.45 230.22h1.2v1.2h-1.2zM319.19 234.59h1.2v1.2h-1.2zM319.21 248.45h1.2v1.2h-1.2zM320.36 216.21h1.2v1.2h-1.2zM320.08 241.6h1.2v1.2h-1.2zM320.23 248.95h1.2v1.2h-1.2zM321.39 226.58h1.2v1.2h-1.2zM321.97 210.98h1.2v1.2h-1.2zM322.22 220.97h1.2v1.2h-1.2zM322.23 245.63h1.2v1.2h-1.2zM322.06 250.56h1.2v1.2h-1.2zM323.69 202.92h1.2v1.2h-1.2zM323.37 213.28h1.2v1.2h-1.2zM323.3 243.34h1.2v1.2h-1.2zM324.66 200.98h1.2v1.2h-1.2zM324.08 229.23h1.2v1.2h-1.2zM324.05 252.67h1.2v1.2h-1.2zM325.33 219.12h1.2v1.2h-1.2zM325.14 264.09h1.2v1.2h-1.2zM327.18 202.49h1.2v1.2h-1.2zM327.14 209.61h1.2v1.2h-1.2zM326.96 231.18h1.2v1.2h-1.2zM326.93 233.91h1.2v1.2h-1.2zM328.43 227.99h1.2v1.2h-1.2zM328.39 262.06h1.2v1.2h-1.2zM329.02 252.03h1.2v1.2h-1.2zM330.29 207.34h1.2v1.2h-1.2zM330.16 213.25h1.2v1.2h-1.2zM330.69 253.43h1.2v1.2h-1.2zM331.22 213.38h1.2v1.2h-1.2zM331.3 215.37h1.2v1.2h-1.2zM330.94 238.25h1.2v1.2h-1.2zM331.93 207.28h1.2v1.2h-1.2zM332.61 228.95h1.2v1.2h-1.2zM332.23 258.38h1.2v1.2h-1.2zM333.18 192.45h1.2v1.2h-1.2zM333.63 229.28h1.2v1.2h-1.2zM333.66 239.37h1.2v1.2h-1.2zM334.14 251.63h1.2v1.2h-1.2zM334.42 253.22h1.2v1.2h-1.2zM335.52 206.41h1.2v1.2h-1.2zM335.09 219.09h1.2v1.2h-1.2zM335.49 226.3h1.2v1.2h-1.2zM338.54 203.44h1.2v1.2h-1.2zM338.03 208.44h1.2v1.2h-1.2zM338.14 209.61h1.2v1.2h-1.2zM338.31 214.45h1.2v1.2h-1.2zM339.14 202.61h1.2v1.2h-1.2zM339.13 248.59h1.2v1.2h-1.2zM341.51 213.12h1.2v1.2h-1.2zM341.91 218.18h1.2v1.2h-1.2zM341.94 234.17h1.2v1.2h-1.2zM343.05 226.21h1.2v1.2h-1.2zM344.22 243.35h1.2v1.2h-1.2zM347.04 205h1.2v1.2h-1.2z"/><path fill="#0a1ee6" d="M255.01 226.21h1.2v1.2h-1.2zM256.23 194.42h1.2v1.2h-1.2zM256.48 229.43h1.2v1.2h-1.2zM256.43 231.16h1.2v1.2h-1.2zM256.12 258.18h1.2v1.2h-1.2zM257.99 234.16h1.2v1.2h-1.2zM258.43 261.3h1.2v1.2h-1.2zM258.54 263.2h1.2v1.2h-1.2zM259.43 238.5h1.2v1.2h-1.2zM260.26 239.55h1.2v1.2h-1.2zM260.62 243.69h1.2v1.2h-1.2zM260.02 250.98h1.2v1.2h-1.2zM262.69 193.2h1.2v1.2h-1.2zM262.18 237.17h1.2v1.2h-1.2zM262.3 253.23h1.2v1.2h-1.2zM262.14 264.35h1.2v1.2h-1.2zM263.31 192.2h1.2v1.2h-1.2zM263.49 241.01h1.2v1.2h-1.2zM262.9 246.15h1.2v1.2h-1.2zM263.48 249.13h1.2v1.2h-1.2zM264.03 241.49h1.2v1.2h-1.2zM264.31 243.68h1.2v1.2h-1.2zM264.06 255.12h1.2v1.2h-1.2zM263.91 263.35h1.2v1.2h-1.2zM264.97 261.52h1.2v1.2h-1.2zM266.69 246.99h1.2v1.2h-1.2zM267.21 243.01h1.2v1.2h-1.2zM267.69 257.99h1.2v1.2h-1.2zM268.06 257.26h1.2v1.2h-1.2zM268.45 263.59h1.2v1.2h-1.2zM269.29 190.98h1.2v1.2h-1.2zM268.98 253.37h1.2v1.2h-1.2zM270.2 192.37h1.2v1.2h-1.2zM270.69 248.7h1.2v1.2h-1.2zM270.08 260.44h1.2v1.2h-1.2zM270.22 263.4h1.2v1.2h-1.2zM271.55 193.18h1.2v1.2h-1.2zM271.21 259.47h1.2v1.2h-1.2zM272.61 263.22h1.2v1.2h-1.2zM273.56 265.22h1.2v1.2h-1.2zM274.03 251.42h1.2v1.2h-1.2zM273.97 256.37h1.2v1.2h-1.2zM274.93 191.55h1.2v1.2h-1.2zM275.69 249.62h1.2v1.2h-1.2zM276.93 190.4h1.2v1.2h-1.2zM277.47 253.55h1.2v1.2h-1.2zM277.11 261.58h1.2v1.2h-1.2zM278.5 191.19h1.2v1.2h-1.2zM278.09 256.56h1.2v1.2h-1.2zM279.25 263.19h1.2v1.2h-1.2zM280.22 260.06h1.2v1.2h-1.2zM280.91 254.92h1.2v1.2h-1.2zM281.14 262.33h1.2v1.2h-1.2zM282.67 253.61h1.2v1.2h-1.2zM283.18 253.58h1.2v1.2h-1.2zM283.24 256.33h1.2v1.2h-1.2zM284 252.24h1.2v1.2h-1.2zM285.2 249.95h1.2v1.2h-1.2zM285.12 252.44h1.2v1.2h-1.2zM285.37 254.02h1.2v1.2h-1.2zM285.59 261.26h1.2v1.2h-1.2zM286.08 252h1.2v1.2h-1.2zM286.59 263.05h1.2v1.2h-1.2zM287.44 189.12h1.2v1.2h-1.2zM287.05 262.03h1.2v1.2h-1.2zM288.55 191.36h1.2v1.2h-1.2zM289.47 247.91h1.2v1.2h-1.2zM289.98 246.47h1.2v1.2h-1.2zM290.3 247.69h1.2v1.2h-1.2zM291.47 192.57h1.2v1.2h-1.2zM292.68 244.13h1.2v1.2h-1.2z"/><path fill="#2844f0" d="M255.54 227.57h1.2v1.2h-1.2zM256.5 228.09h1.2v1.2h-1.2zM255.94 249.18h1.2v1.2h-1.2zM256 254.7h1.2v1.2h-1.2zM256.37 256.55h1.2v1.2h-1.2zM257.63 253.99h1.2v1.2h-1.2zM257.22 263.17h1.2v1.2h-1.2zM259.4 192.32h1.2v1.2h-1.2zM259.65 232.44h1.2v1.2h-1.2zM259.66 260.07h1.2v1.2h-1.2zM260.33 256.92h1.2v1.2h-1.2zM260.17 261.47h1.2v1.2h-1.2zM260.57 263.16h1.2v1.2h-1.2zM261.24 250.34h1.2v1.2h-1.2zM262.56 192.29h1.2v1.2h-1.2zM262.56 238.21h1.2v1.2h-1.2zM262.3 245.59h1.2v1.2h-1.2zM262.11 255.36h1.2v1.2h-1.2zM263.44 244.58h1.2v1.2h-1.2zM263.32 254.24h1.2v1.2h-1.2zM263.63 257.49h1.2v1.2h-1.2zM263.54 260.47h1.2v1.2h-1.2zM264.09 246.98h1.2v1.2h-1.2zM264.42 261.08h1.2v1.2h-1.2zM264.58 264.94h1.2v1.2h-1.2zM265.29 252.07h1.2v1.2h-1.2zM265.63 262.98h1.2v1.2h-1.2zM266.46 252.58h1.2v1.2h-1.2zM266.64 254.18h1.2v1.2h-1.2zM266.67 260.13h1.2v1.2h-1.2zM267.21 244.97h1.2v1.2h-1.2zM267.92 191.92h1.2v1.2h-1.2zM268.06 246.08h1.2v1.2h-1.2zM268.49 258.16h1.2v1.2h-1.2zM269.03 190.08h1.2v1.2h-1.2zM269.41 245.63h1.2v1.2h-1.2zM269.11 255.61h1.2v1.2h-1.2zM269.69 257.93h1.2v1.2h-1.2zM269.49 263.62h1.2v1.2h-1.2zM270.35 250.98h1.2v1.2h-1.2zM270.48 261.09h1.2v1.2h-1.2zM270.94 249.62h1.2v1.2h-1.2zM271.49 251.47h1.2v1.2h-1.2zM271.01 254.28h1.2v1.2h-1.2zM272.69 249.37h1.2v1.2h-1.2zM272.2 261.63h1.2v1.2h-1.2zM273.2 254.62h1.2v1.2h-1.2zM274.35 250.35h1.2v1.2h-1.2zM275.03 251.62h1.2v1.2h-1.2zM275 261.06h1.2v1.2h-1.2zM276.08 253.32h1.2v1.2h-1.2zM277.26 192.62h1.2v1.2h-1.2zM277.05 252.67h1.2v1.2h-1.2zM279.11 254.01h1.2v1.2h-1.2zM280.96 253.26h1.2v1.2h-1.2zM282.58 192.59h1.2v1.2h-1.2zM282.65 254.56h1.2v1.2h-1.2zM283.62 190.42h1.2v1.2h-1.2zM282.94 191.27h1.2v1.2h-1.2zM283.62 254.99h1.2v1.2h-1.2zM283.28 260.13h1.2v1.2h-1.2zM284.3 266.53h1.2v1.2h-1.2zM285.69 255.66h1.2v1.2h-1.2zM286.25 192.54h1.2v1.2h-1.2zM288.55 249.37h1.2v1.2h-1.2zM288.62 258.94h1.2v1.2h-1.2zM293.1 242.19h1.2v1.2h-1.2zM292.92 245.35h1.2v1.2h-1.2z"/><path fill="#5a74f4" d="M255.24 253.2h1.2v1.2h-1.2zM254.92 253.94h1.2v1.2h-1.2zM256.54 230.4h1.2v1.2h-1.2zM256.16 246.36h1.2v1.2h-1.2zM257.42 230.48h1.2v1.2h-1.2zM257.37 252.5h1.2v1.2h-1.2zM257.48 253.5h1.2v1.2h-1.2zM259.56 193.56h1.2v1.2h-1.2zM259.45 194.16h1.2v1.2h-1.2zM259.2 233.15h1.2v1.2h-1.2zM258.98 252.17h1.2v1.2h-1.2zM260.28 234.53h1.2v1.2h-1.2zM261.46 235.7h1.2v1.2h-1.2zM261.13 237.57h1.2v1.2h-1.2zM261.35 254.44h1.2v1.2h-1.2zM261.26 256.2h1.2v1.2h-1.2zM261.98 261.53h1.2v1.2h-1.2zM263.42 191.36h1.2v1.2h-1.2zM263.21 259.04h1.2v1.2h-1.2zM263.04 264.25h1.2v1.2h-1.2zM264.04 193.16h1.2v1.2h-1.2zM264.47 239.45h1.2v1.2h-1.2zM264.28 242.06h1.2v1.2h-1.2zM264.03 258.6h1.2v1.2h-1.2zM264.15 259.34h1.2v1.2h-1.2zM265.49 193.02h1.2v1.2h-1.2zM265.26 248.11h1.2v1.2h-1.2zM265.11 251.22h1.2v1.2h-1.2zM265.04 255.19h1.2v1.2h-1.2zM265.95 193.18h1.2v1.2h-1.2zM266.68 249.07h1.2v1.2h-1.2zM266.12 263.38h1.2v1.2h-1.2zM267.32 255.4h1.2v1.2h-1.2zM267.51 257.03h1.2v1.2h-1.2zM268.03 254.97h1.2v1.2h-1.2zM268.36 255.98h1.2v1.2h-1.2zM269.08 245.95h1.2v1.2h-1.2zM269.18 259.58h1.2v1.2h-1.2zM270.14 191.62h1.2v1.2h-1.2zM270.38 250.56h1.2v1.2h-1.2zM270.37 255.53h1.2v1.2h-1.2zM270.01 264.66h1.2v1.2h-1.2zM271.04 192.18h1.2v1.2h-1.2zM271.4 257.35h1.2v1.2h-1.2zM271.67 258.28h1.2v1.2h-1.2zM272.47 248.33h1.2v1.2h-1.2zM272.42 251.14h1.2v1.2h-1.2zM273.05 246.3h1.2v1.2h-1.2zM274.05 191.66h1.2v1.2h-1.2zM274.23 248.4h1.2v1.2h-1.2zM274.37 263.6h1.2v1.2h-1.2zM274.06 264.93h1.2v1.2h-1.2zM274.4 266.45h1.2v1.2h-1.2zM275.67 260.56h1.2v1.2h-1.2zM275.15 266.37h1.2v1.2h-1.2zM276.33 252.23h1.2v1.2h-1.2zM276.04 260.24h1.2v1.2h-1.2zM276.96 255.7h1.2v1.2h-1.2zM278.59 258.58h1.2v1.2h-1.2zM280.06 192.49h1.2v1.2h-1.2zM280.25 254.41h1.2v1.2h-1.2zM282.47 263.1h1.2v1.2h-1.2zM282.34 265.98h1.2v1.2h-1.2zM283.01 192.22h1.2v1.2h-1.2zM283.93 253h1.2v1.2h-1.2zM284.67 253.96h1.2v1.2h-1.2zM284.09 265.62h1.2v1.2h-1.2zM284.94 251.38h1.2v1.2h-1.2zM285.46 253.52h1.2v1.2h-1.2zM286.04 250.17h1.2v1.2h-1.2zM287.56 249.57h1.2v1.2h-1.2zM290.55 191.17h1.2v1.2h-1.2zM291.66 245.57h1.2v1.2h-1.2zM291.34 259.53h1.2v1.2h-1.2zM292.63 243.25h1.2v1.2h-1.2zM292.19 250.39h1.2v1.2h-1.2zM294.05 242.19h1.2v1.2h-1.2z"/></g><path d="M295.5 160.5V268 M295.5 218.8H363" stroke="#cc22cc" stroke-width="1.6" fill="none"/><rect x="254" y="160.5" width="109" height="107.5" fill="none" stroke="#000" stroke-width="1.5"/><path d="M254 168.5h-3.8M254 171.2h-2.3M254 173.9h-2.3M254 176.6h-2.3M254 179.3h-2.3M254 182h-2.3M254 184.7h-2.3M254 187.4h-2.3M254 190.1h-2.3M254 192.8h-3.8M254 195.5h-2.3M254 198.2h-2.3M254 200.9h-2.3M254 203.6h-2.3M254 206.3h-2.3M254 209h-2.3M254 211.7h-2.3M254 214.4h-2.3M254 217.1h-3.8M254 219.8h-2.3M254 222.5h-2.3M254 225.2h-2.3M254 227.9h-2.3M254 230.6h-2.3M254 233.3h-2.3M254 236h-2.3M254 238.7h-2.3M254 241.4h-3.8M254 244.1h-2.3M254 246.8h-2.3M254 249.5h-2.3M254 252.2h-2.3M254 254.9h-2.3M254 257.6h-2.3M254 260.3h-2.3M254 263h-2.3M254 265.7h-3.8M256.5 268v2.3M259.2 268v2.3M261.9 268v2.3M264.6 268v2.3M267.3 268v3.8M270 268v2.3M272.7 268v2.3M275.4 268v2.3M278.1 268v2.3M280.8 268v2.3M283.5 268v2.3M286.2 268v2.3M288.9 268v2.3M291.6 268v3.8M294.3 268v2.3M297 268v2.3M299.7 268v2.3M302.4 268v2.3M305.1 268v2.3M307.8 268v2.3M310.5 268v2.3M313.2 268v2.3M315.9 268v3.8M318.6 268v2.3M321.3 268v2.3M324 268v2.3M326.7 268v2.3M329.4 268v2.3M332.1 268v2.3M334.8 268v2.3M337.5 268v2.3M340.2 268v3.8M342.9 268v2.3M345.6 268v2.3M348.3 268v2.3M351 268v2.3M353.7 268v2.3" stroke="#000" stroke-width="1" fill="none"/><text x="360" y="173.7" text-anchor="end" font-size="12.2">34%</text><text x="360" y="264" text-anchor="end" font-size="12.2">66%</text><clipPath id="c7"><rect x="372.8" y="161.3" width="106.4" height="105.9"/></clipPath><g clip-path="url(#c7)"><g filter="url(#jet)"><rect x="369" y="157.5" width="114" height="113.5" fill="none"/><path d="M370.92 186.92C371.33 173.87 370.75 186.73 373.36 187.29C375.96 187.85 381.94 189.79 386.56 190.29C391.17 190.79 397.54 189.85 401.05 190.28C404.56 190.7 406.22 191.21 407.63 192.86C409.04 194.51 409.19 188.88 409.51 200.17C409.83 211.46 409.9 249.73 409.53 260.6C409.17 271.47 413.75 264.56 407.32 265.39C400.88 266.22 376.99 278.66 370.92 265.58C364.85 252.5 370.51 199.97 370.92 186.92Z" fill-opacity="0.2" filter="url(#es)"/><ellipse cx="391.3" cy="236.8" rx="16.94" ry="20.59" fill="url(#g)" opacity="0.138"/><ellipse cx="402" cy="212" rx="7.41" ry="18.24" fill="url(#g)" opacity="0.138"/><ellipse cx="398" cy="226" rx="5.88" ry="9.41" fill="url(#g)" opacity="0.138" transform="rotate(-30 398 226)"/><ellipse cx="391.5" cy="236.4" rx="14.24" ry="16.82" fill="url(#g)" opacity="0.145"/><ellipse cx="402" cy="211.5" rx="4.47" ry="15.29" fill="url(#g)" opacity="0.145"/><ellipse cx="398.5" cy="226" rx="4.12" ry="7.06" fill="url(#g)" opacity="0.145" transform="rotate(-30 398.5 226)"/><ellipse cx="392" cy="236.4" rx="11.65" ry="12.71" fill="url(#g)" opacity="0.186"/><ellipse cx="402.3" cy="205" rx="2.94" ry="4.71" fill="url(#g)" opacity="0.186"/><ellipse cx="399" cy="229" rx="3.53" ry="5.88" fill="url(#g)" opacity="0.056" transform="rotate(-20 399 229)"/><ellipse cx="392.7" cy="236.5" rx="8.82" ry="8.47" fill="url(#g)" opacity="0.250"/><ellipse cx="392.8" cy="236.8" rx="7.06" ry="5.88" fill="url(#g)" opacity="0.222" transform="rotate(-20 392.8 236.8)"/><ellipse cx="392.8" cy="237" rx="4.71" ry="4.12" fill="url(#g)" opacity="0.500" transform="rotate(-20 392.8 237)"/></g><path fill="#2626a8" d="M411.62 250.58h1.2v1.2h-1.2zM412.2 228.54h1.2v1.2h-1.2zM414.1 229.62h1.2v1.2h-1.2zM414.51 239.24h1.2v1.2h-1.2zM415.64 230.42h1.2v1.2h-1.2zM415 233.42h1.2v1.2h-1.2zM415.92 199.51h1.2v1.2h-1.2zM416.47 237.43h1.2v1.2h-1.2zM416.24 240.24h1.2v1.2h-1.2zM416.59 245.55h1.2v1.2h-1.2zM416.37 245.9h1.2v1.2h-1.2zM416.46 264.66h1.2v1.2h-1.2zM417.23 230.27h1.2v1.2h-1.2zM416.97 232.06h1.2v1.2h-1.2zM417.57 236.38h1.2v1.2h-1.2zM417.37 238.58h1.2v1.2h-1.2zM417.61 239.61h1.2v1.2h-1.2zM418.48 218.15h1.2v1.2h-1.2zM418.58 220.47h1.2v1.2h-1.2zM419.46 239.47h1.2v1.2h-1.2zM418.92 239.97h1.2v1.2h-1.2zM419.41 249.98h1.2v1.2h-1.2zM420.46 194.07h1.2v1.2h-1.2zM419.96 233.66h1.2v1.2h-1.2zM419.92 237.12h1.2v1.2h-1.2zM421.22 209.47h1.2v1.2h-1.2zM420.97 232.01h1.2v1.2h-1.2zM422.07 214.37h1.2v1.2h-1.2zM422.66 257.64h1.2v1.2h-1.2zM422.9 230.99h1.2v1.2h-1.2zM423.39 234.93h1.2v1.2h-1.2zM423.21 237.17h1.2v1.2h-1.2zM423.06 238.64h1.2v1.2h-1.2zM423.3 240.53h1.2v1.2h-1.2zM423.12 244.69h1.2v1.2h-1.2zM424.61 197.92h1.2v1.2h-1.2zM424.42 239.48h1.2v1.2h-1.2zM425.38 217.6h1.2v1.2h-1.2zM425.04 227.57h1.2v1.2h-1.2zM425.31 231.67h1.2v1.2h-1.2zM425.18 233.08h1.2v1.2h-1.2zM425.36 238.62h1.2v1.2h-1.2zM425.05 243.32h1.2v1.2h-1.2zM425.46 251.62h1.2v1.2h-1.2zM426.14 237.17h1.2v1.2h-1.2zM427.42 247.08h1.2v1.2h-1.2zM427.92 191.98h1.2v1.2h-1.2zM429.21 237.56h1.2v1.2h-1.2zM429.57 251.2h1.2v1.2h-1.2zM430.99 192.53h1.2v1.2h-1.2zM430.97 198.7h1.2v1.2h-1.2zM431.52 207.1h1.2v1.2h-1.2zM431.02 220.01h1.2v1.2h-1.2zM431.59 237.12h1.2v1.2h-1.2zM431.38 238.52h1.2v1.2h-1.2zM431.06 243.16h1.2v1.2h-1.2zM431.12 250.24h1.2v1.2h-1.2zM432.58 227.03h1.2v1.2h-1.2zM432.57 238.03h1.2v1.2h-1.2zM432.34 240.16h1.2v1.2h-1.2zM432.09 241.05h1.2v1.2h-1.2zM432.48 244.66h1.2v1.2h-1.2zM433.03 241.07h1.2v1.2h-1.2zM434.33 192.97h1.2v1.2h-1.2zM434.41 218.56h1.2v1.2h-1.2zM433.93 231.21h1.2v1.2h-1.2zM434.62 233.13h1.2v1.2h-1.2zM434.93 225.22h1.2v1.2h-1.2zM435.34 235.48h1.2v1.2h-1.2zM435.27 237.94h1.2v1.2h-1.2zM436.41 232.38h1.2v1.2h-1.2zM436.31 241.24h1.2v1.2h-1.2zM437 193.23h1.2v1.2h-1.2zM437 246.6h1.2v1.2h-1.2zM437.5 247.12h1.2v1.2h-1.2zM438.45 193.15h1.2v1.2h-1.2zM438.41 223.18h1.2v1.2h-1.2zM438.49 226.41h1.2v1.2h-1.2zM439.14 239.63h1.2v1.2h-1.2zM439.23 242.7h1.2v1.2h-1.2zM439.27 244.95h1.2v1.2h-1.2zM440.39 204.99h1.2v1.2h-1.2zM440.62 229.12h1.2v1.2h-1.2zM440.3 232.07h1.2v1.2h-1.2zM440.32 234.02h1.2v1.2h-1.2zM439.98 239.06h1.2v1.2h-1.2zM441.51 220.46h1.2v1.2h-1.2zM441.05 226.35h1.2v1.2h-1.2zM441.21 227.07h1.2v1.2h-1.2zM441.03 242.35h1.2v1.2h-1.2zM441.94 244.12h1.2v1.2h-1.2zM442.59 248.31h1.2v1.2h-1.2zM442.65 250.13h1.2v1.2h-1.2zM443.43 230.54h1.2v1.2h-1.2zM445.29 229.29h1.2v1.2h-1.2zM445.33 234.56h1.2v1.2h-1.2zM446.31 235.08h1.2v1.2h-1.2zM447.28 249.31h1.2v1.2h-1.2zM448.28 239.17h1.2v1.2h-1.2zM448.57 251.37h1.2v1.2h-1.2zM448.94 234.97h1.2v1.2h-1.2zM450.55 229.69h1.2v1.2h-1.2zM450.6 240.18h1.2v1.2h-1.2zM450.69 241.08h1.2v1.2h-1.2zM451.56 226.98h1.2v1.2h-1.2zM451.08 244.64h1.2v1.2h-1.2zM453.28 225.07h1.2v1.2h-1.2zM453.07 246.54h1.2v1.2h-1.2zM453.14 247.05h1.2v1.2h-1.2zM454.23 234.39h1.2v1.2h-1.2zM455.46 227.48h1.2v1.2h-1.2zM455.13 235.01h1.2v1.2h-1.2zM455.38 236.25h1.2v1.2h-1.2zM455.44 247.06h1.2v1.2h-1.2zM456.55 230.24h1.2v1.2h-1.2zM456.6 235.17h1.2v1.2h-1.2zM456.64 241.66h1.2v1.2h-1.2zM457.61 237.33h1.2v1.2h-1.2zM457.56 245.95h1.2v1.2h-1.2zM457.46 251.23h1.2v1.2h-1.2zM461.05 230.24h1.2v1.2h-1.2zM462.42 234.56h1.2v1.2h-1.2z"/><path fill="#3c3cc0" d="M411.63 232.58h1.2v1.2h-1.2zM411.26 233.25h1.2v1.2h-1.2zM412.08 245.46h1.2v1.2h-1.2zM415.09 249.46h1.2v1.2h-1.2zM415.95 225.01h1.2v1.2h-1.2zM417.25 229.42h1.2v1.2h-1.2zM417.25 241.61h1.2v1.2h-1.2zM416.94 242.59h1.2v1.2h-1.2zM416.93 243.23h1.2v1.2h-1.2zM417.27 252.21h1.2v1.2h-1.2zM417.24 254.54h1.2v1.2h-1.2zM418.34 195.16h1.2v1.2h-1.2zM418.17 225.6h1.2v1.2h-1.2zM418.1 240.01h1.2v1.2h-1.2zM419.26 193.95h1.2v1.2h-1.2zM419.42 231.24h1.2v1.2h-1.2zM419.16 232.4h1.2v1.2h-1.2zM419.3 234.98h1.2v1.2h-1.2zM419.93 192.59h1.2v1.2h-1.2zM421.68 192.2h1.2v1.2h-1.2zM421.03 215.29h1.2v1.2h-1.2zM421.13 225.32h1.2v1.2h-1.2zM421.56 226.66h1.2v1.2h-1.2zM420.95 234.64h1.2v1.2h-1.2zM421.02 236.68h1.2v1.2h-1.2zM420.93 243.19h1.2v1.2h-1.2zM422.63 226.4h1.2v1.2h-1.2zM422.32 229.48h1.2v1.2h-1.2zM422.59 236.19h1.2v1.2h-1.2zM422.59 241.49h1.2v1.2h-1.2zM422.13 245.58h1.2v1.2h-1.2zM422.15 246.22h1.2v1.2h-1.2zM423.34 236.37h1.2v1.2h-1.2zM424.59 230.61h1.2v1.2h-1.2zM425.47 232.44h1.2v1.2h-1.2zM425.5 236.44h1.2v1.2h-1.2zM426.39 187.12h1.2v1.2h-1.2zM427.28 186.27h1.2v1.2h-1.2zM427.68 224.17h1.2v1.2h-1.2zM427.15 243.57h1.2v1.2h-1.2zM427.66 245.4h1.2v1.2h-1.2zM428.51 228h1.2v1.2h-1.2zM428.38 228.96h1.2v1.2h-1.2zM428.49 231.55h1.2v1.2h-1.2zM428.29 235.46h1.2v1.2h-1.2zM428.23 239.09h1.2v1.2h-1.2zM428.21 251.53h1.2v1.2h-1.2zM429.54 243.08h1.2v1.2h-1.2zM429.14 248.07h1.2v1.2h-1.2zM430.28 224.97h1.2v1.2h-1.2zM429.91 241.21h1.2v1.2h-1.2zM431.57 241.24h1.2v1.2h-1.2zM431.7 243.96h1.2v1.2h-1.2zM432.08 217.68h1.2v1.2h-1.2zM432.64 227.97h1.2v1.2h-1.2zM432.16 243.39h1.2v1.2h-1.2zM433.35 195.37h1.2v1.2h-1.2zM433.58 239.52h1.2v1.2h-1.2zM434.34 236.23h1.2v1.2h-1.2zM436 233.39h1.2v1.2h-1.2zM436.56 250.11h1.2v1.2h-1.2zM436.97 232.49h1.2v1.2h-1.2zM436.95 241.56h1.2v1.2h-1.2zM437.21 249.09h1.2v1.2h-1.2zM438.16 240.62h1.2v1.2h-1.2zM439.49 214.55h1.2v1.2h-1.2zM439.22 227.14h1.2v1.2h-1.2zM439.11 236.12h1.2v1.2h-1.2zM439.36 240.07h1.2v1.2h-1.2zM439.64 248.06h1.2v1.2h-1.2zM440.53 196.19h1.2v1.2h-1.2zM440.07 227.38h1.2v1.2h-1.2zM441.09 189.66h1.2v1.2h-1.2zM441.4 229.53h1.2v1.2h-1.2zM441.5 240.52h1.2v1.2h-1.2zM442.28 231.05h1.2v1.2h-1.2zM442.32 245.17h1.2v1.2h-1.2zM443.23 245.46h1.2v1.2h-1.2zM444.52 240.51h1.2v1.2h-1.2zM445.64 231.28h1.2v1.2h-1.2zM445.53 233.6h1.2v1.2h-1.2zM446.22 251.5h1.2v1.2h-1.2zM446.98 237.32h1.2v1.2h-1.2zM447.25 239.19h1.2v1.2h-1.2zM447.68 247.59h1.2v1.2h-1.2zM447.63 251.08h1.2v1.2h-1.2zM448.16 236.05h1.2v1.2h-1.2zM449.2 242.39h1.2v1.2h-1.2zM450.68 230.24h1.2v1.2h-1.2zM450.48 231.45h1.2v1.2h-1.2zM450.03 234.09h1.2v1.2h-1.2zM450.47 242.02h1.2v1.2h-1.2zM450.39 246.01h1.2v1.2h-1.2zM450.91 231.69h1.2v1.2h-1.2zM452.21 226.49h1.2v1.2h-1.2zM454.49 232.49h1.2v1.2h-1.2zM457.65 226.67h1.2v1.2h-1.2zM457.22 231.97h1.2v1.2h-1.2zM457.68 250.41h1.2v1.2h-1.2zM458.67 248.48h1.2v1.2h-1.2zM459.42 232.08h1.2v1.2h-1.2zM461.36 242.11h1.2v1.2h-1.2z"/><path fill="#6060d4" d="M411.67 225.53h1.2v1.2h-1.2zM410.97 237.98h1.2v1.2h-1.2zM415.47 227.95h1.2v1.2h-1.2zM415.68 233.97h1.2v1.2h-1.2zM415.33 241.64h1.2v1.2h-1.2zM415.24 251.64h1.2v1.2h-1.2zM416.41 203.01h1.2v1.2h-1.2zM416.61 222.46h1.2v1.2h-1.2zM416.4 232.38h1.2v1.2h-1.2zM415.95 241.02h1.2v1.2h-1.2zM416.14 247.08h1.2v1.2h-1.2zM417.62 206.59h1.2v1.2h-1.2zM417.53 234.09h1.2v1.2h-1.2zM417.17 239.94h1.2v1.2h-1.2zM417.43 262.64h1.2v1.2h-1.2zM418.65 236.25h1.2v1.2h-1.2zM419.6 188.31h1.2v1.2h-1.2zM419.9 232.16h1.2v1.2h-1.2zM420.65 265.31h1.2v1.2h-1.2zM421.41 200.46h1.2v1.2h-1.2zM421.11 208.02h1.2v1.2h-1.2zM421.24 233.25h1.2v1.2h-1.2zM421.56 240.37h1.2v1.2h-1.2zM422.26 234.97h1.2v1.2h-1.2zM421.98 239.1h1.2v1.2h-1.2zM423.37 210.98h1.2v1.2h-1.2zM423.01 228.27h1.2v1.2h-1.2zM423.1 232.35h1.2v1.2h-1.2zM424.59 226.15h1.2v1.2h-1.2zM423.92 240.16h1.2v1.2h-1.2zM425.02 203.34h1.2v1.2h-1.2zM424.99 208.36h1.2v1.2h-1.2zM424.91 240.53h1.2v1.2h-1.2zM426.4 240.46h1.2v1.2h-1.2zM426.39 249.69h1.2v1.2h-1.2zM427.39 233.05h1.2v1.2h-1.2zM427.11 244.25h1.2v1.2h-1.2zM428.05 214.43h1.2v1.2h-1.2zM428.56 226.09h1.2v1.2h-1.2zM428.01 232.24h1.2v1.2h-1.2zM428.31 234.3h1.2v1.2h-1.2zM429.59 194.06h1.2v1.2h-1.2zM428.94 198.55h1.2v1.2h-1.2zM429.67 229.18h1.2v1.2h-1.2zM429.49 236.55h1.2v1.2h-1.2zM430.17 236.12h1.2v1.2h-1.2zM430.35 242h1.2v1.2h-1.2zM432.34 232.61h1.2v1.2h-1.2zM432.49 232.9h1.2v1.2h-1.2zM433.36 229.08h1.2v1.2h-1.2zM433.01 235.31h1.2v1.2h-1.2zM433.04 237.39h1.2v1.2h-1.2zM433.22 240.35h1.2v1.2h-1.2zM434.67 245.99h1.2v1.2h-1.2zM435.06 234.09h1.2v1.2h-1.2zM436.15 230.62h1.2v1.2h-1.2zM436.09 247.43h1.2v1.2h-1.2zM437.29 234.15h1.2v1.2h-1.2zM437.48 238.41h1.2v1.2h-1.2zM437.57 248.59h1.2v1.2h-1.2zM438.68 219.09h1.2v1.2h-1.2zM438.57 228.18h1.2v1.2h-1.2zM438.1 238.99h1.2v1.2h-1.2zM439.28 243.1h1.2v1.2h-1.2zM440.54 243.13h1.2v1.2h-1.2zM441.07 190.05h1.2v1.2h-1.2zM441.48 230.39h1.2v1.2h-1.2zM441.4 237.15h1.2v1.2h-1.2zM442.53 239.3h1.2v1.2h-1.2zM444.58 239.35h1.2v1.2h-1.2zM444.54 241.38h1.2v1.2h-1.2zM445.13 237.97h1.2v1.2h-1.2zM445.12 243.58h1.2v1.2h-1.2zM446.48 246.51h1.2v1.2h-1.2zM447.1 250.4h1.2v1.2h-1.2zM448.27 228.11h1.2v1.2h-1.2zM448.06 235.1h1.2v1.2h-1.2zM448.1 247.26h1.2v1.2h-1.2zM448.3 249.24h1.2v1.2h-1.2zM449.33 229.29h1.2v1.2h-1.2zM451.34 232.47h1.2v1.2h-1.2zM451.15 234.57h1.2v1.2h-1.2zM451.09 238.62h1.2v1.2h-1.2zM452.11 231.95h1.2v1.2h-1.2zM452.03 241.3h1.2v1.2h-1.2zM452.36 242.13h1.2v1.2h-1.2zM453.65 227.37h1.2v1.2h-1.2zM453.5 231.41h1.2v1.2h-1.2zM453.34 238.39h1.2v1.2h-1.2zM453.32 250h1.2v1.2h-1.2zM455.59 231.55h1.2v1.2h-1.2zM455.48 232.03h1.2v1.2h-1.2zM455.16 249.9h1.2v1.2h-1.2zM457.38 227.3h1.2v1.2h-1.2zM458.21 250.68h1.2v1.2h-1.2zM460.16 245.51h1.2v1.2h-1.2zM461.37 225.37h1.2v1.2h-1.2zM461.23 251.47h1.2v1.2h-1.2z"/><path fill="#0a1ee6" d="M375.35 173.93h1.2v1.2h-1.2zM375.61 177.91h1.2v1.2h-1.2zM375.12 181.56h1.2v1.2h-1.2zM377.11 182.2h1.2v1.2h-1.2zM378.29 172.2h1.2v1.2h-1.2zM378.58 179.95h1.2v1.2h-1.2zM380.3 173.28h1.2v1.2h-1.2zM380.36 179.59h1.2v1.2h-1.2zM381.01 178.38h1.2v1.2h-1.2zM380.99 183.37h1.2v1.2h-1.2zM382.49 170.96h1.2v1.2h-1.2zM382.48 181.23h1.2v1.2h-1.2zM383.59 179.68h1.2v1.2h-1.2zM384.07 187.13h1.2v1.2h-1.2zM385.32 175.2h1.2v1.2h-1.2zM386.26 180.23h1.2v1.2h-1.2zM392.98 182.5h1.2v1.2h-1.2zM393.02 185.16h1.2v1.2h-1.2zM393.92 187.68h1.2v1.2h-1.2zM396.1 178.59h1.2v1.2h-1.2zM398.61 188.61h1.2v1.2h-1.2zM407.07 188.43h1.2v1.2h-1.2zM411.46 221.6h1.2v1.2h-1.2zM411.6 227.09h1.2v1.2h-1.2zM410.92 238.93h1.2v1.2h-1.2zM411.44 249.25h1.2v1.2h-1.2zM412.44 198.36h1.2v1.2h-1.2zM412.02 218.68h1.2v1.2h-1.2z"/><path fill="#2844f0" d="M373.46 174.13h1.2v1.2h-1.2zM376.37 175.31h1.2v1.2h-1.2zM376.68 176.15h1.2v1.2h-1.2zM376.15 182.92h1.2v1.2h-1.2zM380.67 186.35h1.2v1.2h-1.2zM383.65 176.32h1.2v1.2h-1.2zM384.37 185.63h1.2v1.2h-1.2zM385.65 183.24h1.2v1.2h-1.2zM387.18 175.04h1.2v1.2h-1.2zM388.1 177.58h1.2v1.2h-1.2zM388.37 181.58h1.2v1.2h-1.2zM388.91 181.15h1.2v1.2h-1.2zM398.93 186.16h1.2v1.2h-1.2zM411.16 234.16h1.2v1.2h-1.2zM411.68 244.37h1.2v1.2h-1.2zM411.51 248.67h1.2v1.2h-1.2zM412.03 215.91h1.2v1.2h-1.2zM412.49 229.57h1.2v1.2h-1.2zM412.19 259.15h1.2v1.2h-1.2zM412.03 260.33h1.2v1.2h-1.2z"/><path fill="#5a74f4" d="M376.24 173.34h1.2v1.2h-1.2zM376.93 184.52h1.2v1.2h-1.2zM379.59 172.43h1.2v1.2h-1.2zM379.06 176.99h1.2v1.2h-1.2zM379.16 183.33h1.2v1.2h-1.2zM380.43 168.56h1.2v1.2h-1.2zM383.02 174.17h1.2v1.2h-1.2zM383.53 177.96h1.2v1.2h-1.2zM384.17 178.05h1.2v1.2h-1.2zM385.15 176.17h1.2v1.2h-1.2zM385.59 187.19h1.2v1.2h-1.2zM386.35 179.08h1.2v1.2h-1.2zM386.99 184.67h1.2v1.2h-1.2zM390.3 177.51h1.2v1.2h-1.2zM390.46 179.26h1.2v1.2h-1.2zM391.53 171.03h1.2v1.2h-1.2zM391.44 178.96h1.2v1.2h-1.2zM391.49 180.69h1.2v1.2h-1.2zM394.54 172.59h1.2v1.2h-1.2zM394.45 188.5h1.2v1.2h-1.2zM395.06 184.27h1.2v1.2h-1.2zM395.23 186.66h1.2v1.2h-1.2zM396.55 176.31h1.2v1.2h-1.2zM398.97 188.6h1.2v1.2h-1.2zM400.42 174.16h1.2v1.2h-1.2zM405.29 186.94h1.2v1.2h-1.2zM408.99 188.33h1.2v1.2h-1.2zM411.26 200.51h1.2v1.2h-1.2zM411.39 244.91h1.2v1.2h-1.2zM411.61 246.26h1.2v1.2h-1.2zM411.59 256.53h1.2v1.2h-1.2zM411.16 260.23h1.2v1.2h-1.2zM411.98 240.21h1.2v1.2h-1.2z"/></g><path d="M413.5 160.5V268 M413.5 222.5H480" stroke="#cc22cc" stroke-width="1.6" fill="none"/><rect x="372" y="160.5" width="108" height="107.5" fill="none" stroke="#000" stroke-width="1.5"/><path d="M372 168.5h-3.8M372 171.2h-2.3M372 173.9h-2.3M372 176.6h-2.3M372 179.3h-2.3M372 182h-2.3M372 184.7h-2.3M372 187.4h-2.3M372 190.1h-2.3M372 192.8h-3.8M372 195.5h-2.3M372 198.2h-2.3M372 200.9h-2.3M372 203.6h-2.3M372 206.3h-2.3M372 209h-2.3M372 211.7h-2.3M372 214.4h-2.3M372 217.1h-3.8M372 219.8h-2.3M372 222.5h-2.3M372 225.2h-2.3M372 227.9h-2.3M372 230.6h-2.3M372 233.3h-2.3M372 236h-2.3M372 238.7h-2.3M372 241.4h-3.8M372 244.1h-2.3M372 246.8h-2.3M372 249.5h-2.3M372 252.2h-2.3M372 254.9h-2.3M372 257.6h-2.3M372 260.3h-2.3M372 263h-2.3M372 265.7h-3.8M374.5 268v2.3M377.2 268v2.3M379.9 268v2.3M382.6 268v2.3M385.3 268v3.8M388 268v2.3M390.7 268v2.3M393.4 268v2.3M396.1 268v2.3M398.8 268v2.3M401.5 268v2.3M404.2 268v2.3M406.9 268v2.3M409.6 268v3.8M412.3 268v2.3M415 268v2.3M417.7 268v2.3M420.4 268v2.3M423.1 268v2.3M425.8 268v2.3M428.5 268v2.3M431.2 268v2.3M433.9 268v3.8M436.6 268v2.3M439.3 268v2.3M442 268v2.3M444.7 268v2.3M447.4 268v2.3M450.1 268v2.3M452.8 268v2.3M455.5 268v2.3M458.2 268v3.8M460.9 268v2.3M463.6 268v2.3M466.3 268v2.3M469 268v2.3M471.7 268v2.3" stroke="#000" stroke-width="1" fill="none"/><text x="477" y="173.7" text-anchor="end" font-size="12.2">17%</text><text x="477" y="264" text-anchor="end" font-size="12.2">83%</text><text x="486.5" y="103.6" font-size="15">EC</text><text x="486.5" y="220.3" font-size="15">CP</text><path d="M20 287.8H221 M277 287.8H462" stroke="#000" stroke-width="1.7"/><path d="M461 281.5L478.5 287.8L461 294Z" fill="#000"/><text x="248.5" y="292.3" font-size="14.5" text-anchor="middle">IFN-γ</text><text x="0.8" y="325" font-size="17" font-weight="bold">B</text><text x="246" y="325" font-size="17" font-weight="bold">C</text><path d="M74.65 505.29V460.02 M72.25 460.92h4.8" stroke="#000" stroke-width="1.8" fill="none"/><rect x="70" y="505.29" width="9.3" height="86.71" fill="#000"/><path d="M86.45 556.31V533.68 M84.05 534.58h4.8" stroke="#000" stroke-width="1.8" fill="none"/><rect x="82.75" y="557.26" width="7.4" height="35.69" fill="#aaa" stroke="#000" stroke-width="1.9"/><path d="M97.65 550.55V533.68 M95.25 534.58h4.8" stroke="#000" stroke-width="1.8" fill="none"/><rect x="93.95" y="551.5" width="7.4" height="41.45" fill="#fff" stroke="#000" stroke-width="1.9"/><path d="M97.65 552.45h2.75v2.75h-2.75zM94.9 555.2h2.75v2.75h-2.75zM97.65 557.95h2.75v2.75h-2.75zM94.9 560.7h2.75v2.75h-2.75zM97.65 563.45h2.75v2.75h-2.75zM94.9 566.2h2.75v2.75h-2.75zM97.65 568.95h2.75v2.75h-2.75zM94.9 571.7h2.75v2.75h-2.75zM97.65 574.45h2.75v2.75h-2.75zM94.9 577.2h2.75v2.75h-2.75zM97.65 579.95h2.75v2.75h-2.75zM94.9 582.7h2.75v2.75h-2.75zM97.65 585.45h2.75v2.75h-2.75zM94.9 588.2h2.75v1.8h-2.75z" fill="#000"/><path d="M116.05 481.01V442.74 M113.65 443.64h4.8" stroke="#000" stroke-width="1.8" fill="none"/><rect x="111.4" y="481.01" width="9.3" height="110.99" fill="#000"/><path d="M127.85 508.58V473.19 M125.45 474.09h4.8" stroke="#000" stroke-width="1.8" fill="none"/><rect x="124.15" y="509.53" width="7.4" height="83.42" fill="#aaa" stroke="#000" stroke-width="1.9"/><path d="M139.05 511.46V473.19 M136.65 474.09h4.8" stroke="#000" stroke-width="1.8" fill="none"/><rect x="135.35" y="512.41" width="7.4" height="80.54" fill="#fff" stroke="#000" stroke-width="1.9"/><path d="M139.05 513.36h2.75v2.75h-2.75zM136.3 516.11h2.75v2.75h-2.75zM139.05 518.86h2.75v2.75h-2.75zM136.3 521.61h2.75v2.75h-2.75zM139.05 524.36h2.75v2.75h-2.75zM136.3 527.11h2.75v2.75h-2.75zM139.05 529.86h2.75v2.75h-2.75zM136.3 532.61h2.75v2.75h-2.75zM139.05 535.36h2.75v2.75h-2.75zM136.3 538.11h2.75v2.75h-2.75zM139.05 540.86h2.75v2.75h-2.75zM136.3 543.61h2.75v2.75h-2.75zM139.05 546.36h2.75v2.75h-2.75zM136.3 549.11h2.75v2.75h-2.75zM139.05 551.86h2.75v2.75h-2.75zM136.3 554.61h2.75v2.75h-2.75zM139.05 557.36h2.75v2.75h-2.75zM136.3 560.11h2.75v2.75h-2.75zM139.05 562.86h2.75v2.75h-2.75zM136.3 565.61h2.75v2.75h-2.75zM139.05 568.36h2.75v2.75h-2.75zM136.3 571.11h2.75v2.75h-2.75zM139.05 573.86h2.75v2.75h-2.75zM136.3 576.61h2.75v2.75h-2.75zM139.05 579.36h2.75v2.75h-2.75zM136.3 582.11h2.75v2.75h-2.75zM139.05 584.86h2.75v2.75h-2.75zM136.3 587.61h2.75v2.39h-2.75z" fill="#000"/><path d="M156.95 475.66V410.64 M154.55 411.54h4.8" stroke="#000" stroke-width="1.8" fill="none"/><rect x="152.3" y="475.66" width="9.3" height="116.34" fill="#000"/><path d="M168.75 503.23V443.56 M166.35 444.46h4.8" stroke="#000" stroke-width="1.8" fill="none"/><rect x="165.05" y="504.18" width="7.4" height="88.77" fill="#aaa" stroke="#000" stroke-width="1.9"/><path d="M179.95 468.25V422.57 M177.55 423.47h4.8" stroke="#000" stroke-width="1.8" fill="none"/><rect x="176.25" y="469.2" width="7.4" height="123.75" fill="#fff" stroke="#000" stroke-width="1.9"/><path d="M179.95 470.15h2.75v2.75h-2.75zM177.2 472.9h2.75v2.75h-2.75zM179.95 475.65h2.75v2.75h-2.75zM177.2 478.4h2.75v2.75h-2.75zM179.95 481.15h2.75v2.75h-2.75zM177.2 483.9h2.75v2.75h-2.75zM179.95 486.65h2.75v2.75h-2.75zM177.2 489.4h2.75v2.75h-2.75zM179.95 492.15h2.75v2.75h-2.75zM177.2 494.9h2.75v2.75h-2.75zM179.95 497.65h2.75v2.75h-2.75zM177.2 500.4h2.75v2.75h-2.75zM179.95 503.15h2.75v2.75h-2.75zM177.2 505.9h2.75v2.75h-2.75zM179.95 508.65h2.75v2.75h-2.75zM177.2 511.4h2.75v2.75h-2.75zM179.95 514.15h2.75v2.75h-2.75zM177.2 516.9h2.75v2.75h-2.75zM179.95 519.65h2.75v2.75h-2.75zM177.2 522.4h2.75v2.75h-2.75zM179.95 525.15h2.75v2.75h-2.75zM177.2 527.9h2.75v2.75h-2.75zM179.95 530.65h2.75v2.75h-2.75zM177.2 533.4h2.75v2.75h-2.75zM179.95 536.15h2.75v2.75h-2.75zM177.2 538.9h2.75v2.75h-2.75zM179.95 541.65h2.75v2.75h-2.75zM177.2 544.4h2.75v2.75h-2.75zM179.95 547.15h2.75v2.75h-2.75zM177.2 549.9h2.75v2.75h-2.75zM179.95 552.65h2.75v2.75h-2.75zM177.2 555.4h2.75v2.75h-2.75zM179.95 558.15h2.75v2.75h-2.75zM177.2 560.9h2.75v2.75h-2.75zM179.95 563.65h2.75v2.75h-2.75zM177.2 566.4h2.75v2.75h-2.75zM179.95 569.15h2.75v2.75h-2.75zM177.2 571.9h2.75v2.75h-2.75zM179.95 574.65h2.75v2.75h-2.75zM177.2 577.4h2.75v2.75h-2.75zM179.95 580.15h2.75v2.75h-2.75zM177.2 582.9h2.75v2.75h-2.75zM179.95 585.65h2.75v2.75h-2.75zM177.2 588.4h2.75v1.6h-2.75z" fill="#000"/><path d="M198.25 550.96V525.86 M195.85 526.76h4.8" stroke="#000" stroke-width="1.8" fill="none"/><rect x="193.6" y="550.96" width="9.3" height="41.04" fill="#000"/><path d="M210.05 566.6V541.91 M207.65 542.81h4.8" stroke="#000" stroke-width="1.8" fill="none"/><rect x="206.35" y="567.55" width="7.4" height="25.4" fill="#aaa" stroke="#000" stroke-width="1.9"/><path d="M221.25 547.26V516.81 M218.85 517.71h4.8" stroke="#000" stroke-width="1.8" fill="none"/><rect x="217.55" y="548.21" width="7.4" height="44.74" fill="#fff" stroke="#000" stroke-width="1.9"/><path d="M221.25 549.16h2.75v2.75h-2.75zM218.5 551.91h2.75v2.75h-2.75zM221.25 554.66h2.75v2.75h-2.75zM218.5 557.41h2.75v2.75h-2.75zM221.25 560.16h2.75v2.75h-2.75zM218.5 562.91h2.75v2.75h-2.75zM221.25 565.66h2.75v2.75h-2.75zM218.5 568.41h2.75v2.75h-2.75zM221.25 571.16h2.75v2.75h-2.75zM218.5 573.91h2.75v2.75h-2.75zM221.25 576.66h2.75v2.75h-2.75zM218.5 579.41h2.75v2.75h-2.75zM221.25 582.16h2.75v2.75h-2.75zM218.5 584.91h2.75v2.75h-2.75zM221.25 587.66h2.75v2.34h-2.75z" fill="#000"/><path d="M65.7 343.6V593.2 M60 591.7H230" stroke="#000" stroke-width="3" fill="none"/><path d="M60 550.55H65.2M60 509.4H65.2M60 468.25H65.2M60 427.1H65.2M60 385.95H65.2M60 344.8H65.2" stroke="#000" stroke-width="2.4" fill="none"/><text x="58.7" y="597.5" font-size="16.5" text-anchor="end">0</text><text x="58.7" y="556.35" font-size="16.5" text-anchor="end">10</text><text x="58.7" y="515.2" font-size="16.5" text-anchor="end">20</text><text x="58.7" y="474.05" font-size="16.5" text-anchor="end">30</text><text x="58.7" y="432.9" font-size="16.5" text-anchor="end">40</text><text x="58.7" y="391.75" font-size="16.5" text-anchor="end">50</text><text x="58.7" y="350.6" font-size="16.5" text-anchor="end">60</text><path d="M292.25 466.4V384.08 M289.85 384.98h4.8" stroke="#000" stroke-width="1.8" fill="none"/><rect x="287.6" y="466.4" width="9.3" height="125.6" fill="#000"/><path d="M304.05 553.81V531.19 M301.65 532.09h4.8" stroke="#000" stroke-width="1.8" fill="none"/><rect x="300.35" y="554.76" width="7.4" height="38.19" fill="#aaa" stroke="#000" stroke-width="1.9"/><path d="M315.25 546.67V516.52 M312.85 517.42h4.8" stroke="#000" stroke-width="1.8" fill="none"/><rect x="311.55" y="547.62" width="7.4" height="45.33" fill="#fff" stroke="#000" stroke-width="1.9"/><path d="M315.25 548.57h2.75v2.75h-2.75zM312.5 551.32h2.75v2.75h-2.75zM315.25 554.07h2.75v2.75h-2.75zM312.5 556.82h2.75v2.75h-2.75zM315.25 559.57h2.75v2.75h-2.75zM312.5 562.32h2.75v2.75h-2.75zM315.25 565.07h2.75v2.75h-2.75zM312.5 567.82h2.75v2.75h-2.75zM315.25 570.57h2.75v2.75h-2.75zM312.5 573.32h2.75v2.75h-2.75zM315.25 576.07h2.75v2.75h-2.75zM312.5 578.82h2.75v2.75h-2.75zM315.25 581.57h2.75v2.75h-2.75zM312.5 584.32h2.75v2.75h-2.75zM315.25 587.07h2.75v2.75h-2.75zM312.5 589.82h2.75v0.18h-2.75z" fill="#000"/><path d="M334.85 451.73V404.46 M332.45 405.36h4.8" stroke="#000" stroke-width="1.8" fill="none"/><rect x="330.2" y="451.73" width="9.3" height="140.27" fill="#000"/><path d="M346.65 508.78V484.74 M344.25 485.63h4.8" stroke="#000" stroke-width="1.8" fill="none"/><rect x="342.95" y="509.73" width="7.4" height="83.22" fill="#aaa" stroke="#000" stroke-width="1.9"/><path d="M357.85 538.52V510.41 M355.45 511.31h4.8" stroke="#000" stroke-width="1.8" fill="none"/><rect x="354.15" y="539.48" width="7.4" height="53.48" fill="#fff" stroke="#000" stroke-width="1.9"/><path d="M357.85 540.42h2.75v2.75h-2.75zM355.1 543.17h2.75v2.75h-2.75zM357.85 545.92h2.75v2.75h-2.75zM355.1 548.67h2.75v2.75h-2.75zM357.85 551.42h2.75v2.75h-2.75zM355.1 554.17h2.75v2.75h-2.75zM357.85 556.92h2.75v2.75h-2.75zM355.1 559.67h2.75v2.75h-2.75zM357.85 562.42h2.75v2.75h-2.75zM355.1 565.17h2.75v2.75h-2.75zM357.85 567.92h2.75v2.75h-2.75zM355.1 570.67h2.75v2.75h-2.75zM357.85 573.42h2.75v2.75h-2.75zM355.1 576.17h2.75v2.75h-2.75zM357.85 578.92h2.75v2.75h-2.75zM355.1 581.67h2.75v2.75h-2.75zM357.85 584.42h2.75v2.75h-2.75zM355.1 587.17h2.75v2.75h-2.75zM357.85 589.92h2.75v0.08h-2.75z" fill="#000"/><path d="M376.35 487.18V437.06 M373.95 437.96h4.8" stroke="#000" stroke-width="1.8" fill="none"/><rect x="371.7" y="487.18" width="9.3" height="104.82" fill="#000"/><path d="M388.15 463.95V379.6 M385.75 380.5h4.8" stroke="#000" stroke-width="1.8" fill="none"/><rect x="384.45" y="464.9" width="7.4" height="128.05" fill="#aaa" stroke="#000" stroke-width="1.9"/><path d="M399.35 450.5V411.79 M396.95 412.69h4.8" stroke="#000" stroke-width="1.8" fill="none"/><rect x="395.65" y="451.45" width="7.4" height="141.5" fill="#fff" stroke="#000" stroke-width="1.9"/><path d="M399.35 452.4h2.75v2.75h-2.75zM396.6 455.15h2.75v2.75h-2.75zM399.35 457.9h2.75v2.75h-2.75zM396.6 460.65h2.75v2.75h-2.75zM399.35 463.4h2.75v2.75h-2.75zM396.6 466.15h2.75v2.75h-2.75zM399.35 468.9h2.75v2.75h-2.75zM396.6 471.65h2.75v2.75h-2.75zM399.35 474.4h2.75v2.75h-2.75zM396.6 477.15h2.75v2.75h-2.75zM399.35 479.9h2.75v2.75h-2.75zM396.6 482.65h2.75v2.75h-2.75zM399.35 485.4h2.75v2.75h-2.75zM396.6 488.15h2.75v2.75h-2.75zM399.35 490.9h2.75v2.75h-2.75zM396.6 493.65h2.75v2.75h-2.75zM399.35 496.4h2.75v2.75h-2.75zM396.6 499.15h2.75v2.75h-2.75zM399.35 501.9h2.75v2.75h-2.75zM396.6 504.65h2.75v2.75h-2.75zM399.35 507.4h2.75v2.75h-2.75zM396.6 510.15h2.75v2.75h-2.75zM399.35 512.9h2.75v2.75h-2.75zM396.6 515.65h2.75v2.75h-2.75zM399.35 518.4h2.75v2.75h-2.75zM396.6 521.15h2.75v2.75h-2.75zM399.35 523.9h2.75v2.75h-2.75zM396.6 526.65h2.75v2.75h-2.75zM399.35 529.4h2.75v2.75h-2.75zM396.6 532.15h2.75v2.75h-2.75zM399.35 534.9h2.75v2.75h-2.75zM396.6 537.65h2.75v2.75h-2.75zM399.35 540.4h2.75v2.75h-2.75zM396.6 543.15h2.75v2.75h-2.75zM399.35 545.9h2.75v2.75h-2.75zM396.6 548.65h2.75v2.75h-2.75zM399.35 551.4h2.75v2.75h-2.75zM396.6 554.15h2.75v2.75h-2.75zM399.35 556.9h2.75v2.75h-2.75zM396.6 559.65h2.75v2.75h-2.75zM399.35 562.4h2.75v2.75h-2.75zM396.6 565.15h2.75v2.75h-2.75zM399.35 567.9h2.75v2.75h-2.75zM396.6 570.65h2.75v2.75h-2.75zM399.35 573.4h2.75v2.75h-2.75zM396.6 576.15h2.75v2.75h-2.75zM399.35 578.9h2.75v2.75h-2.75zM396.6 581.65h2.75v2.75h-2.75zM399.35 584.4h2.75v2.75h-2.75zM396.6 587.15h2.75v2.75h-2.75zM399.35 589.9h2.75v0.1h-2.75z" fill="#000"/><path d="M418.95 525.08V498.59 M416.55 499.49h4.8" stroke="#000" stroke-width="1.8" fill="none"/><rect x="414.3" y="525.08" width="9.3" height="66.92" fill="#000"/><path d="M430.75 542.19V523.45 M428.35 524.35h4.8" stroke="#000" stroke-width="1.8" fill="none"/><rect x="427.05" y="543.14" width="7.4" height="49.81" fill="#aaa" stroke="#000" stroke-width="1.9"/><path d="M441.95 542.19V500.63 M439.55 501.53h4.8" stroke="#000" stroke-width="1.8" fill="none"/><rect x="438.25" y="543.14" width="7.4" height="49.81" fill="#fff" stroke="#000" stroke-width="1.9"/><path d="M441.95 544.09h2.75v2.75h-2.75zM439.2 546.84h2.75v2.75h-2.75zM441.95 549.59h2.75v2.75h-2.75zM439.2 552.34h2.75v2.75h-2.75zM441.95 555.09h2.75v2.75h-2.75zM439.2 557.84h2.75v2.75h-2.75zM441.95 560.59h2.75v2.75h-2.75zM439.2 563.34h2.75v2.75h-2.75zM441.95 566.09h2.75v2.75h-2.75zM439.2 568.84h2.75v2.75h-2.75zM441.95 571.59h2.75v2.75h-2.75zM439.2 574.34h2.75v2.75h-2.75zM441.95 577.09h2.75v2.75h-2.75zM439.2 579.84h2.75v2.75h-2.75zM441.95 582.59h2.75v2.75h-2.75zM439.2 585.34h2.75v2.75h-2.75zM441.95 588.09h2.75v1.91h-2.75z" fill="#000"/><path d="M283.5 345.8V593 M277.8 591.5H452" stroke="#000" stroke-width="3" fill="none"/><path d="M277.8 550.75H283M277.8 510H283M277.8 469.25H283M277.8 428.5H283M277.8 387.75H283M277.8 347H283" stroke="#000" stroke-width="2.4" fill="none"/><text x="275.5" y="597.3" font-size="16.5" text-anchor="end">0</text><text x="275.5" y="556.55" font-size="16.5" text-anchor="end">10</text><text x="275.5" y="515.8" font-size="16.5" text-anchor="end">20</text><text x="275.5" y="475.05" font-size="16.5" text-anchor="end">30</text><text x="275.5" y="434.3" font-size="16.5" text-anchor="end">40</text><text x="275.5" y="393.55" font-size="16.5" text-anchor="end">50</text><text x="275.5" y="352.8" font-size="16.5" text-anchor="end">60</text><path d="M85.8 592v5.8M127.2 592v5.8M168.1 592v5.8M209.4 592v5.8M303.4 592v5.8M346 592v5.8M387.5 592v5.8M430.1 592v5.8" stroke="#000" stroke-width="2.4" fill="none"/><text x="148.5" y="342" font-size="16" text-anchor="middle">Gag</text><text x="366.5" y="342" font-size="16" text-anchor="middle">Nef</text><path d="M75.3 439.7H98.2" stroke="#000" stroke-width="1.3"/><path d="M86.75 435.2L86.75 433.6M86.75 435.2L85.23 434.71M86.75 435.2L85.81 436.49M86.75 435.2L87.69 436.49M86.75 435.2L88.27 434.71" stroke="#000" stroke-width="1.15" stroke-linecap="round"/><path d="M75.3 453.1H87.4" stroke="#000" stroke-width="1.3"/><path d="M79 448.6L79 447M79 448.6L77.48 448.11M79 448.6L78.06 449.89M79 448.6L79.94 449.89M79 448.6L80.52 448.11" stroke="#000" stroke-width="1.15" stroke-linecap="round"/><path d="M83.7 448.6L83.7 447M83.7 448.6L82.18 448.11M83.7 448.6L82.76 449.89M83.7 448.6L84.64 449.89M83.7 448.6L85.22 448.11" stroke="#000" stroke-width="1.15" stroke-linecap="round"/><path d="M115.6 421.8H138.9" stroke="#000" stroke-width="1.3"/><path d="M127.25 417.3L127.25 415.7M127.25 417.3L125.73 416.81M127.25 417.3L126.31 418.59M127.25 417.3L128.19 418.59M127.25 417.3L128.77 416.81" stroke="#000" stroke-width="1.15" stroke-linecap="round"/><path d="M115.6 435.9H127.8" stroke="#000" stroke-width="1.3"/><path d="M121.7 431.4L121.7 429.8M121.7 431.4L120.18 430.91M121.7 431.4L120.76 432.69M121.7 431.4L122.64 432.69M121.7 431.4L123.22 430.91" stroke="#000" stroke-width="1.15" stroke-linecap="round"/><path d="M292.9 363.5H316" stroke="#000" stroke-width="1.3"/><path d="M304.45 359L304.45 357.4M304.45 359L302.93 358.51M304.45 359L303.51 360.29M304.45 359L305.39 360.29M304.45 359L305.97 358.51" stroke="#000" stroke-width="1.15" stroke-linecap="round"/><path d="M292.9 377H305" stroke="#000" stroke-width="1.3"/><path d="M296.6 372.5L296.6 370.9M296.6 372.5L295.08 372.01M296.6 372.5L295.66 373.79M296.6 372.5L297.54 373.79M296.6 372.5L298.12 372.01" stroke="#000" stroke-width="1.15" stroke-linecap="round"/><path d="M301.3 372.5L301.3 370.9M301.3 372.5L299.78 372.01M301.3 372.5L300.36 373.79M301.3 372.5L302.24 373.79M301.3 372.5L302.82 372.01" stroke="#000" stroke-width="1.15" stroke-linecap="round"/><path d="M334.8 384H357.1" stroke="#000" stroke-width="1.3"/><path d="M343.6 379.5L343.6 377.9M343.6 379.5L342.08 379.01M343.6 379.5L342.66 380.79M343.6 379.5L344.54 380.79M343.6 379.5L345.12 379.01" stroke="#000" stroke-width="1.15" stroke-linecap="round"/><path d="M348.3 379.5L348.3 377.9M348.3 379.5L346.78 379.01M348.3 379.5L347.36 380.79M348.3 379.5L349.24 380.79M348.3 379.5L349.82 379.01" stroke="#000" stroke-width="1.15" stroke-linecap="round"/><path d="M334.8 397.1H346.5" stroke="#000" stroke-width="1.3"/><path d="M340.65 392.6L340.65 391M340.65 392.6L339.13 392.11M340.65 392.6L339.71 393.89M340.65 392.6L341.59 393.89M340.65 392.6L342.17 392.11" stroke="#000" stroke-width="1.15" stroke-linecap="round"/><text x="167.7" y="405.6" font-size="9" text-anchor="middle" style="fill:#222">N.S.</text><text x="208.6" y="510.5" font-size="9" text-anchor="middle" style="fill:#222">N.S.</text><text x="387.9" y="374" font-size="9" text-anchor="middle" style="fill:#222">N.S.</text><text x="429.5" y="493" font-size="9" text-anchor="middle" style="fill:#222">N.S.</text><rect x="449.2" y="365.6" width="12.2" height="6.8" fill="#000" stroke="#000" stroke-width="1.6"/><text x="466.3" y="372.8" font-size="11.6">EC</text><rect x="449.2" y="381.6" width="12.2" height="6.8" fill="#aaa" stroke="#000" stroke-width="1.6"/><text x="466.3" y="388.8" font-size="11.6">CP</text><rect x="449.2" y="397.6" width="12.2" height="6.8" fill="#fff" stroke="#000" stroke-width="1.6"/><path d="M450 398.4h2.3v2.3h-2.3zM454.6 398.4h2.3v2.3h-2.3zM459.2 398.4h1.4v2.3h-1.4zM452.3 400.7h2.3v2.3h-2.3zM456.9 400.7h2.3v2.3h-2.3zM450 403h2.3v0.6h-2.3zM454.6 403h2.3v0.6h-2.3zM459.2 403h1.4v0.6h-1.4z" fill="#000"/><text x="466.3" y="404.8" font-size="11.6">HAART</text><text transform="translate(25,466.6) rotate(-90)" font-size="15.8" letter-spacing="0.3" text-anchor="middle">% of the CD8<tspan font-size="11.5" dy="-6.5">+</tspan><tspan dy="6.5"> T cell Response</tspan></text><text transform="translate(89.5,609.3) rotate(-45)" font-size="17" text-anchor="end">Perforin</text><text transform="translate(130.9,609.3) rotate(-45)" font-size="17" text-anchor="end">Grz B</text><text transform="translate(171.8,609.3) rotate(-45)" font-size="17" text-anchor="end">Grz A</text><text transform="translate(213.1,609.3) rotate(-45)" font-size="17" text-anchor="end">Granulysin</text><text transform="translate(307.1,609.3) rotate(-45)" font-size="17" text-anchor="end">Perforin</text><text transform="translate(349.7,609.3) rotate(-45)" font-size="17" text-anchor="end">Grz B</text><text transform="translate(391.2,609.3) rotate(-45)" font-size="17" text-anchor="end">Grz A</text><text transform="translate(433.8,609.3) rotate(-45)" font-size="17" text-anchor="end">Granulysin</text></svg></body></html>
